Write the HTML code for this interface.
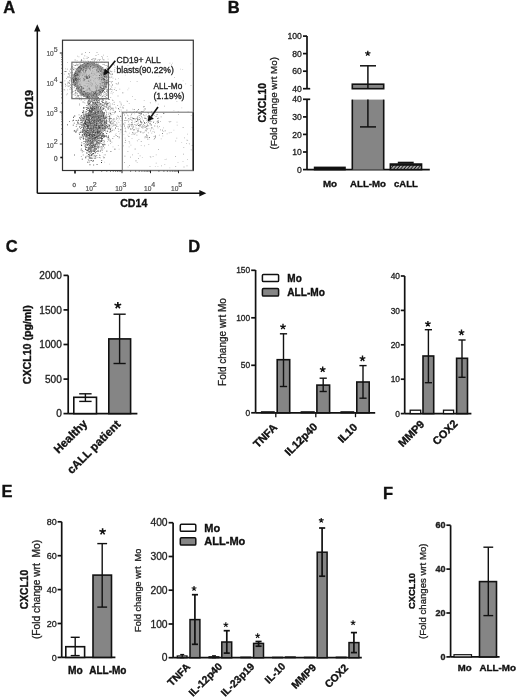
<!DOCTYPE html>
<html><head><meta charset="utf-8"><style>
html,body{margin:0;padding:0;background:#fff;width:520px;height:700px;overflow:hidden}
svg{display:block;will-change:transform}
text{font-family:"Liberation Sans",sans-serif}
</style></head><body>
<svg width="520" height="700" viewBox="0 0 520 700">
<rect width="520" height="700" fill="#fff"/>
<text x="3.2" y="13" font-size="16.5" font-weight="bold" text-anchor="start" fill="#111" stroke="#111" stroke-width="0.35" id="P_A">A</text>
<text x="227.7" y="13.1" font-size="16.5" font-weight="bold" text-anchor="start" fill="#111" stroke="#111" stroke-width="0.35" id="P_B">B</text>
<text x="5.8" y="251.8" font-size="16.5" font-weight="bold" text-anchor="start" fill="#111" stroke="#111" stroke-width="0.35" id="P_C">C</text>
<text x="188.2" y="252.1" font-size="16.5" font-weight="bold" text-anchor="start" fill="#111" stroke="#111" stroke-width="0.35" id="P_D">D</text>
<text x="1.5" y="496.9" font-size="16.5" font-weight="bold" text-anchor="start" fill="#111" stroke="#111" stroke-width="0.35" id="P_E">E</text>
<text x="383.1" y="499.2" font-size="16.5" font-weight="bold" text-anchor="start" fill="#111" stroke="#111" stroke-width="0.35" id="P_F">F</text>
<line x1="37.3" y1="30" x2="37.3" y2="193.3" stroke="#111" stroke-width="1.5"/>
<polygon points="37.3,24.3 34.1,31.5 40.5,31.5" fill="#111"/>
<line x1="37.3" y1="193.3" x2="200" y2="193.3" stroke="#111" stroke-width="1.5"/>
<polygon points="206.3,193.3 199.3,190.1 199.3,196.5" fill="#111"/>
<text x="32.6" y="103.5" font-size="10.5" font-weight="bold" text-anchor="middle" transform="rotate(-90 32.6 103.5)" fill="#111" stroke="#111" stroke-width="0.35">CD19</text>
<text x="120.2" y="207.3" font-size="10.5" font-weight="bold" text-anchor="start" textLength="27.1" lengthAdjust="spacingAndGlyphs" fill="#111" stroke="#111" stroke-width="0.35">CD14</text>
<path d="M75 74 C75 65 83 63 90 63 C98 63 105 67 105 75 C105 84 99.5 92 92 95.5 C87.5 97 82.5 95.5 79.5 90.5 C76.5 86 75 81 75 74 Z" fill="#c6c6c6"/>
<path d="M95.7 93.7h0.9v0.9h-0.9zM101.4 90.9h0.9v0.9h-0.9zM83.2 93.9h0.9v0.9h-0.9zM76.3 78.4h0.9v0.9h-0.9zM100.3 92.5h0.9v0.9h-0.9zM96.1 93.8h0.9v0.9h-0.9zM75.2 82.5h0.9v0.9h-0.9zM85.2 64.5h0.9v0.9h-0.9zM84.5 63.6h0.9v0.9h-0.9zM102.4 90.6h0.9v0.9h-0.9zM96.6 93.9h0.9v0.9h-0.9zM77.3 86.9h0.9v0.9h-0.9zM103.9 74.4h0.9v0.9h-0.9zM75.0 76.6h0.9v0.9h-0.9zM74.9 82.2h0.9v0.9h-0.9zM75.1 79.7h0.9v0.9h-0.9zM78.2 78.7h0.9v0.9h-0.9zM87.0 96.2h0.9v0.9h-0.9zM100.3 91.7h0.9v0.9h-0.9zM75.5 75.2h0.9v0.9h-0.9zM95.8 95.4h0.9v0.9h-0.9zM84.8 92.8h0.9v0.9h-0.9zM74.4 79.7h0.9v0.9h-0.9zM76.4 84.6h0.9v0.9h-0.9zM77.2 71.7h0.9v0.9h-0.9zM104.5 72.2h0.9v0.9h-0.9zM77.8 89.1h0.9v0.9h-0.9zM97.5 92.6h0.9v0.9h-0.9zM81.5 94.1h0.9v0.9h-0.9zM94.5 96.4h0.9v0.9h-0.9zM105.0 76.2h0.9v0.9h-0.9zM105.3 85.9h0.9v0.9h-0.9zM74.9 84.0h0.9v0.9h-0.9zM98.8 92.6h0.9v0.9h-0.9zM85.6 68.0h0.9v0.9h-0.9zM105.7 83.4h0.9v0.9h-0.9zM74.9 74.0h0.9v0.9h-0.9zM86.7 63.8h0.9v0.9h-0.9zM85.5 67.2h0.9v0.9h-0.9zM79.8 68.2h0.9v0.9h-0.9zM102.7 72.3h0.9v0.9h-0.9zM100.3 90.7h0.9v0.9h-0.9zM75.4 78.4h0.9v0.9h-0.9zM93.0 91.9h0.9v0.9h-0.9zM73.7 83.4h0.9v0.9h-0.9zM82.5 90.9h0.9v0.9h-0.9zM83.9 63.6h0.9v0.9h-0.9zM75.3 71.1h0.9v0.9h-0.9zM75.6 85.7h0.9v0.9h-0.9zM78.5 87.1h0.9v0.9h-0.9zM103.1 88.3h0.9v0.9h-0.9zM86.9 97.2h0.9v0.9h-0.9zM86.9 66.4h0.9v0.9h-0.9zM97.8 93.1h0.9v0.9h-0.9zM103.9 72.5h0.9v0.9h-0.9zM82.3 68.5h0.9v0.9h-0.9zM90.9 95.2h0.9v0.9h-0.9zM102.8 88.4h0.9v0.9h-0.9zM81.2 89.0h0.9v0.9h-0.9zM105.6 84.5h0.9v0.9h-0.9zM97.6 95.2h0.9v0.9h-0.9zM104.3 81.5h0.9v0.9h-0.9zM105.3 74.4h0.9v0.9h-0.9zM103.9 78.8h0.9v0.9h-0.9zM82.1 92.1h0.9v0.9h-0.9zM105.4 75.9h0.9v0.9h-0.9zM99.2 74.9h0.9v0.9h-0.9zM83.4 69.1h0.9v0.9h-0.9zM103.9 82.4h0.9v0.9h-0.9zM94.5 96.7h0.9v0.9h-0.9zM84.6 63.3h0.9v0.9h-0.9zM85.6 65.0h0.9v0.9h-0.9zM95.0 96.4h0.9v0.9h-0.9zM78.1 88.1h0.9v0.9h-0.9zM83.3 94.9h0.9v0.9h-0.9zM105.6 76.7h0.9v0.9h-0.9zM106.0 81.4h0.9v0.9h-0.9zM79.1 91.9h0.9v0.9h-0.9zM76.3 79.8h0.9v0.9h-0.9zM77.0 85.0h0.9v0.9h-0.9zM101.7 91.6h0.9v0.9h-0.9zM95.2 95.4h0.9v0.9h-0.9zM79.8 92.6h0.9v0.9h-0.9zM101.3 74.6h0.9v0.9h-0.9zM86.0 65.4h0.9v0.9h-0.9zM83.1 95.6h0.9v0.9h-0.9zM73.2 79.3h0.9v0.9h-0.9zM91.2 93.7h0.9v0.9h-0.9zM83.2 64.3h0.9v0.9h-0.9zM105.3 73.2h0.9v0.9h-0.9zM98.9 92.8h0.9v0.9h-0.9zM94.0 94.5h0.9v0.9h-0.9zM79.1 68.0h0.9v0.9h-0.9zM105.4 77.3h0.9v0.9h-0.9zM87.1 96.9h0.9v0.9h-0.9zM73.4 83.6h0.9v0.9h-0.9zM87.7 97.4h0.9v0.9h-0.9zM93.3 95.6h0.9v0.9h-0.9zM80.2 66.5h0.9v0.9h-0.9zM83.6 91.0h0.9v0.9h-0.9zM96.2 95.3h0.9v0.9h-0.9zM74.6 72.3h0.9v0.9h-0.9zM88.9 96.0h0.9v0.9h-0.9zM103.3 73.9h0.9v0.9h-0.9zM73.1 81.6h0.9v0.9h-0.9zM79.6 66.3h0.9v0.9h-0.9zM79.0 90.1h0.9v0.9h-0.9zM81.8 67.1h0.9v0.9h-0.9zM76.0 71.7h0.9v0.9h-0.9zM100.1 87.1h0.9v0.9h-0.9zM82.6 65.6h0.9v0.9h-0.9zM75.6 83.9h0.9v0.9h-0.9zM93.8 93.0h0.9v0.9h-0.9zM78.1 71.4h0.9v0.9h-0.9zM103.7 86.5h0.9v0.9h-0.9zM82.4 93.3h0.9v0.9h-0.9zM75.1 79.4h0.9v0.9h-0.9zM106.5 82.9h0.9v0.9h-0.9zM98.6 90.2h0.9v0.9h-0.9zM105.2 85.4h0.9v0.9h-0.9zM86.6 64.0h0.9v0.9h-0.9zM83.4 69.1h0.9v0.9h-0.9zM99.2 91.3h0.9v0.9h-0.9zM80.7 66.3h0.9v0.9h-0.9zM102.9 90.0h0.9v0.9h-0.9zM76.4 84.6h0.9v0.9h-0.9zM101.8 89.3h0.9v0.9h-0.9zM86.0 63.5h0.9v0.9h-0.9zM77.7 80.5h0.9v0.9h-0.9zM98.8 132.1h0.9v0.9h-0.9zM97.0 120.5h0.9v0.9h-0.9zM99.1 139.8h0.9v0.9h-0.9zM77.5 122.3h0.9v0.9h-0.9zM93.5 107.5h0.9v0.9h-0.9zM94.4 125.7h0.9v0.9h-0.9zM89.1 135.9h0.9v0.9h-0.9zM104.2 117.4h0.9v0.9h-0.9zM96.6 124.9h0.9v0.9h-0.9zM92.0 107.3h0.9v0.9h-0.9zM91.3 126.2h0.9v0.9h-0.9zM88.8 102.8h0.9v0.9h-0.9zM84.2 130.1h0.9v0.9h-0.9zM96.3 117.5h0.9v0.9h-0.9zM100.2 126.8h0.9v0.9h-0.9zM91.9 134.5h0.9v0.9h-0.9zM101.2 122.6h0.9v0.9h-0.9zM96.7 116.1h0.9v0.9h-0.9zM91.7 136.3h0.9v0.9h-0.9zM90.7 129.1h0.9v0.9h-0.9zM96.1 136.7h0.9v0.9h-0.9zM100.0 127.5h0.9v0.9h-0.9zM89.2 114.8h0.9v0.9h-0.9zM94.3 108.1h0.9v0.9h-0.9zM94.5 110.8h0.9v0.9h-0.9zM97.7 116.1h0.9v0.9h-0.9zM88.7 138.4h0.9v0.9h-0.9zM94.6 134.3h0.9v0.9h-0.9zM101.1 136.2h0.9v0.9h-0.9zM89.9 145.7h0.9v0.9h-0.9zM91.0 125.2h0.9v0.9h-0.9zM84.0 134.1h0.9v0.9h-0.9zM97.8 131.4h0.9v0.9h-0.9zM93.7 116.8h0.9v0.9h-0.9zM105.5 125.0h0.9v0.9h-0.9zM99.7 127.3h0.9v0.9h-0.9zM96.6 143.5h0.9v0.9h-0.9zM103.0 118.0h0.9v0.9h-0.9zM93.6 115.6h0.9v0.9h-0.9zM96.3 119.2h0.9v0.9h-0.9zM88.7 140.4h0.9v0.9h-0.9zM91.8 125.2h0.9v0.9h-0.9zM90.4 111.4h0.9v0.9h-0.9zM94.8 114.8h0.9v0.9h-0.9zM99.4 128.2h0.9v0.9h-0.9zM90.2 129.5h0.9v0.9h-0.9zM97.5 146.6h0.9v0.9h-0.9zM91.2 116.7h0.9v0.9h-0.9zM103.1 133.8h0.9v0.9h-0.9zM99.7 111.9h0.9v0.9h-0.9zM101.5 113.4h0.9v0.9h-0.9zM100.0 115.0h0.9v0.9h-0.9zM93.5 109.3h0.9v0.9h-0.9zM93.2 116.1h0.9v0.9h-0.9zM96.4 125.9h0.9v0.9h-0.9zM91.2 137.6h0.9v0.9h-0.9zM96.9 136.3h0.9v0.9h-0.9zM94.7 143.4h0.9v0.9h-0.9zM98.8 127.1h0.9v0.9h-0.9zM96.5 132.0h0.9v0.9h-0.9zM93.3 117.5h0.9v0.9h-0.9zM82.6 129.4h0.9v0.9h-0.9zM91.8 105.9h0.9v0.9h-0.9zM89.1 109.6h0.9v0.9h-0.9zM92.6 133.9h0.9v0.9h-0.9zM87.4 134.9h0.9v0.9h-0.9zM86.6 128.2h0.9v0.9h-0.9zM89.5 132.7h0.9v0.9h-0.9zM101.3 127.4h0.9v0.9h-0.9zM86.1 134.2h0.9v0.9h-0.9zM88.1 107.8h0.9v0.9h-0.9zM89.0 151.3h0.9v0.9h-0.9zM89.1 154.5h0.9v0.9h-0.9zM97.0 132.4h0.9v0.9h-0.9zM108.0 136.9h0.9v0.9h-0.9zM82.2 134.4h0.9v0.9h-0.9zM81.2 115.3h0.9v0.9h-0.9zM86.4 124.3h0.9v0.9h-0.9zM88.0 130.4h0.9v0.9h-0.9zM99.5 121.9h0.9v0.9h-0.9zM106.9 126.3h0.9v0.9h-0.9zM93.6 115.8h0.9v0.9h-0.9zM99.4 130.4h0.9v0.9h-0.9zM97.6 131.5h0.9v0.9h-0.9zM100.9 124.8h0.9v0.9h-0.9zM91.9 106.8h0.9v0.9h-0.9zM103.9 117.2h0.9v0.9h-0.9zM95.0 117.3h0.9v0.9h-0.9zM87.0 127.5h0.9v0.9h-0.9zM98.0 110.0h0.9v0.9h-0.9zM90.9 137.5h0.9v0.9h-0.9zM92.2 127.8h0.9v0.9h-0.9zM90.5 147.2h0.9v0.9h-0.9zM92.1 108.4h0.9v0.9h-0.9zM91.1 153.9h0.9v0.9h-0.9zM92.9 153.1h0.9v0.9h-0.9zM99.3 127.4h0.9v0.9h-0.9zM92.3 117.0h0.9v0.9h-0.9zM101.3 138.4h0.9v0.9h-0.9zM89.5 103.4h0.9v0.9h-0.9zM97.2 131.3h0.9v0.9h-0.9zM93.2 126.4h0.9v0.9h-0.9zM102.4 144.3h0.9v0.9h-0.9zM88.3 140.4h0.9v0.9h-0.9zM92.4 136.3h0.9v0.9h-0.9zM89.1 147.6h0.9v0.9h-0.9zM90.6 113.9h0.9v0.9h-0.9zM84.7 144.7h0.9v0.9h-0.9zM78.2 119.7h0.9v0.9h-0.9zM98.8 115.3h0.9v0.9h-0.9zM95.3 137.1h0.9v0.9h-0.9zM103.5 118.1h0.9v0.9h-0.9zM82.7 130.9h0.9v0.9h-0.9zM106.7 126.1h0.9v0.9h-0.9zM105.1 126.5h0.9v0.9h-0.9zM98.4 120.1h0.9v0.9h-0.9zM104.5 135.4h0.9v0.9h-0.9zM95.7 110.8h0.9v0.9h-0.9zM84.7 126.7h0.9v0.9h-0.9zM94.5 124.3h0.9v0.9h-0.9zM92.3 136.3h0.9v0.9h-0.9zM72.9 119.8h0.9v0.9h-0.9zM93.7 125.3h0.9v0.9h-0.9zM109.0 119.4h0.9v0.9h-0.9zM95.8 135.7h0.9v0.9h-0.9zM94.9 117.4h0.9v0.9h-0.9zM86.1 135.3h0.9v0.9h-0.9zM97.6 135.8h0.9v0.9h-0.9zM96.2 118.7h0.9v0.9h-0.9zM100.3 118.2h0.9v0.9h-0.9zM92.8 107.2h0.9v0.9h-0.9zM89.7 125.7h0.9v0.9h-0.9zM99.5 125.6h0.9v0.9h-0.9zM94.0 106.2h0.9v0.9h-0.9zM90.4 140.7h0.9v0.9h-0.9zM109.3 117.4h0.9v0.9h-0.9zM85.3 157.3h0.9v0.9h-0.9zM106.2 123.1h0.9v0.9h-0.9zM88.2 134.9h0.9v0.9h-0.9zM93.0 131.7h0.9v0.9h-0.9zM95.9 124.6h0.9v0.9h-0.9zM101.4 111.4h0.9v0.9h-0.9zM90.1 121.6h0.9v0.9h-0.9zM93.3 131.0h0.9v0.9h-0.9zM99.5 123.2h0.9v0.9h-0.9zM91.5 107.5h0.9v0.9h-0.9zM84.1 126.1h0.9v0.9h-0.9zM96.0 130.6h0.9v0.9h-0.9zM95.9 136.9h0.9v0.9h-0.9zM85.6 130.3h0.9v0.9h-0.9zM102.4 117.7h0.9v0.9h-0.9zM99.2 130.6h0.9v0.9h-0.9zM85.8 116.7h0.9v0.9h-0.9zM98.3 135.6h0.9v0.9h-0.9zM93.5 128.5h0.9v0.9h-0.9zM88.9 118.5h0.9v0.9h-0.9zM88.2 133.1h0.9v0.9h-0.9zM88.9 111.5h0.9v0.9h-0.9zM91.3 134.6h0.9v0.9h-0.9zM98.6 118.9h0.9v0.9h-0.9zM102.4 111.9h0.9v0.9h-0.9zM100.0 107.3h0.9v0.9h-0.9zM97.6 136.5h0.9v0.9h-0.9zM102.5 127.6h0.9v0.9h-0.9zM98.1 121.4h0.9v0.9h-0.9zM111.5 107.8h0.9v0.9h-0.9zM100.9 120.7h0.9v0.9h-0.9zM91.2 149.7h0.9v0.9h-0.9zM89.4 123.7h0.9v0.9h-0.9zM86.6 125.5h0.9v0.9h-0.9zM67.0 124.4h0.9v0.9h-0.9zM97.2 123.9h0.9v0.9h-0.9zM87.1 126.5h0.9v0.9h-0.9zM96.6 164.2h0.9v0.9h-0.9zM102.7 127.5h0.9v0.9h-0.9zM101.1 162.0h0.9v0.9h-0.9zM98.1 111.6h0.9v0.9h-0.9zM88.3 116.2h0.9v0.9h-0.9zM98.1 122.9h0.9v0.9h-0.9zM87.7 143.8h0.9v0.9h-0.9zM90.9 115.8h0.9v0.9h-0.9zM94.7 111.5h0.9v0.9h-0.9zM103.7 105.7h0.9v0.9h-0.9zM103.9 125.8h0.9v0.9h-0.9zM92.6 123.0h0.9v0.9h-0.9zM95.4 125.1h0.9v0.9h-0.9zM102.4 135.5h0.9v0.9h-0.9zM89.3 128.4h0.9v0.9h-0.9zM97.7 129.0h0.9v0.9h-0.9zM98.5 125.6h0.9v0.9h-0.9zM98.0 131.0h0.9v0.9h-0.9zM93.7 107.4h0.9v0.9h-0.9zM88.9 133.8h0.9v0.9h-0.9zM72.8 124.7h0.9v0.9h-0.9zM89.0 132.3h0.9v0.9h-0.9zM83.5 141.2h0.9v0.9h-0.9zM87.7 127.4h0.9v0.9h-0.9zM84.4 135.4h0.9v0.9h-0.9zM101.7 128.0h0.9v0.9h-0.9zM94.5 122.9h0.9v0.9h-0.9zM93.2 134.2h0.9v0.9h-0.9zM87.3 141.1h0.9v0.9h-0.9zM83.3 124.2h0.9v0.9h-0.9zM81.2 145.0h0.9v0.9h-0.9zM88.3 113.4h0.9v0.9h-0.9zM85.2 130.9h0.9v0.9h-0.9zM100.4 137.1h0.9v0.9h-0.9zM110.0 129.2h0.9v0.9h-0.9zM95.9 120.6h0.9v0.9h-0.9zM100.2 127.9h0.9v0.9h-0.9zM100.6 120.5h0.9v0.9h-0.9zM96.6 106.1h0.9v0.9h-0.9zM94.9 110.9h0.9v0.9h-0.9zM104.8 118.2h0.9v0.9h-0.9zM96.2 100.2h0.9v0.9h-0.9zM95.6 107.1h0.9v0.9h-0.9zM89.8 137.3h0.9v0.9h-0.9zM85.2 123.0h0.9v0.9h-0.9zM98.5 137.9h0.9v0.9h-0.9zM94.9 112.6h0.9v0.9h-0.9zM74.3 115.5h0.9v0.9h-0.9zM99.4 114.5h0.9v0.9h-0.9zM90.7 113.9h0.9v0.9h-0.9zM87.6 103.3h0.9v0.9h-0.9zM93.0 122.9h0.9v0.9h-0.9zM101.4 118.7h0.9v0.9h-0.9zM100.0 129.3h0.9v0.9h-0.9zM94.6 128.1h0.9v0.9h-0.9zM100.6 139.9h0.9v0.9h-0.9zM93.4 120.8h0.9v0.9h-0.9zM98.1 127.1h0.9v0.9h-0.9zM90.2 145.9h0.9v0.9h-0.9zM99.3 111.9h0.9v0.9h-0.9zM89.7 127.2h0.9v0.9h-0.9zM91.6 134.9h0.9v0.9h-0.9zM93.5 150.4h0.9v0.9h-0.9zM96.8 133.8h0.9v0.9h-0.9zM90.3 137.2h0.9v0.9h-0.9zM89.1 125.2h0.9v0.9h-0.9zM88.1 154.0h0.9v0.9h-0.9zM90.2 107.6h0.9v0.9h-0.9zM92.8 125.9h0.9v0.9h-0.9zM94.7 110.4h0.9v0.9h-0.9zM93.4 116.2h0.9v0.9h-0.9zM89.2 129.1h0.9v0.9h-0.9zM103.0 116.4h0.9v0.9h-0.9zM90.9 118.0h0.9v0.9h-0.9zM96.5 151.1h0.9v0.9h-0.9zM100.4 125.5h0.9v0.9h-0.9zM86.5 125.9h0.9v0.9h-0.9zM93.2 113.3h0.9v0.9h-0.9zM83.5 124.9h0.9v0.9h-0.9zM100.5 103.6h0.9v0.9h-0.9zM94.7 156.4h0.9v0.9h-0.9zM82.2 112.0h0.9v0.9h-0.9zM94.8 132.7h0.9v0.9h-0.9zM103.3 115.0h0.9v0.9h-0.9zM99.9 109.5h0.9v0.9h-0.9zM95.6 130.2h0.9v0.9h-0.9zM104.3 122.0h0.9v0.9h-0.9zM73.0 116.8h0.9v0.9h-0.9zM94.2 119.1h0.9v0.9h-0.9zM91.3 127.8h0.9v0.9h-0.9zM96.3 104.2h0.9v0.9h-0.9zM94.5 116.7h0.9v0.9h-0.9zM106.4 150.7h0.9v0.9h-0.9zM99.2 119.6h0.9v0.9h-0.9zM92.0 138.5h0.9v0.9h-0.9zM93.2 112.0h0.9v0.9h-0.9zM83.5 113.8h0.9v0.9h-0.9zM85.2 148.9h0.9v0.9h-0.9zM92.3 144.8h0.9v0.9h-0.9zM85.4 124.3h0.9v0.9h-0.9zM98.1 142.6h0.9v0.9h-0.9zM94.5 102.5h0.9v0.9h-0.9zM96.4 113.9h0.9v0.9h-0.9zM96.5 114.9h0.9v0.9h-0.9zM93.3 109.1h0.9v0.9h-0.9zM96.9 121.0h0.9v0.9h-0.9zM93.4 125.1h0.9v0.9h-0.9zM90.6 134.7h0.9v0.9h-0.9zM92.7 127.2h0.9v0.9h-0.9zM85.6 115.0h0.9v0.9h-0.9zM102.2 135.8h0.9v0.9h-0.9zM104.7 121.3h0.9v0.9h-0.9zM90.3 142.2h0.9v0.9h-0.9zM83.7 116.6h0.9v0.9h-0.9zM87.4 144.7h0.9v0.9h-0.9zM108.6 124.5h0.9v0.9h-0.9zM93.4 128.0h0.9v0.9h-0.9zM95.7 115.8h0.9v0.9h-0.9zM103.0 115.0h0.9v0.9h-0.9zM96.2 132.3h0.9v0.9h-0.9zM92.6 127.6h0.9v0.9h-0.9zM95.9 110.0h0.9v0.9h-0.9zM88.6 132.2h0.9v0.9h-0.9zM97.4 116.7h0.9v0.9h-0.9zM86.7 119.0h0.9v0.9h-0.9zM105.4 128.0h0.9v0.9h-0.9zM94.0 121.7h0.9v0.9h-0.9zM89.5 115.5h0.9v0.9h-0.9zM86.3 106.9h0.9v0.9h-0.9zM87.9 120.4h0.9v0.9h-0.9zM94.1 110.8h0.9v0.9h-0.9zM91.8 105.8h0.9v0.9h-0.9zM81.5 123.8h0.9v0.9h-0.9zM90.6 118.9h0.9v0.9h-0.9zM93.0 119.0h0.9v0.9h-0.9zM94.9 139.9h0.9v0.9h-0.9zM95.9 121.1h0.9v0.9h-0.9zM103.0 113.2h0.9v0.9h-0.9zM88.9 114.4h0.9v0.9h-0.9zM87.3 138.6h0.9v0.9h-0.9zM80.7 136.8h0.9v0.9h-0.9zM80.7 122.0h0.9v0.9h-0.9zM93.0 132.1h0.9v0.9h-0.9zM92.2 112.4h0.9v0.9h-0.9zM106.3 120.6h0.9v0.9h-0.9zM87.3 101.7h0.9v0.9h-0.9zM84.8 135.6h0.9v0.9h-0.9zM94.5 102.6h0.9v0.9h-0.9zM99.6 108.6h0.9v0.9h-0.9zM109.0 125.5h0.9v0.9h-0.9zM87.0 127.8h0.9v0.9h-0.9zM98.3 111.0h0.9v0.9h-0.9zM94.2 131.3h0.9v0.9h-0.9zM102.3 133.2h0.9v0.9h-0.9zM89.2 133.7h0.9v0.9h-0.9zM88.4 118.3h0.9v0.9h-0.9zM101.4 139.7h0.9v0.9h-0.9zM81.7 126.7h0.9v0.9h-0.9zM95.6 118.6h0.9v0.9h-0.9zM108.6 116.2h0.9v0.9h-0.9zM91.8 124.8h0.9v0.9h-0.9zM88.5 100.9h0.9v0.9h-0.9zM84.2 133.6h0.9v0.9h-0.9zM82.1 134.6h0.9v0.9h-0.9zM83.6 117.8h0.9v0.9h-0.9zM95.2 126.7h0.9v0.9h-0.9zM100.8 112.7h0.9v0.9h-0.9zM84.6 126.0h0.9v0.9h-0.9zM92.5 114.5h0.9v0.9h-0.9zM92.2 146.5h0.9v0.9h-0.9zM94.6 112.1h0.9v0.9h-0.9zM93.7 136.7h0.9v0.9h-0.9zM90.8 130.3h0.9v0.9h-0.9zM87.9 114.8h0.9v0.9h-0.9zM110.5 118.0h0.9v0.9h-0.9zM95.7 109.5h0.9v0.9h-0.9zM99.1 101.5h0.9v0.9h-0.9zM94.6 116.8h0.9v0.9h-0.9zM88.9 119.6h0.9v0.9h-0.9zM88.2 119.9h0.9v0.9h-0.9zM88.6 113.0h0.9v0.9h-0.9zM103.9 124.0h0.9v0.9h-0.9zM109.7 122.0h0.9v0.9h-0.9zM91.7 114.0h0.9v0.9h-0.9zM93.9 138.4h0.9v0.9h-0.9zM92.6 135.7h0.9v0.9h-0.9zM90.7 146.7h0.9v0.9h-0.9zM95.5 127.3h0.9v0.9h-0.9zM94.5 137.0h0.9v0.9h-0.9zM97.4 117.6h0.9v0.9h-0.9zM92.0 135.2h0.9v0.9h-0.9zM95.4 119.9h0.9v0.9h-0.9zM80.5 120.0h0.9v0.9h-0.9zM83.8 130.2h0.9v0.9h-0.9zM96.3 127.5h0.9v0.9h-0.9zM100.1 110.9h0.9v0.9h-0.9zM95.2 143.9h0.9v0.9h-0.9zM96.3 122.0h0.9v0.9h-0.9zM94.9 116.2h0.9v0.9h-0.9zM96.5 114.7h0.9v0.9h-0.9zM97.7 129.5h0.9v0.9h-0.9zM88.5 123.3h0.9v0.9h-0.9zM97.3 102.0h0.9v0.9h-0.9zM94.4 144.4h0.9v0.9h-0.9zM96.7 112.3h0.9v0.9h-0.9zM94.6 120.8h0.9v0.9h-0.9zM87.8 119.9h0.9v0.9h-0.9zM89.9 132.3h0.9v0.9h-0.9zM103.0 133.2h0.9v0.9h-0.9zM96.3 128.3h0.9v0.9h-0.9zM103.9 112.3h0.9v0.9h-0.9zM88.8 100.1h0.9v0.9h-0.9zM94.3 147.7h0.9v0.9h-0.9zM86.1 118.8h0.9v0.9h-0.9zM86.3 141.1h0.9v0.9h-0.9zM101.0 131.9h0.9v0.9h-0.9zM96.2 125.0h0.9v0.9h-0.9zM94.3 118.9h0.9v0.9h-0.9zM96.1 122.7h0.9v0.9h-0.9zM96.0 132.4h0.9v0.9h-0.9zM92.9 125.9h0.9v0.9h-0.9zM92.8 114.6h0.9v0.9h-0.9zM100.0 115.4h0.9v0.9h-0.9zM96.2 118.0h0.9v0.9h-0.9zM92.0 119.9h0.9v0.9h-0.9zM89.0 109.4h0.9v0.9h-0.9zM87.2 125.4h0.9v0.9h-0.9zM94.6 103.1h0.9v0.9h-0.9zM98.1 128.8h0.9v0.9h-0.9zM82.7 118.2h0.9v0.9h-0.9zM93.3 101.8h0.9v0.9h-0.9zM89.1 120.9h0.9v0.9h-0.9zM94.7 96.8h0.9v0.9h-0.9zM101.1 137.6h0.9v0.9h-0.9zM106.5 102.7h0.9v0.9h-0.9zM102.7 116.8h0.9v0.9h-0.9zM110.2 122.7h0.9v0.9h-0.9zM98.6 128.1h0.9v0.9h-0.9zM81.8 158.7h0.9v0.9h-0.9zM92.2 103.4h0.9v0.9h-0.9zM98.9 133.8h0.9v0.9h-0.9zM98.5 125.6h0.9v0.9h-0.9zM89.2 122.5h0.9v0.9h-0.9zM89.2 120.3h0.9v0.9h-0.9zM95.4 96.6h0.9v0.9h-0.9zM85.8 131.0h0.9v0.9h-0.9zM94.7 112.6h0.9v0.9h-0.9zM98.4 117.0h0.9v0.9h-0.9zM98.7 104.5h0.9v0.9h-0.9zM101.8 111.6h0.9v0.9h-0.9zM88.6 122.0h0.9v0.9h-0.9z" fill="#202020"/>
<path d="M103.8 81.9h0.9v0.9h-0.9zM80.9 69.0h0.9v0.9h-0.9zM105.6 85.9h0.9v0.9h-0.9zM86.9 92.0h0.9v0.9h-0.9zM75.1 72.4h0.9v0.9h-0.9zM103.6 85.9h0.9v0.9h-0.9zM105.2 74.5h0.9v0.9h-0.9zM76.2 82.4h0.9v0.9h-0.9zM76.8 79.6h0.9v0.9h-0.9zM105.6 73.2h0.9v0.9h-0.9zM99.7 86.9h0.9v0.9h-0.9zM104.4 76.0h0.9v0.9h-0.9zM73.4 77.5h0.9v0.9h-0.9zM100.5 92.2h0.9v0.9h-0.9zM93.2 94.3h0.9v0.9h-0.9zM78.8 70.3h0.9v0.9h-0.9zM83.2 67.0h0.9v0.9h-0.9zM82.4 88.1h0.9v0.9h-0.9zM80.0 70.5h0.9v0.9h-0.9zM106.6 80.0h0.9v0.9h-0.9zM92.8 96.1h0.9v0.9h-0.9zM86.6 63.2h0.9v0.9h-0.9zM98.9 92.8h0.9v0.9h-0.9zM80.7 90.3h0.9v0.9h-0.9zM75.2 73.2h0.9v0.9h-0.9zM101.4 78.9h0.9v0.9h-0.9zM93.8 92.7h0.9v0.9h-0.9zM93.3 92.3h0.9v0.9h-0.9zM86.7 94.5h0.9v0.9h-0.9zM106.9 81.8h0.9v0.9h-0.9zM73.4 77.1h0.9v0.9h-0.9zM101.9 90.6h0.9v0.9h-0.9zM85.8 96.7h0.9v0.9h-0.9zM81.0 93.1h0.9v0.9h-0.9zM77.6 87.8h0.9v0.9h-0.9zM76.5 87.9h0.9v0.9h-0.9zM76.2 71.7h0.9v0.9h-0.9zM78.8 71.9h0.9v0.9h-0.9zM77.9 77.6h0.9v0.9h-0.9zM84.3 64.7h0.9v0.9h-0.9zM79.2 78.6h0.9v0.9h-0.9zM94.4 91.1h0.9v0.9h-0.9zM77.7 70.4h0.9v0.9h-0.9zM104.5 82.3h0.9v0.9h-0.9zM88.1 93.8h0.9v0.9h-0.9zM82.9 93.5h0.9v0.9h-0.9zM100.3 91.3h0.9v0.9h-0.9zM81.6 92.5h0.9v0.9h-0.9zM104.6 77.1h0.9v0.9h-0.9zM88.6 88.0h0.9v0.9h-0.9zM83.6 92.5h0.9v0.9h-0.9zM95.5 96.1h0.9v0.9h-0.9zM76.3 69.2h0.9v0.9h-0.9zM105.6 77.0h0.9v0.9h-0.9zM91.8 94.4h0.9v0.9h-0.9zM98.6 90.7h0.9v0.9h-0.9zM78.0 67.3h0.9v0.9h-0.9zM76.9 74.0h0.9v0.9h-0.9zM73.1 80.8h0.9v0.9h-0.9zM84.6 65.1h0.9v0.9h-0.9zM80.1 89.5h0.9v0.9h-0.9zM74.9 72.5h0.9v0.9h-0.9zM105.4 76.6h0.9v0.9h-0.9zM95.8 92.9h0.9v0.9h-0.9zM97.7 93.1h0.9v0.9h-0.9zM75.8 83.4h0.9v0.9h-0.9zM85.7 69.4h0.9v0.9h-0.9zM101.9 88.8h0.9v0.9h-0.9zM105.7 84.7h0.9v0.9h-0.9zM85.1 71.4h0.9v0.9h-0.9zM82.1 91.3h0.9v0.9h-0.9zM77.0 83.7h0.9v0.9h-0.9zM87.7 96.7h0.9v0.9h-0.9zM95.8 93.3h0.9v0.9h-0.9zM102.3 89.7h0.9v0.9h-0.9zM94.9 93.3h0.9v0.9h-0.9zM95.8 94.3h0.9v0.9h-0.9zM79.1 91.1h0.9v0.9h-0.9zM96.5 86.6h0.9v0.9h-0.9zM106.0 81.4h0.9v0.9h-0.9zM80.5 92.8h0.9v0.9h-0.9zM88.2 96.6h0.9v0.9h-0.9zM76.0 87.4h0.9v0.9h-0.9zM80.8 86.4h0.9v0.9h-0.9zM81.1 87.7h0.9v0.9h-0.9zM76.4 73.6h0.9v0.9h-0.9zM105.9 85.9h0.9v0.9h-0.9zM94.6 95.5h0.9v0.9h-0.9zM88.5 97.5h0.9v0.9h-0.9zM82.9 70.4h0.9v0.9h-0.9zM82.9 65.3h0.9v0.9h-0.9zM78.7 85.9h0.9v0.9h-0.9zM106.3 74.7h0.9v0.9h-0.9zM104.4 71.6h0.9v0.9h-0.9zM75.2 73.0h0.9v0.9h-0.9zM76.5 80.8h0.9v0.9h-0.9zM78.6 66.8h0.9v0.9h-0.9zM103.8 83.4h0.9v0.9h-0.9zM79.8 65.8h0.9v0.9h-0.9zM75.3 79.3h0.9v0.9h-0.9zM103.1 78.1h0.9v0.9h-0.9zM104.3 72.9h0.9v0.9h-0.9zM82.0 67.5h0.9v0.9h-0.9zM84.3 63.7h0.9v0.9h-0.9zM74.1 75.9h0.9v0.9h-0.9zM85.5 66.6h0.9v0.9h-0.9zM78.7 91.0h0.9v0.9h-0.9zM102.1 88.5h0.9v0.9h-0.9zM76.6 85.2h0.9v0.9h-0.9zM93.2 95.6h0.9v0.9h-0.9zM78.6 71.4h0.9v0.9h-0.9zM83.9 67.1h0.9v0.9h-0.9zM80.0 88.4h0.9v0.9h-0.9zM100.8 90.2h0.9v0.9h-0.9zM78.2 91.2h0.9v0.9h-0.9zM73.3 76.4h0.9v0.9h-0.9zM105.3 86.4h0.9v0.9h-0.9zM76.4 85.6h0.9v0.9h-0.9zM103.7 82.4h0.9v0.9h-0.9zM80.7 92.4h0.9v0.9h-0.9zM92.1 96.9h0.9v0.9h-0.9zM74.9 75.3h0.9v0.9h-0.9zM95.9 90.0h0.9v0.9h-0.9zM105.4 81.3h0.9v0.9h-0.9zM77.8 86.8h0.9v0.9h-0.9zM91.5 95.1h0.9v0.9h-0.9zM82.1 129.6h0.9v0.9h-0.9zM99.4 134.8h0.9v0.9h-0.9zM105.4 116.7h0.9v0.9h-0.9zM97.8 113.7h0.9v0.9h-0.9zM100.1 119.2h0.9v0.9h-0.9zM84.6 134.8h0.9v0.9h-0.9zM91.9 101.4h0.9v0.9h-0.9zM88.4 141.4h0.9v0.9h-0.9zM87.9 127.6h0.9v0.9h-0.9zM94.0 120.0h0.9v0.9h-0.9zM91.0 136.9h0.9v0.9h-0.9zM99.0 99.6h0.9v0.9h-0.9zM87.7 124.9h0.9v0.9h-0.9zM91.3 146.1h0.9v0.9h-0.9zM92.6 130.8h0.9v0.9h-0.9zM103.2 116.3h0.9v0.9h-0.9zM83.5 130.1h0.9v0.9h-0.9zM101.2 141.0h0.9v0.9h-0.9zM89.2 135.1h0.9v0.9h-0.9zM96.9 116.5h0.9v0.9h-0.9zM89.1 110.2h0.9v0.9h-0.9zM89.2 116.9h0.9v0.9h-0.9zM94.0 127.5h0.9v0.9h-0.9zM104.1 129.8h0.9v0.9h-0.9zM103.0 145.7h0.9v0.9h-0.9zM104.2 118.8h0.9v0.9h-0.9zM102.1 120.7h0.9v0.9h-0.9zM101.8 111.8h0.9v0.9h-0.9zM92.1 110.6h0.9v0.9h-0.9zM96.0 113.8h0.9v0.9h-0.9zM97.1 114.1h0.9v0.9h-0.9zM93.8 125.2h0.9v0.9h-0.9zM89.7 131.8h0.9v0.9h-0.9zM89.6 119.1h0.9v0.9h-0.9zM92.7 139.7h0.9v0.9h-0.9zM96.5 127.7h0.9v0.9h-0.9zM92.5 116.6h0.9v0.9h-0.9zM88.3 123.8h0.9v0.9h-0.9zM90.1 114.8h0.9v0.9h-0.9zM93.6 135.3h0.9v0.9h-0.9zM93.7 128.5h0.9v0.9h-0.9zM97.3 121.1h0.9v0.9h-0.9zM91.3 107.7h0.9v0.9h-0.9zM93.6 129.9h0.9v0.9h-0.9zM109.0 118.0h0.9v0.9h-0.9zM97.4 130.6h0.9v0.9h-0.9zM81.5 120.4h0.9v0.9h-0.9zM101.8 104.8h0.9v0.9h-0.9zM89.9 112.9h0.9v0.9h-0.9zM87.9 128.1h0.9v0.9h-0.9zM85.5 142.4h0.9v0.9h-0.9zM97.9 124.4h0.9v0.9h-0.9zM93.9 109.4h0.9v0.9h-0.9zM90.3 120.8h0.9v0.9h-0.9zM94.8 137.5h0.9v0.9h-0.9zM89.7 109.9h0.9v0.9h-0.9zM85.6 119.7h0.9v0.9h-0.9zM87.1 126.5h0.9v0.9h-0.9zM85.5 111.6h0.9v0.9h-0.9zM82.6 135.9h0.9v0.9h-0.9zM105.0 117.5h0.9v0.9h-0.9zM96.1 123.0h0.9v0.9h-0.9zM89.8 110.4h0.9v0.9h-0.9zM102.1 101.8h0.9v0.9h-0.9zM94.0 137.4h0.9v0.9h-0.9zM96.4 116.1h0.9v0.9h-0.9zM84.7 121.8h0.9v0.9h-0.9zM100.3 125.8h0.9v0.9h-0.9zM95.4 122.2h0.9v0.9h-0.9zM90.3 100.8h0.9v0.9h-0.9zM99.4 125.2h0.9v0.9h-0.9zM96.7 130.7h0.9v0.9h-0.9zM92.4 129.0h0.9v0.9h-0.9zM91.9 142.5h0.9v0.9h-0.9zM92.2 121.7h0.9v0.9h-0.9zM96.4 119.7h0.9v0.9h-0.9zM90.0 126.6h0.9v0.9h-0.9zM94.2 146.2h0.9v0.9h-0.9zM91.2 117.7h0.9v0.9h-0.9zM100.1 125.0h0.9v0.9h-0.9zM94.8 119.9h0.9v0.9h-0.9zM95.6 138.5h0.9v0.9h-0.9zM97.1 129.0h0.9v0.9h-0.9zM105.2 109.7h0.9v0.9h-0.9zM94.6 117.8h0.9v0.9h-0.9zM96.1 107.3h0.9v0.9h-0.9zM94.6 134.9h0.9v0.9h-0.9zM89.7 122.2h0.9v0.9h-0.9zM94.5 140.0h0.9v0.9h-0.9zM89.7 111.4h0.9v0.9h-0.9zM96.0 116.8h0.9v0.9h-0.9zM93.2 102.5h0.9v0.9h-0.9zM96.0 98.5h0.9v0.9h-0.9zM102.6 120.1h0.9v0.9h-0.9zM97.9 127.4h0.9v0.9h-0.9zM96.6 123.5h0.9v0.9h-0.9zM103.8 136.2h0.9v0.9h-0.9zM88.6 138.2h0.9v0.9h-0.9zM99.3 126.2h0.9v0.9h-0.9zM101.6 120.8h0.9v0.9h-0.9zM94.7 137.7h0.9v0.9h-0.9zM99.5 121.9h0.9v0.9h-0.9zM85.3 133.0h0.9v0.9h-0.9zM90.9 112.2h0.9v0.9h-0.9zM86.9 150.0h0.9v0.9h-0.9zM82.8 110.5h0.9v0.9h-0.9zM95.8 120.8h0.9v0.9h-0.9zM98.5 135.1h0.9v0.9h-0.9zM100.8 122.7h0.9v0.9h-0.9zM93.9 111.3h0.9v0.9h-0.9zM88.8 131.4h0.9v0.9h-0.9zM98.2 150.5h0.9v0.9h-0.9zM84.9 141.3h0.9v0.9h-0.9zM94.2 135.1h0.9v0.9h-0.9zM86.6 125.6h0.9v0.9h-0.9zM95.5 105.3h0.9v0.9h-0.9zM92.3 107.6h0.9v0.9h-0.9zM99.8 131.4h0.9v0.9h-0.9zM80.5 130.7h0.9v0.9h-0.9zM103.5 125.7h0.9v0.9h-0.9zM104.4 103.6h0.9v0.9h-0.9zM85.4 118.4h0.9v0.9h-0.9zM106.1 124.9h0.9v0.9h-0.9zM95.0 138.3h0.9v0.9h-0.9zM87.1 121.8h0.9v0.9h-0.9zM86.8 112.9h0.9v0.9h-0.9zM92.5 99.8h0.9v0.9h-0.9zM97.1 130.4h0.9v0.9h-0.9zM98.0 107.6h0.9v0.9h-0.9zM90.5 129.4h0.9v0.9h-0.9zM90.5 111.7h0.9v0.9h-0.9zM81.3 124.7h0.9v0.9h-0.9zM102.2 129.6h0.9v0.9h-0.9zM101.5 101.2h0.9v0.9h-0.9zM83.5 128.8h0.9v0.9h-0.9zM92.3 131.6h0.9v0.9h-0.9zM85.0 123.0h0.9v0.9h-0.9zM91.1 127.6h0.9v0.9h-0.9zM102.3 134.6h0.9v0.9h-0.9zM93.8 130.2h0.9v0.9h-0.9zM93.1 137.4h0.9v0.9h-0.9zM94.8 127.7h0.9v0.9h-0.9zM86.5 152.7h0.9v0.9h-0.9zM94.2 138.7h0.9v0.9h-0.9zM102.8 123.5h0.9v0.9h-0.9zM87.2 123.6h0.9v0.9h-0.9zM89.1 133.9h0.9v0.9h-0.9zM87.5 106.7h0.9v0.9h-0.9zM97.6 127.7h0.9v0.9h-0.9zM95.3 116.3h0.9v0.9h-0.9zM100.1 103.4h0.9v0.9h-0.9zM85.8 128.6h0.9v0.9h-0.9zM102.6 127.3h0.9v0.9h-0.9zM95.0 122.7h0.9v0.9h-0.9zM90.9 109.3h0.9v0.9h-0.9zM96.0 136.8h0.9v0.9h-0.9zM87.8 119.0h0.9v0.9h-0.9zM90.0 123.3h0.9v0.9h-0.9zM93.4 103.2h0.9v0.9h-0.9zM84.6 131.6h0.9v0.9h-0.9zM105.7 120.6h0.9v0.9h-0.9zM95.5 117.3h0.9v0.9h-0.9zM91.0 145.3h0.9v0.9h-0.9zM86.3 134.3h0.9v0.9h-0.9zM96.2 103.8h0.9v0.9h-0.9zM92.2 137.9h0.9v0.9h-0.9zM92.1 153.6h0.9v0.9h-0.9zM88.7 123.4h0.9v0.9h-0.9zM88.1 125.4h0.9v0.9h-0.9zM86.9 132.1h0.9v0.9h-0.9zM87.1 127.0h0.9v0.9h-0.9zM91.3 115.5h0.9v0.9h-0.9zM90.9 112.2h0.9v0.9h-0.9zM98.7 131.5h0.9v0.9h-0.9zM89.4 131.5h0.9v0.9h-0.9zM89.9 140.2h0.9v0.9h-0.9zM86.0 114.6h0.9v0.9h-0.9zM97.1 122.6h0.9v0.9h-0.9zM101.8 115.7h0.9v0.9h-0.9zM104.0 121.8h0.9v0.9h-0.9zM90.4 104.4h0.9v0.9h-0.9zM83.4 120.3h0.9v0.9h-0.9zM93.9 121.9h0.9v0.9h-0.9zM94.8 102.5h0.9v0.9h-0.9zM88.1 132.6h0.9v0.9h-0.9zM94.0 109.6h0.9v0.9h-0.9zM76.1 131.4h0.9v0.9h-0.9zM97.0 135.9h0.9v0.9h-0.9zM92.0 104.4h0.9v0.9h-0.9zM94.1 124.7h0.9v0.9h-0.9zM87.3 130.1h0.9v0.9h-0.9zM103.7 128.3h0.9v0.9h-0.9zM95.2 152.3h0.9v0.9h-0.9zM92.9 142.5h0.9v0.9h-0.9zM95.5 102.1h0.9v0.9h-0.9zM100.1 120.6h0.9v0.9h-0.9zM93.9 117.4h0.9v0.9h-0.9zM94.5 125.8h0.9v0.9h-0.9zM94.8 119.2h0.9v0.9h-0.9zM84.6 126.6h0.9v0.9h-0.9zM96.6 121.3h0.9v0.9h-0.9zM83.1 107.5h0.9v0.9h-0.9zM100.6 142.9h0.9v0.9h-0.9zM99.1 125.1h0.9v0.9h-0.9zM83.1 126.5h0.9v0.9h-0.9zM94.1 99.8h0.9v0.9h-0.9zM93.8 133.8h0.9v0.9h-0.9zM94.8 107.7h0.9v0.9h-0.9zM92.0 119.5h0.9v0.9h-0.9zM87.4 161.8h0.9v0.9h-0.9zM87.7 139.3h0.9v0.9h-0.9zM90.6 124.9h0.9v0.9h-0.9zM86.7 132.5h0.9v0.9h-0.9zM86.9 125.0h0.9v0.9h-0.9z" fill="#303030"/>
<path d="M129.1 125.7h0.8v0.8h-0.8zM149.8 120.4h0.8v0.8h-0.8zM142.6 111.1h0.8v0.8h-0.8zM163.4 113.1h0.8v0.8h-0.8zM140.6 114.0h0.8v0.8h-0.8zM148.9 137.1h0.8v0.8h-0.8zM141.3 111.3h0.8v0.8h-0.8zM156.8 121.4h0.8v0.8h-0.8zM162.2 133.0h0.8v0.8h-0.8zM147.6 112.0h0.8v0.8h-0.8zM150.9 115.2h0.8v0.8h-0.8zM144.0 117.7h0.8v0.8h-0.8zM143.7 126.7h0.8v0.8h-0.8zM151.5 126.9h0.8v0.8h-0.8zM139.5 125.7h0.8v0.8h-0.8zM111.7 123.3h0.8v0.8h-0.8zM138.1 125.1h0.8v0.8h-0.8zM132.4 132.0h0.8v0.8h-0.8zM140.6 122.3h0.8v0.8h-0.8zM145.8 130.4h0.8v0.8h-0.8zM152.4 118.6h0.8v0.8h-0.8zM155.0 136.8h0.8v0.8h-0.8zM144.8 136.4h0.8v0.8h-0.8zM158.1 122.0h0.8v0.8h-0.8zM148.0 121.8h0.8v0.8h-0.8zM133.8 109.2h0.8v0.8h-0.8zM140.4 120.9h0.8v0.8h-0.8zM136.3 111.6h0.8v0.8h-0.8zM132.7 126.4h0.8v0.8h-0.8zM157.8 120.6h0.8v0.8h-0.8zM136.1 121.3h0.8v0.8h-0.8zM137.2 119.6h0.8v0.8h-0.8zM133.4 117.9h0.8v0.8h-0.8zM128.4 118.2h0.8v0.8h-0.8zM137.6 130.9h0.8v0.8h-0.8zM144.1 122.0h0.8v0.8h-0.8zM136.8 123.8h0.8v0.8h-0.8zM146.1 134.6h0.8v0.8h-0.8zM146.5 136.8h0.8v0.8h-0.8zM125.3 117.6h0.8v0.8h-0.8zM132.9 118.0h0.8v0.8h-0.8zM151.0 115.2h0.8v0.8h-0.8zM115.3 124.6h0.8v0.8h-0.8zM138.0 109.3h0.8v0.8h-0.8zM133.6 129.1h0.8v0.8h-0.8zM147.4 124.9h0.8v0.8h-0.8z" fill="#404040"/>
<path d="M73.3 79.0h0.9v0.9h-0.9zM84.2 94.5h0.9v0.9h-0.9zM88.3 63.5h0.9v0.9h-0.9zM75.6 71.1h0.9v0.9h-0.9zM93.8 94.8h0.9v0.9h-0.9zM85.7 63.8h0.9v0.9h-0.9zM78.6 71.0h0.9v0.9h-0.9zM103.8 69.9h0.9v0.9h-0.9zM104.2 85.7h0.9v0.9h-0.9zM101.4 80.4h0.9v0.9h-0.9zM100.8 69.4h0.9v0.9h-0.9zM75.8 73.3h0.9v0.9h-0.9zM99.0 92.8h0.9v0.9h-0.9zM81.4 94.3h0.9v0.9h-0.9zM97.1 65.5h0.9v0.9h-0.9zM79.6 91.9h0.9v0.9h-0.9zM73.3 78.7h0.9v0.9h-0.9zM89.6 89.3h0.9v0.9h-0.9zM86.4 64.3h0.9v0.9h-0.9zM74.3 77.7h0.9v0.9h-0.9zM104.1 70.3h0.9v0.9h-0.9zM103.8 78.7h0.9v0.9h-0.9zM104.4 79.0h0.9v0.9h-0.9zM80.5 65.3h0.9v0.9h-0.9zM74.0 73.7h0.9v0.9h-0.9zM95.9 64.1h0.9v0.9h-0.9zM93.2 95.7h0.9v0.9h-0.9zM101.2 88.8h0.9v0.9h-0.9zM101.0 67.7h0.9v0.9h-0.9zM79.6 92.4h0.9v0.9h-0.9zM85.5 70.0h0.9v0.9h-0.9zM76.0 75.1h0.9v0.9h-0.9zM74.1 84.9h0.9v0.9h-0.9zM102.7 72.8h0.9v0.9h-0.9zM88.2 65.6h0.9v0.9h-0.9zM103.8 71.2h0.9v0.9h-0.9zM80.9 91.0h0.9v0.9h-0.9zM88.3 97.4h0.9v0.9h-0.9zM87.4 92.2h0.9v0.9h-0.9zM97.7 71.3h0.9v0.9h-0.9zM91.0 95.8h0.9v0.9h-0.9zM98.6 66.4h0.9v0.9h-0.9zM74.6 74.1h0.9v0.9h-0.9zM87.8 95.1h0.9v0.9h-0.9zM99.1 91.9h0.9v0.9h-0.9zM95.9 93.2h0.9v0.9h-0.9zM92.7 64.8h0.9v0.9h-0.9zM103.5 75.5h0.9v0.9h-0.9zM81.7 65.9h0.9v0.9h-0.9zM103.6 88.3h0.9v0.9h-0.9zM103.2 72.7h0.9v0.9h-0.9zM76.8 77.7h0.9v0.9h-0.9zM88.7 92.8h0.9v0.9h-0.9zM74.4 79.7h0.9v0.9h-0.9zM79.1 87.2h0.9v0.9h-0.9zM93.7 64.2h0.9v0.9h-0.9zM95.7 64.1h0.9v0.9h-0.9zM80.7 66.7h0.9v0.9h-0.9zM97.7 93.6h0.9v0.9h-0.9zM81.9 94.1h0.9v0.9h-0.9zM90.7 96.4h0.9v0.9h-0.9zM104.2 82.2h0.9v0.9h-0.9zM84.6 95.5h0.9v0.9h-0.9zM87.8 92.6h0.9v0.9h-0.9zM102.9 74.1h0.9v0.9h-0.9zM101.0 71.2h0.9v0.9h-0.9zM102.0 70.9h0.9v0.9h-0.9zM90.0 66.3h0.9v0.9h-0.9zM73.6 78.6h0.9v0.9h-0.9zM95.2 91.5h0.9v0.9h-0.9zM104.4 76.2h0.9v0.9h-0.9zM73.7 74.4h0.9v0.9h-0.9zM86.0 95.5h0.9v0.9h-0.9zM103.0 68.9h0.9v0.9h-0.9zM76.5 85.4h0.9v0.9h-0.9zM75.8 78.0h0.9v0.9h-0.9zM83.9 63.8h0.9v0.9h-0.9zM75.2 73.1h0.9v0.9h-0.9zM100.9 91.3h0.9v0.9h-0.9zM96.8 66.3h0.9v0.9h-0.9zM87.0 62.9h0.9v0.9h-0.9zM95.0 65.1h0.9v0.9h-0.9zM101.9 67.3h0.9v0.9h-0.9zM73.1 79.5h0.9v0.9h-0.9zM103.6 69.5h0.9v0.9h-0.9zM100.6 67.3h0.9v0.9h-0.9zM87.6 67.4h0.9v0.9h-0.9zM101.9 67.4h0.9v0.9h-0.9zM78.1 86.3h0.9v0.9h-0.9zM81.3 86.5h0.9v0.9h-0.9zM99.3 78.4h0.9v0.9h-0.9zM76.9 81.5h0.9v0.9h-0.9zM83.2 63.8h0.9v0.9h-0.9zM97.9 66.9h0.9v0.9h-0.9zM77.7 89.6h0.9v0.9h-0.9zM101.3 69.1h0.9v0.9h-0.9zM98.8 66.2h0.9v0.9h-0.9zM74.8 77.4h0.9v0.9h-0.9zM82.5 65.0h0.9v0.9h-0.9zM96.0 67.2h0.9v0.9h-0.9zM88.1 63.9h0.9v0.9h-0.9zM85.9 93.2h0.9v0.9h-0.9zM80.8 65.7h0.9v0.9h-0.9zM88.0 64.1h0.9v0.9h-0.9zM96.2 95.2h0.9v0.9h-0.9zM104.4 72.0h0.9v0.9h-0.9zM94.5 95.3h0.9v0.9h-0.9zM88.1 65.9h0.9v0.9h-0.9zM99.6 68.5h0.9v0.9h-0.9zM94.0 92.7h0.9v0.9h-0.9zM73.6 84.6h0.9v0.9h-0.9zM80.1 66.5h0.9v0.9h-0.9zM76.2 88.4h0.9v0.9h-0.9zM105.6 74.4h0.9v0.9h-0.9zM83.8 64.1h0.9v0.9h-0.9zM97.0 68.6h0.9v0.9h-0.9zM96.4 66.3h0.9v0.9h-0.9zM76.7 69.9h0.9v0.9h-0.9zM104.1 88.5h0.9v0.9h-0.9zM99.1 69.4h0.9v0.9h-0.9zM89.8 65.4h0.9v0.9h-0.9zM98.6 71.2h0.9v0.9h-0.9zM93.5 66.8h0.9v0.9h-0.9zM102.3 71.4h0.9v0.9h-0.9zM77.7 74.9h0.9v0.9h-0.9zM86.8 91.9h0.9v0.9h-0.9zM98.7 67.7h0.9v0.9h-0.9zM93.3 96.6h0.9v0.9h-0.9zM80.6 65.2h0.9v0.9h-0.9zM95.2 95.5h0.9v0.9h-0.9zM89.8 66.4h0.9v0.9h-0.9zM76.8 74.5h0.9v0.9h-0.9zM104.4 83.9h0.9v0.9h-0.9zM97.2 93.0h0.9v0.9h-0.9zM87.7 63.1h0.9v0.9h-0.9zM80.0 89.8h0.9v0.9h-0.9zM87.5 67.7h0.9v0.9h-0.9zM91.0 63.0h0.9v0.9h-0.9zM99.5 66.3h0.9v0.9h-0.9zM91.9 63.5h0.9v0.9h-0.9zM104.2 71.3h0.9v0.9h-0.9zM102.9 71.7h0.9v0.9h-0.9zM83.4 67.5h0.9v0.9h-0.9zM98.7 66.9h0.9v0.9h-0.9zM100.3 71.0h0.9v0.9h-0.9zM83.3 88.0h0.9v0.9h-0.9zM77.2 68.3h0.9v0.9h-0.9zM101.8 88.0h0.9v0.9h-0.9zM95.3 64.2h0.9v0.9h-0.9zM98.7 66.8h0.9v0.9h-0.9zM88.4 96.6h0.9v0.9h-0.9zM104.0 73.6h0.9v0.9h-0.9zM78.9 81.2h0.9v0.9h-0.9zM73.6 75.6h0.9v0.9h-0.9zM81.7 68.0h0.9v0.9h-0.9zM74.9 84.8h0.9v0.9h-0.9zM104.0 81.8h0.9v0.9h-0.9zM104.9 82.7h0.9v0.9h-0.9zM105.8 75.5h0.9v0.9h-0.9zM102.6 70.8h0.9v0.9h-0.9zM76.1 84.8h0.9v0.9h-0.9zM101.5 68.6h0.9v0.9h-0.9zM84.5 94.8h0.9v0.9h-0.9zM80.6 91.1h0.9v0.9h-0.9zM103.6 69.7h0.9v0.9h-0.9zM89.8 64.0h0.9v0.9h-0.9zM94.9 65.0h0.9v0.9h-0.9zM79.7 70.5h0.9v0.9h-0.9zM99.5 91.6h0.9v0.9h-0.9zM95.8 90.8h0.9v0.9h-0.9zM91.4 64.5h0.9v0.9h-0.9zM74.4 82.4h0.9v0.9h-0.9zM102.3 81.8h0.9v0.9h-0.9zM96.5 66.0h0.9v0.9h-0.9zM90.6 62.6h0.9v0.9h-0.9zM101.5 78.8h0.9v0.9h-0.9zM81.5 94.0h0.9v0.9h-0.9zM105.8 82.0h0.9v0.9h-0.9zM75.0 78.0h0.9v0.9h-0.9zM72.9 80.5h0.9v0.9h-0.9zM103.0 79.5h0.9v0.9h-0.9zM75.8 78.5h0.9v0.9h-0.9zM89.6 93.6h0.9v0.9h-0.9zM94.2 116.4h0.9v0.9h-0.9zM94.5 117.2h0.9v0.9h-0.9zM97.4 107.1h0.9v0.9h-0.9zM84.8 121.1h0.9v0.9h-0.9zM106.0 118.7h0.9v0.9h-0.9zM98.4 113.7h0.9v0.9h-0.9zM90.3 107.8h0.9v0.9h-0.9zM98.0 130.2h0.9v0.9h-0.9zM94.2 137.8h0.9v0.9h-0.9zM92.4 105.7h0.9v0.9h-0.9zM97.4 108.8h0.9v0.9h-0.9zM90.0 106.3h0.9v0.9h-0.9zM93.9 108.6h0.9v0.9h-0.9zM113.4 118.5h0.9v0.9h-0.9zM91.2 155.1h0.9v0.9h-0.9zM89.0 148.2h0.9v0.9h-0.9zM104.1 123.0h0.9v0.9h-0.9zM86.7 115.6h0.9v0.9h-0.9zM96.7 99.7h0.9v0.9h-0.9zM88.7 146.8h0.9v0.9h-0.9zM90.1 125.3h0.9v0.9h-0.9zM96.8 136.0h0.9v0.9h-0.9zM88.2 100.2h0.9v0.9h-0.9zM106.2 123.4h0.9v0.9h-0.9zM83.2 127.2h0.9v0.9h-0.9zM81.7 150.3h0.9v0.9h-0.9zM95.1 149.6h0.9v0.9h-0.9zM101.5 131.5h0.9v0.9h-0.9zM92.8 126.3h0.9v0.9h-0.9zM110.6 130.4h0.9v0.9h-0.9zM93.8 124.1h0.9v0.9h-0.9zM85.6 133.8h0.9v0.9h-0.9zM96.8 122.0h0.9v0.9h-0.9zM96.3 117.3h0.9v0.9h-0.9zM95.7 136.4h0.9v0.9h-0.9zM88.8 130.5h0.9v0.9h-0.9zM88.7 140.9h0.9v0.9h-0.9zM83.1 127.9h0.9v0.9h-0.9zM106.3 104.1h0.9v0.9h-0.9zM86.9 142.2h0.9v0.9h-0.9zM97.7 127.8h0.9v0.9h-0.9zM98.1 106.7h0.9v0.9h-0.9zM94.2 113.3h0.9v0.9h-0.9zM96.0 125.1h0.9v0.9h-0.9zM87.9 103.7h0.9v0.9h-0.9zM93.6 123.6h0.9v0.9h-0.9zM88.7 114.8h0.9v0.9h-0.9zM88.5 122.9h0.9v0.9h-0.9zM94.6 121.8h0.9v0.9h-0.9zM108.9 120.6h0.9v0.9h-0.9zM99.0 125.6h0.9v0.9h-0.9zM93.7 148.4h0.9v0.9h-0.9zM102.4 120.9h0.9v0.9h-0.9zM97.9 108.0h0.9v0.9h-0.9zM90.2 132.3h0.9v0.9h-0.9zM91.7 119.4h0.9v0.9h-0.9zM91.4 123.1h0.9v0.9h-0.9zM90.2 139.5h0.9v0.9h-0.9zM96.5 120.1h0.9v0.9h-0.9zM84.1 122.6h0.9v0.9h-0.9zM92.9 130.6h0.9v0.9h-0.9zM106.0 122.2h0.9v0.9h-0.9zM93.6 123.3h0.9v0.9h-0.9zM100.7 130.3h0.9v0.9h-0.9zM94.5 110.1h0.9v0.9h-0.9zM97.3 121.0h0.9v0.9h-0.9zM94.5 131.1h0.9v0.9h-0.9zM97.6 109.8h0.9v0.9h-0.9zM86.4 132.3h0.9v0.9h-0.9zM88.6 114.9h0.9v0.9h-0.9zM99.9 133.8h0.9v0.9h-0.9zM94.7 113.7h0.9v0.9h-0.9zM87.9 115.4h0.9v0.9h-0.9zM93.2 116.6h0.9v0.9h-0.9zM79.1 134.2h0.9v0.9h-0.9zM90.2 149.9h0.9v0.9h-0.9zM94.4 106.4h0.9v0.9h-0.9zM92.9 121.5h0.9v0.9h-0.9zM96.9 122.3h0.9v0.9h-0.9zM88.7 117.3h0.9v0.9h-0.9zM87.6 114.3h0.9v0.9h-0.9zM95.3 116.3h0.9v0.9h-0.9zM82.0 117.6h0.9v0.9h-0.9zM97.5 121.0h0.9v0.9h-0.9zM83.5 116.3h0.9v0.9h-0.9zM73.8 122.7h0.9v0.9h-0.9zM96.5 141.8h0.9v0.9h-0.9zM89.5 121.6h0.9v0.9h-0.9zM100.7 135.1h0.9v0.9h-0.9zM86.2 117.7h0.9v0.9h-0.9zM102.7 114.0h0.9v0.9h-0.9zM75.1 131.6h0.9v0.9h-0.9zM93.0 117.0h0.9v0.9h-0.9zM101.9 127.0h0.9v0.9h-0.9zM89.8 102.1h0.9v0.9h-0.9zM96.7 100.8h0.9v0.9h-0.9zM95.1 133.4h0.9v0.9h-0.9zM95.0 104.8h0.9v0.9h-0.9zM97.3 98.5h0.9v0.9h-0.9zM84.6 123.7h0.9v0.9h-0.9zM90.4 141.0h0.9v0.9h-0.9zM98.2 117.1h0.9v0.9h-0.9zM96.6 136.8h0.9v0.9h-0.9zM104.6 122.2h0.9v0.9h-0.9zM95.9 112.3h0.9v0.9h-0.9zM96.6 118.1h0.9v0.9h-0.9zM92.5 120.1h0.9v0.9h-0.9zM97.2 124.4h0.9v0.9h-0.9zM98.6 130.3h0.9v0.9h-0.9zM89.0 135.2h0.9v0.9h-0.9zM85.9 110.9h0.9v0.9h-0.9zM101.4 120.4h0.9v0.9h-0.9zM83.4 132.5h0.9v0.9h-0.9zM80.2 118.4h0.9v0.9h-0.9zM75.7 120.1h0.9v0.9h-0.9zM91.5 127.9h0.9v0.9h-0.9zM103.2 108.0h0.9v0.9h-0.9zM97.5 120.0h0.9v0.9h-0.9zM85.2 130.2h0.9v0.9h-0.9zM103.4 136.7h0.9v0.9h-0.9zM90.8 142.1h0.9v0.9h-0.9zM97.8 116.9h0.9v0.9h-0.9zM83.9 123.3h0.9v0.9h-0.9zM94.2 104.1h0.9v0.9h-0.9zM100.3 141.2h0.9v0.9h-0.9zM96.7 131.9h0.9v0.9h-0.9zM104.5 124.0h0.9v0.9h-0.9zM94.2 125.2h0.9v0.9h-0.9zM84.6 120.8h0.9v0.9h-0.9zM99.3 133.9h0.9v0.9h-0.9zM88.5 125.9h0.9v0.9h-0.9zM96.5 133.8h0.9v0.9h-0.9zM95.0 129.4h0.9v0.9h-0.9zM104.6 103.2h0.9v0.9h-0.9zM97.2 120.6h0.9v0.9h-0.9zM85.4 149.0h0.9v0.9h-0.9zM93.8 150.6h0.9v0.9h-0.9zM100.1 116.7h0.9v0.9h-0.9zM95.5 108.6h0.9v0.9h-0.9zM97.5 115.0h0.9v0.9h-0.9zM101.7 134.6h0.9v0.9h-0.9zM89.3 116.8h0.9v0.9h-0.9zM91.9 128.2h0.9v0.9h-0.9zM90.7 134.5h0.9v0.9h-0.9zM85.7 147.0h0.9v0.9h-0.9zM91.2 110.9h0.9v0.9h-0.9zM82.7 137.4h0.9v0.9h-0.9zM84.5 129.2h0.9v0.9h-0.9zM74.3 130.3h0.9v0.9h-0.9zM91.3 131.9h0.9v0.9h-0.9zM106.1 106.7h0.9v0.9h-0.9zM81.8 134.6h0.9v0.9h-0.9zM91.9 120.2h0.9v0.9h-0.9zM86.3 109.0h0.9v0.9h-0.9zM103.7 113.1h0.9v0.9h-0.9zM76.3 129.7h0.9v0.9h-0.9zM89.4 116.3h0.9v0.9h-0.9zM86.3 140.4h0.9v0.9h-0.9zM90.2 132.0h0.9v0.9h-0.9zM86.0 131.3h0.9v0.9h-0.9zM89.1 98.3h0.9v0.9h-0.9zM96.2 121.5h0.9v0.9h-0.9zM88.5 137.1h0.9v0.9h-0.9zM100.4 124.4h0.9v0.9h-0.9zM103.2 120.1h0.9v0.9h-0.9zM88.0 149.2h0.9v0.9h-0.9zM95.2 132.6h0.9v0.9h-0.9zM105.7 136.0h0.9v0.9h-0.9zM97.7 97.1h0.9v0.9h-0.9zM88.9 133.5h0.9v0.9h-0.9zM87.4 114.9h0.9v0.9h-0.9zM97.9 146.9h0.9v0.9h-0.9zM99.4 114.5h0.9v0.9h-0.9zM103.4 128.8h0.9v0.9h-0.9zM98.1 113.4h0.9v0.9h-0.9zM96.2 125.3h0.9v0.9h-0.9zM93.5 120.2h0.9v0.9h-0.9zM90.0 134.0h0.9v0.9h-0.9zM95.5 136.5h0.9v0.9h-0.9zM88.2 96.9h0.9v0.9h-0.9zM102.0 138.1h0.9v0.9h-0.9zM93.0 131.6h0.9v0.9h-0.9zM90.4 142.9h0.9v0.9h-0.9zM92.4 117.5h0.9v0.9h-0.9zM89.8 114.5h0.9v0.9h-0.9zM89.9 148.8h0.9v0.9h-0.9zM89.5 164.3h0.9v0.9h-0.9zM94.8 98.9h0.9v0.9h-0.9zM93.6 121.7h0.9v0.9h-0.9zM90.2 111.6h0.9v0.9h-0.9zM102.2 125.7h0.9v0.9h-0.9zM92.7 113.4h0.9v0.9h-0.9zM89.0 118.1h0.9v0.9h-0.9zM86.9 129.7h0.9v0.9h-0.9zM97.2 111.5h0.9v0.9h-0.9zM92.2 135.2h0.9v0.9h-0.9zM93.8 126.5h0.9v0.9h-0.9zM90.6 151.0h0.9v0.9h-0.9zM88.2 110.2h0.9v0.9h-0.9zM99.8 132.7h0.9v0.9h-0.9zM90.8 157.7h0.9v0.9h-0.9zM80.2 127.9h0.9v0.9h-0.9zM96.0 134.7h0.9v0.9h-0.9zM89.6 138.1h0.9v0.9h-0.9zM100.5 135.2h0.9v0.9h-0.9zM97.9 114.2h0.9v0.9h-0.9zM94.9 117.3h0.9v0.9h-0.9zM120.4 129.3h0.9v0.9h-0.9zM102.8 124.9h0.9v0.9h-0.9zM84.3 119.3h0.9v0.9h-0.9zM98.2 111.6h0.9v0.9h-0.9zM95.7 143.7h0.9v0.9h-0.9zM92.7 122.3h0.9v0.9h-0.9zM93.6 122.7h0.9v0.9h-0.9zM93.2 107.5h0.9v0.9h-0.9zM95.6 140.5h0.9v0.9h-0.9zM89.2 121.1h0.9v0.9h-0.9zM93.1 131.1h0.9v0.9h-0.9zM93.6 133.5h0.9v0.9h-0.9zM88.0 119.0h0.9v0.9h-0.9zM83.3 111.5h0.9v0.9h-0.9zM99.1 126.7h0.9v0.9h-0.9zM84.3 134.2h0.9v0.9h-0.9zM83.4 107.3h0.9v0.9h-0.9zM83.1 123.5h0.9v0.9h-0.9zM100.4 133.7h0.9v0.9h-0.9zM89.0 132.2h0.9v0.9h-0.9zM98.0 126.4h0.9v0.9h-0.9zM94.1 117.1h0.9v0.9h-0.9zM102.5 143.8h0.9v0.9h-0.9zM92.0 109.1h0.9v0.9h-0.9zM96.5 127.7h0.9v0.9h-0.9zM100.5 107.6h0.9v0.9h-0.9zM91.7 130.9h0.9v0.9h-0.9zM86.0 118.0h0.9v0.9h-0.9zM102.8 108.9h0.9v0.9h-0.9zM94.9 133.7h0.9v0.9h-0.9zM90.6 124.4h0.9v0.9h-0.9zM102.4 120.7h0.9v0.9h-0.9zM94.8 105.1h0.9v0.9h-0.9zM88.1 132.9h0.9v0.9h-0.9zM91.2 117.1h0.9v0.9h-0.9zM109.1 116.2h0.9v0.9h-0.9zM89.1 103.6h0.9v0.9h-0.9zM87.7 113.4h0.9v0.9h-0.9zM88.9 111.0h0.9v0.9h-0.9zM107.9 125.7h0.9v0.9h-0.9zM87.9 117.2h0.9v0.9h-0.9zM98.8 106.0h0.9v0.9h-0.9zM92.3 145.5h0.9v0.9h-0.9zM91.8 113.9h0.9v0.9h-0.9zM100.0 119.6h0.9v0.9h-0.9zM92.4 140.7h0.9v0.9h-0.9zM95.6 148.1h0.9v0.9h-0.9zM90.3 130.6h0.9v0.9h-0.9zM107.3 103.0h0.9v0.9h-0.9zM88.2 147.8h0.9v0.9h-0.9zM77.7 119.9h0.9v0.9h-0.9zM92.7 111.9h0.9v0.9h-0.9zM98.7 115.1h0.9v0.9h-0.9zM82.8 137.9h0.9v0.9h-0.9zM85.5 144.3h0.9v0.9h-0.9zM88.2 110.1h0.9v0.9h-0.9zM94.0 107.4h0.9v0.9h-0.9zM89.2 123.2h0.9v0.9h-0.9zM100.4 123.3h0.9v0.9h-0.9zM84.8 140.9h0.9v0.9h-0.9zM101.5 113.5h0.9v0.9h-0.9zM99.5 131.2h0.9v0.9h-0.9zM100.7 146.4h0.9v0.9h-0.9zM98.7 131.6h0.9v0.9h-0.9zM100.5 137.8h0.9v0.9h-0.9zM90.3 135.9h0.9v0.9h-0.9zM98.8 135.3h0.9v0.9h-0.9zM97.6 115.2h0.9v0.9h-0.9zM98.1 99.9h0.9v0.9h-0.9zM93.8 137.1h0.9v0.9h-0.9zM94.1 107.3h0.9v0.9h-0.9zM93.4 137.6h0.9v0.9h-0.9zM90.9 107.8h0.9v0.9h-0.9zM98.8 123.1h0.9v0.9h-0.9zM97.2 113.5h0.9v0.9h-0.9zM100.8 115.1h0.9v0.9h-0.9zM100.4 120.2h0.9v0.9h-0.9zM104.4 127.2h0.9v0.9h-0.9zM92.9 129.7h0.9v0.9h-0.9zM85.3 123.4h0.9v0.9h-0.9zM95.3 124.7h0.9v0.9h-0.9zM86.4 122.6h0.9v0.9h-0.9zM101.8 124.8h0.9v0.9h-0.9zM94.9 145.9h0.9v0.9h-0.9zM92.1 132.8h0.9v0.9h-0.9zM97.9 108.0h0.9v0.9h-0.9zM79.4 137.7h0.9v0.9h-0.9zM97.0 119.4h0.9v0.9h-0.9zM87.3 130.6h0.9v0.9h-0.9zM87.6 122.8h0.9v0.9h-0.9zM83.0 138.6h0.9v0.9h-0.9zM94.1 121.0h0.9v0.9h-0.9zM97.1 139.7h0.9v0.9h-0.9zM86.5 116.3h0.9v0.9h-0.9zM91.1 121.1h0.9v0.9h-0.9zM90.5 136.0h0.9v0.9h-0.9zM96.5 131.0h0.9v0.9h-0.9zM92.8 127.8h0.9v0.9h-0.9zM103.7 135.8h0.9v0.9h-0.9zM99.4 134.1h0.9v0.9h-0.9zM98.4 130.6h0.9v0.9h-0.9zM94.2 151.3h0.9v0.9h-0.9zM85.3 139.2h0.9v0.9h-0.9zM82.2 120.6h0.9v0.9h-0.9zM90.0 144.2h0.9v0.9h-0.9zM98.8 132.8h0.9v0.9h-0.9zM79.2 126.6h0.9v0.9h-0.9zM90.0 143.5h0.9v0.9h-0.9zM97.1 138.0h0.9v0.9h-0.9zM95.2 131.7h0.9v0.9h-0.9zM106.2 120.6h0.9v0.9h-0.9zM100.9 122.4h0.9v0.9h-0.9zM88.7 156.2h0.9v0.9h-0.9zM102.7 104.8h0.9v0.9h-0.9zM90.2 124.2h0.9v0.9h-0.9zM106.2 111.7h0.9v0.9h-0.9zM88.1 125.3h0.9v0.9h-0.9zM94.4 135.3h0.9v0.9h-0.9zM91.7 119.4h0.9v0.9h-0.9zM102.6 124.8h0.9v0.9h-0.9zM89.3 114.2h0.9v0.9h-0.9zM87.6 116.7h0.9v0.9h-0.9zM99.7 120.2h0.9v0.9h-0.9zM96.8 125.1h0.9v0.9h-0.9zM85.1 120.9h0.9v0.9h-0.9zM85.1 123.9h0.9v0.9h-0.9zM90.2 128.1h0.9v0.9h-0.9zM90.9 141.9h0.9v0.9h-0.9zM89.9 137.5h0.9v0.9h-0.9zM92.5 125.3h0.9v0.9h-0.9zM89.8 128.6h0.9v0.9h-0.9zM100.4 115.7h0.9v0.9h-0.9zM97.9 125.3h0.9v0.9h-0.9zM100.0 150.4h0.9v0.9h-0.9zM92.1 101.9h0.9v0.9h-0.9zM92.4 106.1h0.9v0.9h-0.9zM94.0 111.0h0.9v0.9h-0.9zM90.9 111.4h0.9v0.9h-0.9zM89.2 108.5h0.9v0.9h-0.9zM95.6 111.3h0.9v0.9h-0.9zM87.1 117.3h0.9v0.9h-0.9zM98.1 134.9h0.9v0.9h-0.9zM73.8 130.6h0.9v0.9h-0.9zM93.7 118.1h0.9v0.9h-0.9zM93.6 109.8h0.9v0.9h-0.9zM95.2 113.0h0.9v0.9h-0.9zM98.4 115.8h0.9v0.9h-0.9zM83.7 133.6h0.9v0.9h-0.9zM98.0 135.5h0.9v0.9h-0.9zM92.3 127.0h0.9v0.9h-0.9zM98.4 131.7h0.9v0.9h-0.9zM110.5 121.2h0.9v0.9h-0.9zM89.0 123.3h0.9v0.9h-0.9zM92.1 139.7h0.9v0.9h-0.9zM95.6 128.9h0.9v0.9h-0.9zM84.4 131.7h0.9v0.9h-0.9zM80.2 132.1h0.9v0.9h-0.9zM88.6 119.8h0.9v0.9h-0.9zM87.7 121.8h0.9v0.9h-0.9zM89.9 139.9h0.9v0.9h-0.9zM93.0 143.8h0.9v0.9h-0.9zM92.5 131.3h0.9v0.9h-0.9zM94.7 132.0h0.9v0.9h-0.9zM89.2 137.8h0.9v0.9h-0.9zM96.9 136.4h0.9v0.9h-0.9zM85.7 124.2h0.9v0.9h-0.9zM97.6 128.0h0.9v0.9h-0.9zM97.8 130.4h0.9v0.9h-0.9zM95.9 106.5h0.9v0.9h-0.9zM100.4 123.8h0.9v0.9h-0.9zM97.9 121.0h0.9v0.9h-0.9zM93.7 121.8h0.9v0.9h-0.9zM98.8 121.8h0.9v0.9h-0.9zM79.5 126.2h0.9v0.9h-0.9zM87.1 144.6h0.9v0.9h-0.9zM93.9 125.7h0.9v0.9h-0.9zM94.7 112.3h0.9v0.9h-0.9zM83.5 115.0h0.9v0.9h-0.9zM86.5 117.2h0.9v0.9h-0.9zM91.1 122.5h0.9v0.9h-0.9zM90.5 111.4h0.9v0.9h-0.9zM98.2 127.0h0.9v0.9h-0.9zM87.8 124.9h0.9v0.9h-0.9zM91.7 139.2h0.9v0.9h-0.9zM85.3 113.6h0.9v0.9h-0.9zM85.0 119.8h0.9v0.9h-0.9zM101.2 118.1h0.9v0.9h-0.9zM91.6 123.2h0.9v0.9h-0.9zM94.5 151.4h0.9v0.9h-0.9zM88.1 140.2h0.9v0.9h-0.9zM95.8 104.6h0.9v0.9h-0.9zM88.4 125.4h0.9v0.9h-0.9zM85.2 121.8h0.9v0.9h-0.9zM92.8 160.3h0.9v0.9h-0.9zM86.1 116.2h0.9v0.9h-0.9z" fill="#404040"/>
<path d="M89.1 77.1h0.8v0.8h-0.8zM87.1 76.4h0.8v0.8h-0.8zM85.9 77.7h0.8v0.8h-0.8zM86.6 76.8h0.8v0.8h-0.8zM86.7 78.1h0.8v0.8h-0.8zM86.8 77.4h0.8v0.8h-0.8zM85.8 76.9h0.8v0.8h-0.8zM87.0 77.5h0.8v0.8h-0.8zM85.9 75.6h0.8v0.8h-0.8zM86.9 77.8h0.8v0.8h-0.8zM87.7 78.0h0.8v0.8h-0.8zM84.4 79.1h0.8v0.8h-0.8zM88.8 77.1h0.8v0.8h-0.8zM85.7 76.4h0.8v0.8h-0.8zM89.3 76.5h0.8v0.8h-0.8zM99.7 95.1h0.8v0.8h-0.8zM102.8 95.5h0.8v0.8h-0.8zM101.1 93.8h0.8v0.8h-0.8zM78.5 95.0h0.8v0.8h-0.8zM70.3 72.5h0.8v0.8h-0.8zM75.1 89.9h0.8v0.8h-0.8zM104.6 96.3h0.8v0.8h-0.8zM70.8 80.0h0.8v0.8h-0.8zM108.1 82.0h0.8v0.8h-0.8zM106.3 95.2h0.8v0.8h-0.8zM109.1 72.9h0.8v0.8h-0.8zM71.5 66.6h0.8v0.8h-0.8zM105.6 88.6h0.8v0.8h-0.8zM69.4 75.5h0.8v0.8h-0.8zM109.5 81.2h0.8v0.8h-0.8zM72.1 78.2h0.8v0.8h-0.8zM81.4 60.3h0.8v0.8h-0.8zM72.5 81.9h0.8v0.8h-0.8zM94.4 99.5h0.8v0.8h-0.8zM97.1 96.0h0.8v0.8h-0.8zM107.1 68.1h0.8v0.8h-0.8zM108.1 88.1h0.8v0.8h-0.8zM90.4 61.0h0.8v0.8h-0.8zM80.8 60.5h0.8v0.8h-0.8zM87.7 102.0h0.8v0.8h-0.8zM72.6 91.3h0.8v0.8h-0.8zM70.5 77.7h0.8v0.8h-0.8zM102.1 96.0h0.8v0.8h-0.8zM73.4 74.8h0.8v0.8h-0.8zM91.6 97.4h0.8v0.8h-0.8zM75.5 91.9h0.8v0.8h-0.8zM93.6 100.1h0.8v0.8h-0.8zM70.9 85.4h0.8v0.8h-0.8zM75.6 68.5h0.8v0.8h-0.8zM88.7 100.9h0.8v0.8h-0.8zM69.6 88.8h0.8v0.8h-0.8zM71.0 78.7h0.8v0.8h-0.8zM71.0 88.0h0.8v0.8h-0.8zM106.0 86.9h0.8v0.8h-0.8zM68.1 73.4h0.8v0.8h-0.8zM71.8 72.0h0.8v0.8h-0.8zM70.1 68.8h0.8v0.8h-0.8zM95.3 58.6h0.8v0.8h-0.8zM104.4 91.8h0.8v0.8h-0.8zM109.4 76.8h0.8v0.8h-0.8zM79.9 63.8h0.8v0.8h-0.8zM79.3 98.6h0.8v0.8h-0.8zM75.1 91.8h0.8v0.8h-0.8zM73.6 69.5h0.8v0.8h-0.8zM107.4 74.6h0.8v0.8h-0.8zM72.2 83.9h0.8v0.8h-0.8zM106.3 91.3h0.8v0.8h-0.8zM96.8 141.1h0.8v0.8h-0.8zM87.5 148.9h0.8v0.8h-0.8zM99.6 141.6h0.8v0.8h-0.8zM93.1 160.5h0.8v0.8h-0.8zM93.9 140.9h0.8v0.8h-0.8zM96.4 155.0h0.8v0.8h-0.8zM90.4 158.3h0.8v0.8h-0.8zM99.3 154.7h0.8v0.8h-0.8zM90.5 160.3h0.8v0.8h-0.8zM94.7 147.7h0.8v0.8h-0.8zM91.3 159.9h0.8v0.8h-0.8zM90.1 144.2h0.8v0.8h-0.8zM101.0 160.0h0.8v0.8h-0.8zM100.8 148.6h0.8v0.8h-0.8zM87.8 141.0h0.8v0.8h-0.8zM88.7 149.2h0.8v0.8h-0.8zM87.8 147.5h0.8v0.8h-0.8zM85.0 147.6h0.8v0.8h-0.8zM87.6 156.3h0.8v0.8h-0.8zM88.0 150.2h0.8v0.8h-0.8zM86.2 149.9h0.8v0.8h-0.8zM85.6 156.2h0.8v0.8h-0.8zM89.6 152.6h0.8v0.8h-0.8zM88.4 151.8h0.8v0.8h-0.8zM80.9 148.6h0.8v0.8h-0.8zM88.8 157.0h0.8v0.8h-0.8zM89.4 143.1h0.8v0.8h-0.8zM74.2 154.6h0.8v0.8h-0.8zM91.8 143.0h0.8v0.8h-0.8zM96.1 148.6h0.8v0.8h-0.8zM90.5 143.8h0.8v0.8h-0.8zM98.5 140.2h0.8v0.8h-0.8zM91.2 145.4h0.8v0.8h-0.8zM93.8 145.7h0.8v0.8h-0.8zM96.5 145.9h0.8v0.8h-0.8zM91.1 148.7h0.8v0.8h-0.8zM95.0 145.0h0.8v0.8h-0.8zM87.9 142.8h0.8v0.8h-0.8zM92.6 144.0h0.8v0.8h-0.8zM93.8 155.0h0.8v0.8h-0.8zM93.2 151.0h0.8v0.8h-0.8z" fill="#505050"/>
<path d="M85.7 92.9h0.9v0.9h-0.9zM86.8 95.4h0.9v0.9h-0.9zM96.5 89.0h0.9v0.9h-0.9zM75.7 70.2h0.9v0.9h-0.9zM105.1 80.9h0.9v0.9h-0.9zM95.7 91.7h0.9v0.9h-0.9zM77.4 85.1h0.9v0.9h-0.9zM99.7 91.7h0.9v0.9h-0.9zM77.1 72.6h0.9v0.9h-0.9zM80.1 90.2h0.9v0.9h-0.9zM75.1 83.3h0.9v0.9h-0.9zM83.4 94.2h0.9v0.9h-0.9zM104.5 80.0h0.9v0.9h-0.9zM105.2 83.4h0.9v0.9h-0.9zM78.2 77.9h0.9v0.9h-0.9zM104.7 73.7h0.9v0.9h-0.9zM82.4 90.9h0.9v0.9h-0.9zM106.8 79.8h0.9v0.9h-0.9zM76.2 80.9h0.9v0.9h-0.9zM83.7 91.0h0.9v0.9h-0.9zM98.4 89.6h0.9v0.9h-0.9zM83.3 64.0h0.9v0.9h-0.9zM94.2 95.1h0.9v0.9h-0.9zM85.2 94.1h0.9v0.9h-0.9zM73.3 82.1h0.9v0.9h-0.9zM103.6 84.8h0.9v0.9h-0.9zM75.7 85.7h0.9v0.9h-0.9zM78.5 67.1h0.9v0.9h-0.9zM74.7 73.4h0.9v0.9h-0.9zM94.2 91.2h0.9v0.9h-0.9zM104.7 76.6h0.9v0.9h-0.9zM78.2 88.3h0.9v0.9h-0.9zM78.1 69.6h0.9v0.9h-0.9zM78.6 69.7h0.9v0.9h-0.9zM82.5 94.8h0.9v0.9h-0.9zM88.5 94.1h0.9v0.9h-0.9zM100.6 76.8h0.9v0.9h-0.9zM82.5 64.3h0.9v0.9h-0.9zM101.9 76.6h0.9v0.9h-0.9zM73.3 79.0h0.9v0.9h-0.9zM76.5 71.2h0.9v0.9h-0.9zM94.8 92.0h0.9v0.9h-0.9zM77.7 75.3h0.9v0.9h-0.9zM75.9 88.3h0.9v0.9h-0.9zM74.4 80.6h0.9v0.9h-0.9zM104.8 76.6h0.9v0.9h-0.9zM85.4 65.8h0.9v0.9h-0.9zM93.6 95.0h0.9v0.9h-0.9zM76.1 85.1h0.9v0.9h-0.9zM81.4 91.5h0.9v0.9h-0.9zM106.1 76.3h0.9v0.9h-0.9zM81.8 68.3h0.9v0.9h-0.9zM74.6 83.7h0.9v0.9h-0.9zM100.2 93.1h0.9v0.9h-0.9zM77.4 86.4h0.9v0.9h-0.9zM80.3 93.0h0.9v0.9h-0.9zM85.1 94.0h0.9v0.9h-0.9zM79.5 67.7h0.9v0.9h-0.9zM76.9 78.8h0.9v0.9h-0.9zM103.5 86.8h0.9v0.9h-0.9zM104.1 72.1h0.9v0.9h-0.9zM99.0 94.1h0.9v0.9h-0.9zM100.9 91.5h0.9v0.9h-0.9zM103.5 82.1h0.9v0.9h-0.9zM80.4 86.2h0.9v0.9h-0.9zM89.0 95.8h0.9v0.9h-0.9zM80.8 68.0h0.9v0.9h-0.9zM99.8 86.2h0.9v0.9h-0.9zM106.7 76.4h0.9v0.9h-0.9zM81.7 93.0h0.9v0.9h-0.9zM84.4 64.3h0.9v0.9h-0.9zM104.5 87.2h0.9v0.9h-0.9zM77.6 77.6h0.9v0.9h-0.9zM101.1 87.5h0.9v0.9h-0.9zM80.6 90.6h0.9v0.9h-0.9zM81.9 64.6h0.9v0.9h-0.9zM105.0 83.1h0.9v0.9h-0.9zM105.5 83.9h0.9v0.9h-0.9zM84.0 93.7h0.9v0.9h-0.9zM88.5 93.5h0.9v0.9h-0.9zM73.2 80.8h0.9v0.9h-0.9zM103.5 88.2h0.9v0.9h-0.9zM98.6 93.6h0.9v0.9h-0.9zM74.9 83.8h0.9v0.9h-0.9zM77.8 88.4h0.9v0.9h-0.9zM99.2 76.9h0.9v0.9h-0.9zM80.1 69.3h0.9v0.9h-0.9zM102.4 85.5h0.9v0.9h-0.9zM96.7 90.5h0.9v0.9h-0.9zM106.1 83.8h0.9v0.9h-0.9zM105.0 76.1h0.9v0.9h-0.9zM87.1 96.4h0.9v0.9h-0.9zM104.4 87.7h0.9v0.9h-0.9zM80.5 65.3h0.9v0.9h-0.9zM105.4 80.8h0.9v0.9h-0.9zM74.0 81.1h0.9v0.9h-0.9zM80.6 66.3h0.9v0.9h-0.9zM77.5 70.5h0.9v0.9h-0.9zM106.4 80.0h0.9v0.9h-0.9zM105.8 73.4h0.9v0.9h-0.9zM75.0 83.9h0.9v0.9h-0.9zM74.2 74.8h0.9v0.9h-0.9zM83.0 63.9h0.9v0.9h-0.9zM75.5 77.7h0.9v0.9h-0.9zM103.3 72.3h0.9v0.9h-0.9zM83.8 63.6h0.9v0.9h-0.9zM81.7 94.4h0.9v0.9h-0.9zM102.3 90.4h0.9v0.9h-0.9zM80.3 91.3h0.9v0.9h-0.9zM87.3 94.0h0.9v0.9h-0.9zM81.5 68.1h0.9v0.9h-0.9zM103.9 84.4h0.9v0.9h-0.9zM95.4 96.1h0.9v0.9h-0.9zM82.6 65.5h0.9v0.9h-0.9zM74.4 73.1h0.9v0.9h-0.9zM85.9 66.6h0.9v0.9h-0.9zM106.2 75.6h0.9v0.9h-0.9zM81.8 70.2h0.9v0.9h-0.9zM98.7 91.3h0.9v0.9h-0.9zM83.3 95.0h0.9v0.9h-0.9zM73.0 81.4h0.9v0.9h-0.9zM76.9 69.5h0.9v0.9h-0.9zM82.5 93.6h0.9v0.9h-0.9zM84.3 95.6h0.9v0.9h-0.9zM77.2 79.1h0.9v0.9h-0.9zM77.7 70.0h0.9v0.9h-0.9zM92.8 135.0h0.9v0.9h-0.9zM99.1 110.3h0.9v0.9h-0.9zM96.9 107.9h0.9v0.9h-0.9zM93.7 138.2h0.9v0.9h-0.9zM99.4 117.3h0.9v0.9h-0.9zM105.5 123.1h0.9v0.9h-0.9zM98.1 113.4h0.9v0.9h-0.9zM88.2 135.2h0.9v0.9h-0.9zM108.1 128.2h0.9v0.9h-0.9zM88.4 135.5h0.9v0.9h-0.9zM96.5 117.2h0.9v0.9h-0.9zM96.2 119.8h0.9v0.9h-0.9zM96.3 110.4h0.9v0.9h-0.9zM98.6 126.2h0.9v0.9h-0.9zM86.8 107.6h0.9v0.9h-0.9zM96.4 127.3h0.9v0.9h-0.9zM88.2 123.4h0.9v0.9h-0.9zM94.8 111.3h0.9v0.9h-0.9zM95.8 118.2h0.9v0.9h-0.9zM91.2 143.1h0.9v0.9h-0.9zM90.6 137.0h0.9v0.9h-0.9zM90.5 147.6h0.9v0.9h-0.9zM89.8 124.1h0.9v0.9h-0.9zM86.8 143.9h0.9v0.9h-0.9zM90.0 107.1h0.9v0.9h-0.9zM96.8 97.3h0.9v0.9h-0.9zM87.5 127.0h0.9v0.9h-0.9zM98.4 132.1h0.9v0.9h-0.9zM81.0 127.2h0.9v0.9h-0.9zM91.8 110.3h0.9v0.9h-0.9zM96.9 130.4h0.9v0.9h-0.9zM89.2 129.6h0.9v0.9h-0.9zM104.0 120.5h0.9v0.9h-0.9zM98.3 138.3h0.9v0.9h-0.9zM93.3 139.4h0.9v0.9h-0.9zM89.6 116.2h0.9v0.9h-0.9zM90.0 123.1h0.9v0.9h-0.9zM98.0 126.2h0.9v0.9h-0.9zM99.2 137.2h0.9v0.9h-0.9zM95.5 112.4h0.9v0.9h-0.9zM89.4 148.3h0.9v0.9h-0.9zM93.0 120.9h0.9v0.9h-0.9zM87.2 119.6h0.9v0.9h-0.9zM96.9 101.0h0.9v0.9h-0.9zM77.6 123.3h0.9v0.9h-0.9zM85.0 120.1h0.9v0.9h-0.9zM83.6 125.0h0.9v0.9h-0.9zM90.2 146.0h0.9v0.9h-0.9zM90.5 126.6h0.9v0.9h-0.9zM97.0 105.0h0.9v0.9h-0.9zM101.5 115.8h0.9v0.9h-0.9zM100.1 107.5h0.9v0.9h-0.9zM92.7 122.9h0.9v0.9h-0.9zM97.8 120.1h0.9v0.9h-0.9zM97.9 132.5h0.9v0.9h-0.9zM95.9 102.7h0.9v0.9h-0.9zM97.3 122.9h0.9v0.9h-0.9zM77.3 121.5h0.9v0.9h-0.9zM99.7 129.1h0.9v0.9h-0.9zM87.3 133.5h0.9v0.9h-0.9zM91.0 110.2h0.9v0.9h-0.9zM93.0 140.6h0.9v0.9h-0.9zM90.7 100.5h0.9v0.9h-0.9zM82.0 131.3h0.9v0.9h-0.9zM88.0 134.3h0.9v0.9h-0.9zM94.7 113.6h0.9v0.9h-0.9zM91.5 120.1h0.9v0.9h-0.9zM100.5 121.6h0.9v0.9h-0.9zM103.8 144.0h0.9v0.9h-0.9zM97.3 147.4h0.9v0.9h-0.9zM90.4 127.0h0.9v0.9h-0.9zM89.3 157.6h0.9v0.9h-0.9zM84.3 125.4h0.9v0.9h-0.9zM90.4 156.8h0.9v0.9h-0.9zM96.2 105.5h0.9v0.9h-0.9zM92.2 146.8h0.9v0.9h-0.9zM88.0 104.3h0.9v0.9h-0.9zM87.7 137.4h0.9v0.9h-0.9zM90.7 108.8h0.9v0.9h-0.9zM98.5 138.2h0.9v0.9h-0.9zM97.1 142.3h0.9v0.9h-0.9zM96.4 108.0h0.9v0.9h-0.9zM91.4 123.3h0.9v0.9h-0.9zM94.9 118.7h0.9v0.9h-0.9zM95.7 127.4h0.9v0.9h-0.9zM89.8 127.4h0.9v0.9h-0.9zM108.6 128.6h0.9v0.9h-0.9zM94.1 120.2h0.9v0.9h-0.9zM89.6 155.2h0.9v0.9h-0.9zM91.7 124.7h0.9v0.9h-0.9zM88.1 125.2h0.9v0.9h-0.9zM93.1 145.0h0.9v0.9h-0.9zM88.8 121.1h0.9v0.9h-0.9zM96.6 136.7h0.9v0.9h-0.9zM103.5 114.0h0.9v0.9h-0.9zM102.0 99.3h0.9v0.9h-0.9zM83.4 128.0h0.9v0.9h-0.9zM106.1 121.8h0.9v0.9h-0.9zM79.7 123.9h0.9v0.9h-0.9zM89.2 105.4h0.9v0.9h-0.9zM91.3 129.9h0.9v0.9h-0.9zM94.5 127.5h0.9v0.9h-0.9zM104.6 135.7h0.9v0.9h-0.9zM95.0 103.4h0.9v0.9h-0.9zM93.0 127.6h0.9v0.9h-0.9zM94.1 102.0h0.9v0.9h-0.9zM92.3 141.0h0.9v0.9h-0.9zM97.0 136.4h0.9v0.9h-0.9zM94.4 146.1h0.9v0.9h-0.9zM89.3 120.9h0.9v0.9h-0.9zM92.0 133.7h0.9v0.9h-0.9zM89.7 145.6h0.9v0.9h-0.9zM75.8 126.2h0.9v0.9h-0.9zM80.3 118.4h0.9v0.9h-0.9zM91.3 116.0h0.9v0.9h-0.9zM108.3 102.7h0.9v0.9h-0.9zM92.8 119.3h0.9v0.9h-0.9zM96.0 114.4h0.9v0.9h-0.9zM86.7 126.2h0.9v0.9h-0.9zM90.8 108.6h0.9v0.9h-0.9zM98.4 118.1h0.9v0.9h-0.9zM97.8 134.8h0.9v0.9h-0.9zM98.4 110.6h0.9v0.9h-0.9zM86.9 121.6h0.9v0.9h-0.9zM96.2 122.0h0.9v0.9h-0.9zM94.5 113.7h0.9v0.9h-0.9zM105.2 126.5h0.9v0.9h-0.9zM98.7 133.2h0.9v0.9h-0.9zM93.7 145.0h0.9v0.9h-0.9zM92.5 142.1h0.9v0.9h-0.9zM97.8 113.0h0.9v0.9h-0.9zM91.9 131.9h0.9v0.9h-0.9zM92.8 126.1h0.9v0.9h-0.9zM92.5 124.4h0.9v0.9h-0.9zM93.8 121.8h0.9v0.9h-0.9zM89.7 127.8h0.9v0.9h-0.9zM91.3 125.0h0.9v0.9h-0.9zM96.1 99.7h0.9v0.9h-0.9zM97.0 103.7h0.9v0.9h-0.9zM91.2 138.9h0.9v0.9h-0.9zM87.4 108.4h0.9v0.9h-0.9zM106.5 127.1h0.9v0.9h-0.9zM84.7 137.9h0.9v0.9h-0.9zM103.8 127.8h0.9v0.9h-0.9zM101.7 122.4h0.9v0.9h-0.9zM92.2 128.1h0.9v0.9h-0.9zM85.1 136.4h0.9v0.9h-0.9zM93.7 125.7h0.9v0.9h-0.9zM97.1 115.4h0.9v0.9h-0.9zM97.8 133.2h0.9v0.9h-0.9zM87.3 132.0h0.9v0.9h-0.9zM90.4 150.6h0.9v0.9h-0.9zM92.7 147.0h0.9v0.9h-0.9zM98.4 108.6h0.9v0.9h-0.9zM86.8 136.7h0.9v0.9h-0.9zM90.9 130.6h0.9v0.9h-0.9zM93.9 109.7h0.9v0.9h-0.9zM100.4 116.6h0.9v0.9h-0.9zM96.8 111.3h0.9v0.9h-0.9zM96.8 116.0h0.9v0.9h-0.9zM104.9 102.2h0.9v0.9h-0.9zM82.8 123.3h0.9v0.9h-0.9zM98.3 119.4h0.9v0.9h-0.9zM99.6 115.9h0.9v0.9h-0.9zM85.2 146.2h0.9v0.9h-0.9zM92.0 115.6h0.9v0.9h-0.9zM94.5 138.8h0.9v0.9h-0.9zM87.8 132.7h0.9v0.9h-0.9zM101.3 110.1h0.9v0.9h-0.9zM106.3 133.2h0.9v0.9h-0.9zM98.4 135.7h0.9v0.9h-0.9zM93.4 106.4h0.9v0.9h-0.9zM89.2 112.3h0.9v0.9h-0.9zM92.3 110.3h0.9v0.9h-0.9zM89.8 124.6h0.9v0.9h-0.9zM90.5 123.2h0.9v0.9h-0.9zM92.4 138.4h0.9v0.9h-0.9zM98.4 120.4h0.9v0.9h-0.9zM91.4 140.5h0.9v0.9h-0.9zM86.9 127.7h0.9v0.9h-0.9zM95.8 136.3h0.9v0.9h-0.9zM95.2 123.4h0.9v0.9h-0.9zM83.5 131.5h0.9v0.9h-0.9zM102.6 124.7h0.9v0.9h-0.9zM99.8 118.7h0.9v0.9h-0.9zM87.5 110.1h0.9v0.9h-0.9zM93.8 124.5h0.9v0.9h-0.9zM99.4 146.7h0.9v0.9h-0.9zM92.4 134.7h0.9v0.9h-0.9zM86.5 105.1h0.9v0.9h-0.9zM96.9 118.5h0.9v0.9h-0.9zM98.9 143.5h0.9v0.9h-0.9zM87.8 116.5h0.9v0.9h-0.9zM98.3 114.3h0.9v0.9h-0.9zM96.3 124.1h0.9v0.9h-0.9zM97.0 115.3h0.9v0.9h-0.9zM88.8 99.3h0.9v0.9h-0.9zM93.7 137.7h0.9v0.9h-0.9zM102.8 114.5h0.9v0.9h-0.9zM87.6 143.5h0.9v0.9h-0.9zM98.8 142.4h0.9v0.9h-0.9zM98.4 113.5h0.9v0.9h-0.9zM98.0 134.9h0.9v0.9h-0.9zM96.5 110.6h0.9v0.9h-0.9zM85.5 127.4h0.9v0.9h-0.9zM90.7 137.7h0.9v0.9h-0.9zM93.1 118.3h0.9v0.9h-0.9zM92.4 113.4h0.9v0.9h-0.9zM97.8 110.1h0.9v0.9h-0.9zM88.1 126.1h0.9v0.9h-0.9zM79.4 117.4h0.9v0.9h-0.9zM84.1 123.8h0.9v0.9h-0.9z" fill="#505050"/>
<path d="M86.7 76.9h0.8v0.8h-0.8zM87.6 77.3h0.8v0.8h-0.8zM88.0 76.8h0.8v0.8h-0.8zM87.3 77.2h0.8v0.8h-0.8zM83.4 78.7h0.8v0.8h-0.8zM88.2 76.4h0.8v0.8h-0.8zM88.5 77.5h0.8v0.8h-0.8zM87.3 77.5h0.8v0.8h-0.8zM83.5 79.6h0.8v0.8h-0.8zM88.4 75.2h0.8v0.8h-0.8zM83.2 78.3h0.8v0.8h-0.8zM86.4 76.5h0.8v0.8h-0.8zM83.5 78.2h0.8v0.8h-0.8zM85.9 77.3h0.8v0.8h-0.8zM83.4 78.4h0.8v0.8h-0.8zM86.7 77.9h0.8v0.8h-0.8zM87.8 77.1h0.8v0.8h-0.8zM97.5 117.6h0.8v0.8h-0.8zM124.4 120.3h0.8v0.8h-0.8zM109.5 106.3h0.8v0.8h-0.8zM107.1 104.5h0.8v0.8h-0.8zM99.8 138.2h0.8v0.8h-0.8zM115.8 90.2h0.8v0.8h-0.8zM97.8 139.9h0.8v0.8h-0.8zM101.2 110.2h0.8v0.8h-0.8zM134.3 118.4h0.8v0.8h-0.8zM107.8 107.9h0.8v0.8h-0.8zM131.8 128.0h0.8v0.8h-0.8zM97.0 133.0h0.8v0.8h-0.8zM104.1 124.8h0.8v0.8h-0.8zM114.3 69.5h0.8v0.8h-0.8zM106.2 117.1h0.8v0.8h-0.8zM107.2 81.7h0.8v0.8h-0.8zM110.1 139.7h0.8v0.8h-0.8zM110.4 109.2h0.8v0.8h-0.8zM96.1 117.5h0.8v0.8h-0.8zM118.1 108.1h0.8v0.8h-0.8zM97.5 120.1h0.8v0.8h-0.8zM119.9 115.7h0.8v0.8h-0.8zM100.0 115.8h0.8v0.8h-0.8zM105.6 103.3h0.8v0.8h-0.8zM96.6 142.6h0.8v0.8h-0.8zM98.3 114.1h0.8v0.8h-0.8zM97.1 116.8h0.8v0.8h-0.8zM103.9 140.9h0.8v0.8h-0.8zM114.6 112.1h0.8v0.8h-0.8zM95.8 141.2h0.8v0.8h-0.8zM132.7 118.4h0.8v0.8h-0.8zM101.8 146.8h0.8v0.8h-0.8zM112.3 129.9h0.8v0.8h-0.8zM110.0 113.1h0.8v0.8h-0.8zM118.7 137.4h0.8v0.8h-0.8zM107.0 126.5h0.8v0.8h-0.8zM117.8 115.9h0.8v0.8h-0.8zM114.5 149.3h0.8v0.8h-0.8zM128.5 136.0h0.8v0.8h-0.8zM105.3 100.8h0.8v0.8h-0.8zM106.2 135.2h0.8v0.8h-0.8zM108.4 83.9h0.8v0.8h-0.8zM96.1 67.1h0.8v0.8h-0.8zM98.9 124.4h0.8v0.8h-0.8zM106.7 116.5h0.8v0.8h-0.8zM98.3 105.8h0.8v0.8h-0.8zM97.6 106.1h0.8v0.8h-0.8zM124.8 131.3h0.8v0.8h-0.8zM97.8 126.9h0.8v0.8h-0.8zM119.0 111.3h0.8v0.8h-0.8zM109.1 99.3h0.8v0.8h-0.8zM97.1 124.1h0.8v0.8h-0.8zM106.1 113.8h0.8v0.8h-0.8zM123.1 112.8h0.8v0.8h-0.8zM108.2 99.2h0.8v0.8h-0.8zM113.6 123.8h0.8v0.8h-0.8zM99.2 131.0h0.8v0.8h-0.8zM101.7 150.2h0.8v0.8h-0.8zM101.0 120.9h0.8v0.8h-0.8zM103.7 98.1h0.8v0.8h-0.8zM98.2 102.2h0.8v0.8h-0.8zM110.5 151.1h0.8v0.8h-0.8zM104.6 116.4h0.8v0.8h-0.8zM130.1 128.6h0.8v0.8h-0.8zM124.2 125.8h0.8v0.8h-0.8zM112.1 84.7h0.8v0.8h-0.8zM101.5 92.2h0.8v0.8h-0.8zM110.2 130.8h0.8v0.8h-0.8zM108.4 107.3h0.8v0.8h-0.8zM97.0 105.3h0.8v0.8h-0.8zM98.1 146.1h0.8v0.8h-0.8zM97.1 97.9h0.8v0.8h-0.8zM101.4 126.0h0.8v0.8h-0.8zM117.4 136.1h0.8v0.8h-0.8zM113.8 121.2h0.8v0.8h-0.8zM115.2 128.2h0.8v0.8h-0.8zM101.3 136.5h0.8v0.8h-0.8zM101.4 116.9h0.8v0.8h-0.8zM110.4 113.8h0.8v0.8h-0.8zM120.3 116.2h0.8v0.8h-0.8zM112.4 138.2h0.8v0.8h-0.8zM120.8 104.4h0.8v0.8h-0.8zM97.5 111.5h0.8v0.8h-0.8zM112.9 122.5h0.8v0.8h-0.8zM100.8 108.9h0.8v0.8h-0.8zM99.7 103.7h0.8v0.8h-0.8zM122.6 123.9h0.8v0.8h-0.8zM146.6 125.8h0.8v0.8h-0.8zM145.3 117.8h0.8v0.8h-0.8zM131.3 122.2h0.8v0.8h-0.8zM134.7 132.7h0.8v0.8h-0.8zM144.3 123.3h0.8v0.8h-0.8zM136.0 120.9h0.8v0.8h-0.8zM140.4 123.9h0.8v0.8h-0.8zM146.9 123.7h0.8v0.8h-0.8zM138.4 119.4h0.8v0.8h-0.8zM128.8 126.5h0.8v0.8h-0.8zM149.6 123.1h0.8v0.8h-0.8zM140.1 131.6h0.8v0.8h-0.8zM134.5 124.3h0.8v0.8h-0.8zM156.7 113.9h0.8v0.8h-0.8zM131.4 123.9h0.8v0.8h-0.8zM151.2 111.5h0.8v0.8h-0.8zM140.2 120.6h0.8v0.8h-0.8zM149.3 119.7h0.8v0.8h-0.8zM156.9 125.8h0.8v0.8h-0.8zM146.4 126.1h0.8v0.8h-0.8zM139.6 125.1h0.8v0.8h-0.8zM154.9 135.4h0.8v0.8h-0.8zM141.1 113.1h0.8v0.8h-0.8zM147.9 112.7h0.8v0.8h-0.8zM145.3 118.0h0.8v0.8h-0.8zM124.8 127.8h0.8v0.8h-0.8zM137.2 119.1h0.8v0.8h-0.8zM146.3 122.3h0.8v0.8h-0.8zM140.6 121.6h0.8v0.8h-0.8zM139.2 113.0h0.8v0.8h-0.8zM124.6 122.5h0.8v0.8h-0.8zM136.5 117.9h0.8v0.8h-0.8zM151.2 124.6h0.8v0.8h-0.8zM126.5 109.7h0.8v0.8h-0.8zM109.6 128.0h0.8v0.8h-0.8zM139.5 114.9h0.8v0.8h-0.8zM145.4 126.6h0.8v0.8h-0.8zM149.8 124.5h0.8v0.8h-0.8zM127.8 126.8h0.8v0.8h-0.8zM143.6 105.9h0.8v0.8h-0.8zM144.2 122.0h0.8v0.8h-0.8zM137.6 130.2h0.8v0.8h-0.8zM141.5 122.0h0.8v0.8h-0.8zM162.0 129.8h0.8v0.8h-0.8zM146.6 128.2h0.8v0.8h-0.8zM145.3 118.3h0.8v0.8h-0.8zM139.2 118.9h0.8v0.8h-0.8z" fill="#606060"/>
<path d="M103.5 69.0h0.9v0.9h-0.9zM76.9 68.6h0.9v0.9h-0.9zM79.0 66.8h0.9v0.9h-0.9zM83.2 65.1h0.9v0.9h-0.9zM85.9 96.0h0.9v0.9h-0.9zM101.3 92.2h0.9v0.9h-0.9zM84.5 66.7h0.9v0.9h-0.9zM89.4 95.9h0.9v0.9h-0.9zM75.6 72.2h0.9v0.9h-0.9zM79.4 72.5h0.9v0.9h-0.9zM87.8 66.7h0.9v0.9h-0.9zM87.4 64.4h0.9v0.9h-0.9zM94.9 95.8h0.9v0.9h-0.9zM88.3 93.0h0.9v0.9h-0.9zM84.2 63.8h0.9v0.9h-0.9zM77.6 85.5h0.9v0.9h-0.9zM79.7 67.4h0.9v0.9h-0.9zM87.3 64.7h0.9v0.9h-0.9zM76.7 82.4h0.9v0.9h-0.9zM98.1 93.0h0.9v0.9h-0.9zM93.3 64.4h0.9v0.9h-0.9zM99.7 66.8h0.9v0.9h-0.9zM94.1 64.1h0.9v0.9h-0.9zM84.7 70.2h0.9v0.9h-0.9zM81.7 91.9h0.9v0.9h-0.9zM94.2 92.8h0.9v0.9h-0.9zM86.6 94.2h0.9v0.9h-0.9zM77.7 91.1h0.9v0.9h-0.9zM105.5 73.9h0.9v0.9h-0.9zM101.6 67.0h0.9v0.9h-0.9zM76.6 69.6h0.9v0.9h-0.9zM92.3 62.8h0.9v0.9h-0.9zM95.5 95.8h0.9v0.9h-0.9zM76.5 71.3h0.9v0.9h-0.9zM83.9 67.1h0.9v0.9h-0.9zM83.7 94.5h0.9v0.9h-0.9zM102.8 71.8h0.9v0.9h-0.9zM94.6 64.9h0.9v0.9h-0.9zM98.7 72.2h0.9v0.9h-0.9zM97.6 92.7h0.9v0.9h-0.9zM75.7 72.7h0.9v0.9h-0.9zM107.0 79.7h0.9v0.9h-0.9zM77.9 69.2h0.9v0.9h-0.9zM92.4 96.9h0.9v0.9h-0.9zM103.3 81.2h0.9v0.9h-0.9zM88.2 94.0h0.9v0.9h-0.9zM102.0 82.3h0.9v0.9h-0.9zM79.4 69.4h0.9v0.9h-0.9zM86.5 97.0h0.9v0.9h-0.9zM81.3 94.0h0.9v0.9h-0.9zM75.2 71.7h0.9v0.9h-0.9zM99.4 92.7h0.9v0.9h-0.9zM78.4 91.7h0.9v0.9h-0.9zM104.5 82.0h0.9v0.9h-0.9zM79.5 74.9h0.9v0.9h-0.9zM96.1 92.8h0.9v0.9h-0.9zM79.9 68.6h0.9v0.9h-0.9zM97.6 67.8h0.9v0.9h-0.9zM96.2 93.9h0.9v0.9h-0.9zM100.2 68.8h0.9v0.9h-0.9zM85.3 92.5h0.9v0.9h-0.9zM77.9 87.0h0.9v0.9h-0.9zM93.9 65.3h0.9v0.9h-0.9zM104.7 76.8h0.9v0.9h-0.9zM92.7 63.3h0.9v0.9h-0.9zM95.3 96.3h0.9v0.9h-0.9zM78.1 88.5h0.9v0.9h-0.9zM78.4 74.0h0.9v0.9h-0.9zM100.2 89.3h0.9v0.9h-0.9zM105.2 84.0h0.9v0.9h-0.9zM81.0 92.5h0.9v0.9h-0.9zM101.8 90.6h0.9v0.9h-0.9zM75.8 72.9h0.9v0.9h-0.9zM79.5 66.1h0.9v0.9h-0.9zM92.3 64.5h0.9v0.9h-0.9zM100.5 88.3h0.9v0.9h-0.9zM97.8 89.9h0.9v0.9h-0.9zM99.7 72.9h0.9v0.9h-0.9zM74.3 80.1h0.9v0.9h-0.9zM102.9 75.5h0.9v0.9h-0.9zM77.3 75.5h0.9v0.9h-0.9zM105.6 81.1h0.9v0.9h-0.9zM98.1 67.3h0.9v0.9h-0.9zM104.2 83.9h0.9v0.9h-0.9zM104.0 71.3h0.9v0.9h-0.9zM100.9 68.3h0.9v0.9h-0.9zM102.3 68.5h0.9v0.9h-0.9zM98.9 92.6h0.9v0.9h-0.9zM94.6 96.7h0.9v0.9h-0.9zM82.2 68.6h0.9v0.9h-0.9zM80.6 92.4h0.9v0.9h-0.9zM89.1 67.8h0.9v0.9h-0.9zM94.3 90.9h0.9v0.9h-0.9zM98.4 93.3h0.9v0.9h-0.9zM102.2 68.4h0.9v0.9h-0.9zM106.2 77.7h0.9v0.9h-0.9zM90.7 92.2h0.9v0.9h-0.9zM98.2 65.1h0.9v0.9h-0.9zM100.8 88.6h0.9v0.9h-0.9zM78.2 71.9h0.9v0.9h-0.9zM86.7 63.0h0.9v0.9h-0.9zM98.6 89.7h0.9v0.9h-0.9zM86.2 63.5h0.9v0.9h-0.9zM99.6 66.0h0.9v0.9h-0.9zM84.4 95.5h0.9v0.9h-0.9zM83.8 66.1h0.9v0.9h-0.9zM85.8 93.6h0.9v0.9h-0.9zM74.6 79.7h0.9v0.9h-0.9zM97.2 67.9h0.9v0.9h-0.9zM91.6 91.1h0.9v0.9h-0.9zM85.5 63.4h0.9v0.9h-0.9zM93.2 91.6h0.9v0.9h-0.9zM77.6 72.8h0.9v0.9h-0.9zM86.3 92.4h0.9v0.9h-0.9zM92.9 67.1h0.9v0.9h-0.9zM88.3 63.3h0.9v0.9h-0.9zM104.3 70.2h0.9v0.9h-0.9zM82.0 64.4h0.9v0.9h-0.9zM80.2 89.2h0.9v0.9h-0.9zM103.5 86.1h0.9v0.9h-0.9zM78.7 86.4h0.9v0.9h-0.9zM77.7 68.0h0.9v0.9h-0.9zM100.5 66.3h0.9v0.9h-0.9zM106.1 83.3h0.9v0.9h-0.9zM105.6 79.3h0.9v0.9h-0.9zM75.2 80.2h0.9v0.9h-0.9zM97.6 64.8h0.9v0.9h-0.9zM98.0 94.9h0.9v0.9h-0.9zM80.9 87.5h0.9v0.9h-0.9zM105.7 84.2h0.9v0.9h-0.9zM77.8 90.6h0.9v0.9h-0.9zM89.1 97.5h0.9v0.9h-0.9zM98.0 65.9h0.9v0.9h-0.9zM95.6 64.3h0.9v0.9h-0.9zM100.1 69.9h0.9v0.9h-0.9zM80.8 67.2h0.9v0.9h-0.9zM86.4 64.5h0.9v0.9h-0.9zM92.2 95.2h0.9v0.9h-0.9zM94.2 63.2h0.9v0.9h-0.9zM104.4 80.8h0.9v0.9h-0.9zM103.9 70.9h0.9v0.9h-0.9zM75.8 73.5h0.9v0.9h-0.9zM103.8 70.5h0.9v0.9h-0.9zM95.3 64.0h0.9v0.9h-0.9zM104.2 71.6h0.9v0.9h-0.9zM85.9 65.2h0.9v0.9h-0.9zM103.6 89.0h0.9v0.9h-0.9zM97.3 69.4h0.9v0.9h-0.9zM79.0 69.3h0.9v0.9h-0.9zM74.6 85.8h0.9v0.9h-0.9zM80.4 66.5h0.9v0.9h-0.9zM100.5 73.8h0.9v0.9h-0.9zM85.3 93.3h0.9v0.9h-0.9zM98.7 91.4h0.9v0.9h-0.9zM101.7 72.0h0.9v0.9h-0.9zM95.9 69.3h0.9v0.9h-0.9zM92.1 63.0h0.9v0.9h-0.9zM75.4 73.5h0.9v0.9h-0.9zM95.5 93.6h0.9v0.9h-0.9zM82.7 70.3h0.9v0.9h-0.9zM93.7 63.1h0.9v0.9h-0.9zM91.7 63.7h0.9v0.9h-0.9zM98.1 66.3h0.9v0.9h-0.9zM91.8 96.5h0.9v0.9h-0.9zM88.8 95.9h0.9v0.9h-0.9zM101.5 87.8h0.9v0.9h-0.9zM94.5 66.8h0.9v0.9h-0.9zM90.6 92.6h0.9v0.9h-0.9zM93.9 95.5h0.9v0.9h-0.9zM92.1 96.8h0.9v0.9h-0.9zM80.6 87.5h0.9v0.9h-0.9zM79.0 69.4h0.9v0.9h-0.9zM88.6 65.2h0.9v0.9h-0.9zM79.5 90.6h0.9v0.9h-0.9zM79.1 66.3h0.9v0.9h-0.9zM99.1 69.6h0.9v0.9h-0.9zM86.0 109.1h0.9v0.9h-0.9zM100.1 133.0h0.9v0.9h-0.9zM98.5 142.7h0.9v0.9h-0.9zM101.1 139.7h0.9v0.9h-0.9zM88.4 119.3h0.9v0.9h-0.9zM95.6 105.4h0.9v0.9h-0.9zM94.4 132.2h0.9v0.9h-0.9zM93.0 149.8h0.9v0.9h-0.9zM101.5 114.2h0.9v0.9h-0.9zM93.4 127.6h0.9v0.9h-0.9zM93.9 148.6h0.9v0.9h-0.9zM90.3 148.2h0.9v0.9h-0.9zM93.0 122.2h0.9v0.9h-0.9zM101.1 116.0h0.9v0.9h-0.9zM87.9 127.0h0.9v0.9h-0.9zM102.8 124.3h0.9v0.9h-0.9zM103.4 136.9h0.9v0.9h-0.9zM96.2 121.7h0.9v0.9h-0.9zM104.9 124.4h0.9v0.9h-0.9zM91.2 119.4h0.9v0.9h-0.9zM98.2 118.8h0.9v0.9h-0.9zM102.2 107.6h0.9v0.9h-0.9zM91.6 141.4h0.9v0.9h-0.9zM86.6 135.0h0.9v0.9h-0.9zM87.7 133.8h0.9v0.9h-0.9zM99.1 116.4h0.9v0.9h-0.9zM86.3 114.7h0.9v0.9h-0.9zM101.0 132.1h0.9v0.9h-0.9zM102.0 118.5h0.9v0.9h-0.9zM104.6 116.8h0.9v0.9h-0.9zM100.4 115.5h0.9v0.9h-0.9zM103.0 130.5h0.9v0.9h-0.9zM93.5 116.7h0.9v0.9h-0.9zM93.3 128.0h0.9v0.9h-0.9zM105.6 116.7h0.9v0.9h-0.9zM99.4 127.9h0.9v0.9h-0.9zM93.4 144.1h0.9v0.9h-0.9zM98.8 117.6h0.9v0.9h-0.9zM88.3 127.9h0.9v0.9h-0.9zM108.1 135.5h0.9v0.9h-0.9zM100.4 111.3h0.9v0.9h-0.9zM87.7 116.1h0.9v0.9h-0.9zM104.9 122.1h0.9v0.9h-0.9zM91.0 127.5h0.9v0.9h-0.9zM93.7 116.4h0.9v0.9h-0.9zM88.6 132.1h0.9v0.9h-0.9zM84.4 117.4h0.9v0.9h-0.9zM100.4 132.8h0.9v0.9h-0.9zM92.4 127.1h0.9v0.9h-0.9zM102.3 113.2h0.9v0.9h-0.9zM90.5 120.8h0.9v0.9h-0.9zM105.0 129.5h0.9v0.9h-0.9zM98.6 132.4h0.9v0.9h-0.9zM99.3 140.6h0.9v0.9h-0.9zM87.1 119.3h0.9v0.9h-0.9zM90.0 129.8h0.9v0.9h-0.9zM95.2 128.3h0.9v0.9h-0.9zM93.1 134.6h0.9v0.9h-0.9zM103.9 134.7h0.9v0.9h-0.9zM93.2 164.5h0.9v0.9h-0.9zM93.6 134.5h0.9v0.9h-0.9zM88.4 137.7h0.9v0.9h-0.9zM87.7 147.5h0.9v0.9h-0.9zM94.8 125.5h0.9v0.9h-0.9zM99.2 117.6h0.9v0.9h-0.9zM87.1 140.4h0.9v0.9h-0.9zM89.8 134.2h0.9v0.9h-0.9zM92.5 126.2h0.9v0.9h-0.9zM93.8 115.3h0.9v0.9h-0.9zM99.4 125.0h0.9v0.9h-0.9zM86.5 131.7h0.9v0.9h-0.9zM89.7 124.9h0.9v0.9h-0.9zM89.5 133.0h0.9v0.9h-0.9zM96.7 98.4h0.9v0.9h-0.9zM99.6 119.5h0.9v0.9h-0.9zM97.9 141.9h0.9v0.9h-0.9zM98.0 127.6h0.9v0.9h-0.9zM86.2 122.6h0.9v0.9h-0.9zM99.0 114.6h0.9v0.9h-0.9zM94.0 149.7h0.9v0.9h-0.9zM89.2 138.7h0.9v0.9h-0.9zM90.8 147.3h0.9v0.9h-0.9zM95.9 111.5h0.9v0.9h-0.9zM88.2 141.0h0.9v0.9h-0.9zM96.5 139.2h0.9v0.9h-0.9zM107.4 107.5h0.9v0.9h-0.9zM87.0 124.6h0.9v0.9h-0.9zM89.1 128.7h0.9v0.9h-0.9zM99.7 133.4h0.9v0.9h-0.9zM97.8 130.1h0.9v0.9h-0.9zM97.7 135.3h0.9v0.9h-0.9zM106.7 136.8h0.9v0.9h-0.9zM104.4 120.3h0.9v0.9h-0.9zM96.1 108.0h0.9v0.9h-0.9zM95.5 128.6h0.9v0.9h-0.9zM86.0 135.8h0.9v0.9h-0.9zM110.0 131.2h0.9v0.9h-0.9zM102.6 122.3h0.9v0.9h-0.9zM90.6 133.8h0.9v0.9h-0.9zM96.6 134.5h0.9v0.9h-0.9zM103.8 120.9h0.9v0.9h-0.9zM106.1 101.4h0.9v0.9h-0.9zM90.7 105.0h0.9v0.9h-0.9zM93.1 138.1h0.9v0.9h-0.9zM94.2 146.8h0.9v0.9h-0.9zM88.9 130.8h0.9v0.9h-0.9zM115.1 110.9h0.9v0.9h-0.9zM87.1 136.4h0.9v0.9h-0.9zM89.1 117.6h0.9v0.9h-0.9zM96.5 121.8h0.9v0.9h-0.9zM88.2 126.9h0.9v0.9h-0.9zM88.7 127.9h0.9v0.9h-0.9zM97.8 97.3h0.9v0.9h-0.9zM96.5 122.3h0.9v0.9h-0.9zM90.3 128.2h0.9v0.9h-0.9zM82.1 132.1h0.9v0.9h-0.9zM107.2 131.1h0.9v0.9h-0.9zM89.3 116.3h0.9v0.9h-0.9zM108.0 139.4h0.9v0.9h-0.9zM90.6 151.3h0.9v0.9h-0.9zM98.8 137.8h0.9v0.9h-0.9zM96.6 110.9h0.9v0.9h-0.9zM88.0 144.2h0.9v0.9h-0.9zM92.8 113.1h0.9v0.9h-0.9zM103.2 102.0h0.9v0.9h-0.9zM91.4 116.1h0.9v0.9h-0.9zM97.5 117.9h0.9v0.9h-0.9zM88.9 124.2h0.9v0.9h-0.9zM103.0 112.6h0.9v0.9h-0.9zM98.0 115.1h0.9v0.9h-0.9zM96.2 132.3h0.9v0.9h-0.9zM82.3 125.2h0.9v0.9h-0.9zM97.6 106.7h0.9v0.9h-0.9zM102.1 111.8h0.9v0.9h-0.9zM90.4 120.5h0.9v0.9h-0.9zM99.5 113.5h0.9v0.9h-0.9zM104.7 105.9h0.9v0.9h-0.9zM86.3 147.1h0.9v0.9h-0.9zM90.2 134.4h0.9v0.9h-0.9zM109.0 131.7h0.9v0.9h-0.9zM92.7 121.8h0.9v0.9h-0.9zM103.7 135.7h0.9v0.9h-0.9zM95.5 107.7h0.9v0.9h-0.9zM93.4 136.5h0.9v0.9h-0.9zM81.5 116.8h0.9v0.9h-0.9zM88.0 112.0h0.9v0.9h-0.9zM96.4 111.2h0.9v0.9h-0.9zM99.0 119.5h0.9v0.9h-0.9zM94.3 114.2h0.9v0.9h-0.9zM87.7 140.0h0.9v0.9h-0.9zM98.4 120.4h0.9v0.9h-0.9zM99.0 128.0h0.9v0.9h-0.9zM79.2 117.3h0.9v0.9h-0.9zM91.5 115.0h0.9v0.9h-0.9zM93.0 119.3h0.9v0.9h-0.9zM85.8 129.6h0.9v0.9h-0.9zM90.3 121.5h0.9v0.9h-0.9zM93.7 116.2h0.9v0.9h-0.9zM102.8 99.7h0.9v0.9h-0.9zM103.9 118.4h0.9v0.9h-0.9zM83.6 117.8h0.9v0.9h-0.9zM97.7 130.5h0.9v0.9h-0.9zM97.2 133.2h0.9v0.9h-0.9zM90.2 119.2h0.9v0.9h-0.9zM90.9 134.0h0.9v0.9h-0.9zM87.6 122.4h0.9v0.9h-0.9zM92.5 109.2h0.9v0.9h-0.9zM95.0 114.8h0.9v0.9h-0.9zM97.5 133.1h0.9v0.9h-0.9zM87.4 128.9h0.9v0.9h-0.9zM91.3 136.6h0.9v0.9h-0.9zM89.1 145.0h0.9v0.9h-0.9zM89.0 128.7h0.9v0.9h-0.9zM96.0 97.7h0.9v0.9h-0.9zM104.2 125.4h0.9v0.9h-0.9zM87.5 118.9h0.9v0.9h-0.9zM89.2 140.7h0.9v0.9h-0.9zM91.7 124.8h0.9v0.9h-0.9zM103.2 135.1h0.9v0.9h-0.9zM96.0 141.5h0.9v0.9h-0.9zM84.0 122.0h0.9v0.9h-0.9zM69.1 121.2h0.9v0.9h-0.9zM97.3 113.2h0.9v0.9h-0.9zM98.1 140.3h0.9v0.9h-0.9zM90.1 130.3h0.9v0.9h-0.9zM99.7 113.0h0.9v0.9h-0.9zM85.0 115.7h0.9v0.9h-0.9zM100.5 120.3h0.9v0.9h-0.9zM89.2 125.1h0.9v0.9h-0.9zM88.0 117.5h0.9v0.9h-0.9zM96.4 132.3h0.9v0.9h-0.9zM82.2 122.2h0.9v0.9h-0.9zM83.1 119.6h0.9v0.9h-0.9zM90.5 110.4h0.9v0.9h-0.9zM89.8 134.1h0.9v0.9h-0.9zM96.0 110.3h0.9v0.9h-0.9zM96.0 119.9h0.9v0.9h-0.9zM84.2 116.1h0.9v0.9h-0.9zM93.1 119.0h0.9v0.9h-0.9zM89.4 144.2h0.9v0.9h-0.9zM85.5 139.5h0.9v0.9h-0.9zM90.5 113.3h0.9v0.9h-0.9zM92.4 136.8h0.9v0.9h-0.9zM101.5 113.2h0.9v0.9h-0.9zM93.2 108.9h0.9v0.9h-0.9zM88.6 130.9h0.9v0.9h-0.9zM100.1 121.7h0.9v0.9h-0.9zM101.8 124.0h0.9v0.9h-0.9zM86.1 136.7h0.9v0.9h-0.9zM92.0 115.1h0.9v0.9h-0.9zM97.3 135.5h0.9v0.9h-0.9zM77.3 128.5h0.9v0.9h-0.9zM96.1 121.9h0.9v0.9h-0.9zM96.0 142.9h0.9v0.9h-0.9zM86.2 122.1h0.9v0.9h-0.9zM95.6 109.5h0.9v0.9h-0.9zM90.9 142.0h0.9v0.9h-0.9zM92.5 146.6h0.9v0.9h-0.9zM93.2 109.9h0.9v0.9h-0.9zM103.2 124.8h0.9v0.9h-0.9zM106.1 133.2h0.9v0.9h-0.9zM93.2 131.6h0.9v0.9h-0.9zM94.0 113.0h0.9v0.9h-0.9zM88.1 151.2h0.9v0.9h-0.9zM91.5 129.0h0.9v0.9h-0.9zM94.1 103.6h0.9v0.9h-0.9zM95.9 139.6h0.9v0.9h-0.9z" fill="#606060"/>
<path d="M86.6 77.6h0.8v0.8h-0.8zM85.4 76.3h0.8v0.8h-0.8zM87.6 77.1h0.8v0.8h-0.8zM87.2 77.3h0.8v0.8h-0.8zM86.7 76.8h0.8v0.8h-0.8zM87.3 77.6h0.8v0.8h-0.8zM83.8 80.3h0.8v0.8h-0.8zM84.3 76.3h0.8v0.8h-0.8zM86.0 75.8h0.8v0.8h-0.8zM87.2 77.8h0.8v0.8h-0.8zM87.7 76.7h0.8v0.8h-0.8zM89.1 76.1h0.8v0.8h-0.8zM87.6 76.9h0.8v0.8h-0.8zM79.0 97.9h0.8v0.8h-0.8zM109.7 73.4h0.8v0.8h-0.8zM92.6 61.7h0.8v0.8h-0.8zM71.7 89.2h0.8v0.8h-0.8zM110.9 82.4h0.8v0.8h-0.8zM103.7 91.2h0.8v0.8h-0.8zM96.2 97.6h0.8v0.8h-0.8zM92.5 102.0h0.8v0.8h-0.8zM107.5 69.2h0.8v0.8h-0.8zM69.0 79.9h0.8v0.8h-0.8zM101.7 98.3h0.8v0.8h-0.8zM109.4 70.4h0.8v0.8h-0.8zM77.4 64.9h0.8v0.8h-0.8zM80.7 95.0h0.8v0.8h-0.8zM88.9 97.0h0.8v0.8h-0.8zM111.7 74.2h0.8v0.8h-0.8zM75.0 89.7h0.8v0.8h-0.8zM91.5 59.1h0.8v0.8h-0.8zM111.9 73.8h0.8v0.8h-0.8zM67.8 82.2h0.8v0.8h-0.8zM68.8 73.6h0.8v0.8h-0.8zM81.0 59.0h0.8v0.8h-0.8zM106.7 67.7h0.8v0.8h-0.8zM108.2 81.0h0.8v0.8h-0.8zM105.3 69.3h0.8v0.8h-0.8zM75.1 64.9h0.8v0.8h-0.8zM76.7 93.3h0.8v0.8h-0.8zM72.6 74.6h0.8v0.8h-0.8zM91.1 101.2h0.8v0.8h-0.8zM84.7 60.7h0.8v0.8h-0.8zM73.0 69.1h0.8v0.8h-0.8zM68.8 76.7h0.8v0.8h-0.8zM71.9 78.3h0.8v0.8h-0.8zM91.2 99.2h0.8v0.8h-0.8zM104.6 94.5h0.8v0.8h-0.8zM71.9 91.6h0.8v0.8h-0.8zM103.7 63.9h0.8v0.8h-0.8zM104.4 92.3h0.8v0.8h-0.8zM71.5 75.6h0.8v0.8h-0.8zM77.6 95.5h0.8v0.8h-0.8zM74.8 65.3h0.8v0.8h-0.8zM93.9 59.8h0.8v0.8h-0.8zM68.9 81.8h0.8v0.8h-0.8zM88.1 61.3h0.8v0.8h-0.8zM69.1 83.2h0.8v0.8h-0.8zM103.8 69.0h0.8v0.8h-0.8zM85.7 97.0h0.8v0.8h-0.8zM107.9 76.6h0.8v0.8h-0.8zM79.5 93.5h0.8v0.8h-0.8zM107.2 91.7h0.8v0.8h-0.8zM106.7 90.1h0.8v0.8h-0.8zM104.8 70.7h0.8v0.8h-0.8zM106.9 94.6h0.8v0.8h-0.8zM70.1 84.4h0.8v0.8h-0.8zM110.3 88.6h0.8v0.8h-0.8zM67.5 77.2h0.8v0.8h-0.8zM74.8 95.3h0.8v0.8h-0.8z" fill="#707070"/>
<path d="M117.8 83.5h0.8v0.8h-0.8zM67.3 83.5h0.8v0.8h-0.8zM110.8 88.9h0.8v0.8h-0.8zM88.6 105.7h0.8v0.8h-0.8zM96.6 51.9h0.8v0.8h-0.8zM64.5 80.5h0.8v0.8h-0.8zM101.5 55.9h0.8v0.8h-0.8zM106.4 101.4h0.8v0.8h-0.8zM115.8 83.3h0.8v0.8h-0.8zM67.7 86.2h0.8v0.8h-0.8zM65.4 71.1h0.8v0.8h-0.8zM95.6 55.3h0.8v0.8h-0.8zM89.1 51.9h0.8v0.8h-0.8zM105.9 97.2h0.8v0.8h-0.8zM114.1 64.7h0.8v0.8h-0.8zM67.6 76.0h0.8v0.8h-0.8zM65.1 83.9h0.8v0.8h-0.8zM71.6 97.5h0.8v0.8h-0.8zM65.7 71.2h0.8v0.8h-0.8zM84.4 55.4h0.8v0.8h-0.8zM102.7 98.5h0.8v0.8h-0.8zM72.7 94.2h0.8v0.8h-0.8zM85.1 52.3h0.8v0.8h-0.8zM74.7 59.6h0.8v0.8h-0.8zM118.1 82.5h0.8v0.8h-0.8zM66.9 68.7h0.8v0.8h-0.8zM101.3 100.8h0.8v0.8h-0.8zM64.5 71.1h0.8v0.8h-0.8zM113.9 89.0h0.8v0.8h-0.8zM66.9 93.5h0.8v0.8h-0.8zM81.1 53.8h0.8v0.8h-0.8zM102.2 57.6h0.8v0.8h-0.8zM95.3 100.8h0.8v0.8h-0.8zM65.0 85.7h0.8v0.8h-0.8zM115.3 78.7h0.8v0.8h-0.8zM92.0 158.3h0.8v0.8h-0.8zM89.4 160.5h0.8v0.8h-0.8zM83.4 151.3h0.8v0.8h-0.8zM90.5 148.1h0.8v0.8h-0.8zM89.6 149.6h0.8v0.8h-0.8zM81.9 151.8h0.8v0.8h-0.8zM89.4 149.5h0.8v0.8h-0.8zM97.4 153.0h0.8v0.8h-0.8zM91.0 157.9h0.8v0.8h-0.8zM97.3 140.5h0.8v0.8h-0.8zM89.4 142.4h0.8v0.8h-0.8zM99.6 155.2h0.8v0.8h-0.8zM95.6 149.2h0.8v0.8h-0.8zM101.5 160.0h0.8v0.8h-0.8zM80.9 144.3h0.8v0.8h-0.8zM92.3 148.5h0.8v0.8h-0.8zM95.5 155.8h0.8v0.8h-0.8zM90.1 149.4h0.8v0.8h-0.8zM95.1 158.0h0.8v0.8h-0.8zM91.0 141.4h0.8v0.8h-0.8zM94.8 148.0h0.8v0.8h-0.8zM99.8 157.5h0.8v0.8h-0.8zM88.7 148.6h0.8v0.8h-0.8zM89.0 161.8h0.8v0.8h-0.8zM86.7 144.8h0.8v0.8h-0.8zM80.5 149.7h0.8v0.8h-0.8zM93.8 158.3h0.8v0.8h-0.8zM92.4 139.2h0.8v0.8h-0.8zM98.4 151.0h0.8v0.8h-0.8zM92.9 141.5h0.8v0.8h-0.8zM83.9 142.9h0.8v0.8h-0.8zM96.2 146.4h0.8v0.8h-0.8zM87.8 159.3h0.8v0.8h-0.8zM92.0 150.5h0.8v0.8h-0.8zM95.2 140.2h0.8v0.8h-0.8zM82.8 154.6h0.8v0.8h-0.8zM88.8 158.3h0.8v0.8h-0.8zM101.3 138.8h0.8v0.8h-0.8zM92.1 161.0h0.8v0.8h-0.8zM102.8 144.5h0.8v0.8h-0.8zM90.7 157.9h0.8v0.8h-0.8zM94.6 157.8h0.8v0.8h-0.8zM91.8 143.2h0.8v0.8h-0.8zM95.6 157.4h0.8v0.8h-0.8zM119.5 101.4h0.8v0.8h-0.8zM140.8 141.3h0.8v0.8h-0.8zM122.1 118.6h0.8v0.8h-0.8zM126.9 101.2h0.8v0.8h-0.8zM115.7 135.1h0.8v0.8h-0.8zM98.0 114.2h0.8v0.8h-0.8zM98.0 131.3h0.8v0.8h-0.8zM99.1 123.1h0.8v0.8h-0.8zM95.4 120.8h0.8v0.8h-0.8zM100.9 119.5h0.8v0.8h-0.8zM106.1 103.6h0.8v0.8h-0.8zM103.9 123.7h0.8v0.8h-0.8zM125.5 120.0h0.8v0.8h-0.8zM120.6 102.7h0.8v0.8h-0.8zM114.7 111.0h0.8v0.8h-0.8zM100.4 113.8h0.8v0.8h-0.8zM95.3 97.1h0.8v0.8h-0.8zM98.8 145.6h0.8v0.8h-0.8zM119.8 106.8h0.8v0.8h-0.8zM102.4 148.6h0.8v0.8h-0.8zM105.2 96.5h0.8v0.8h-0.8zM106.4 125.3h0.8v0.8h-0.8zM127.4 119.7h0.8v0.8h-0.8zM102.6 100.2h0.8v0.8h-0.8zM97.8 116.5h0.8v0.8h-0.8zM144.4 125.3h0.8v0.8h-0.8zM117.3 105.0h0.8v0.8h-0.8zM105.0 118.0h0.8v0.8h-0.8zM101.5 129.3h0.8v0.8h-0.8zM110.8 121.5h0.8v0.8h-0.8zM97.0 150.5h0.8v0.8h-0.8zM128.1 121.5h0.8v0.8h-0.8zM95.5 106.8h0.8v0.8h-0.8zM103.2 117.9h0.8v0.8h-0.8zM98.0 108.3h0.8v0.8h-0.8zM108.0 135.9h0.8v0.8h-0.8zM100.7 128.8h0.8v0.8h-0.8zM116.4 126.1h0.8v0.8h-0.8zM97.4 126.6h0.8v0.8h-0.8zM106.6 90.9h0.8v0.8h-0.8zM101.3 87.3h0.8v0.8h-0.8zM131.3 125.8h0.8v0.8h-0.8zM122.2 120.0h0.8v0.8h-0.8zM116.0 117.6h0.8v0.8h-0.8zM104.7 115.3h0.8v0.8h-0.8zM103.5 140.1h0.8v0.8h-0.8zM104.2 113.7h0.8v0.8h-0.8zM104.2 147.4h0.8v0.8h-0.8zM99.9 137.0h0.8v0.8h-0.8zM124.5 155.8h0.8v0.8h-0.8zM95.2 107.5h0.8v0.8h-0.8zM105.7 116.5h0.8v0.8h-0.8zM115.2 127.2h0.8v0.8h-0.8zM97.3 127.5h0.8v0.8h-0.8zM106.3 114.7h0.8v0.8h-0.8zM97.2 116.3h0.8v0.8h-0.8zM122.2 92.4h0.8v0.8h-0.8zM100.1 128.8h0.8v0.8h-0.8zM113.8 104.2h0.8v0.8h-0.8zM110.0 107.4h0.8v0.8h-0.8zM97.0 118.0h0.8v0.8h-0.8zM121.9 106.7h0.8v0.8h-0.8zM104.5 144.2h0.8v0.8h-0.8zM100.6 126.6h0.8v0.8h-0.8zM95.0 155.6h0.8v0.8h-0.8zM101.9 132.5h0.8v0.8h-0.8zM124.7 142.2h0.8v0.8h-0.8zM98.9 109.6h0.8v0.8h-0.8zM116.3 122.5h0.8v0.8h-0.8zM114.5 148.5h0.8v0.8h-0.8zM104.9 154.5h0.8v0.8h-0.8zM99.9 123.9h0.8v0.8h-0.8zM108.7 118.7h0.8v0.8h-0.8zM108.6 105.9h0.8v0.8h-0.8zM98.6 124.8h0.8v0.8h-0.8zM143.7 109.6h0.8v0.8h-0.8zM137.4 118.7h0.8v0.8h-0.8zM132.1 123.9h0.8v0.8h-0.8zM149.9 102.4h0.8v0.8h-0.8zM144.6 122.9h0.8v0.8h-0.8zM150.2 130.5h0.8v0.8h-0.8zM138.5 112.7h0.8v0.8h-0.8zM140.1 112.9h0.8v0.8h-0.8zM138.9 117.0h0.8v0.8h-0.8zM131.1 124.5h0.8v0.8h-0.8zM147.1 138.7h0.8v0.8h-0.8zM136.3 125.3h0.8v0.8h-0.8zM124.1 114.6h0.8v0.8h-0.8zM132.9 112.0h0.8v0.8h-0.8zM149.4 121.1h0.8v0.8h-0.8zM146.7 136.6h0.8v0.8h-0.8zM141.4 123.4h0.8v0.8h-0.8zM141.0 116.5h0.8v0.8h-0.8zM151.9 113.0h0.8v0.8h-0.8zM157.2 118.1h0.8v0.8h-0.8zM132.1 124.1h0.8v0.8h-0.8zM138.1 122.8h0.8v0.8h-0.8zM118.8 118.5h0.8v0.8h-0.8zM149.7 121.5h0.8v0.8h-0.8zM136.8 117.7h0.8v0.8h-0.8zM137.5 120.8h0.8v0.8h-0.8zM143.2 120.5h0.8v0.8h-0.8zM155.6 116.2h0.8v0.8h-0.8zM131.1 114.2h0.8v0.8h-0.8zM154.8 136.2h0.8v0.8h-0.8zM132.1 117.8h0.8v0.8h-0.8zM160.7 116.4h0.8v0.8h-0.8zM134.8 120.8h0.8v0.8h-0.8zM144.9 129.8h0.8v0.8h-0.8zM153.1 122.1h0.8v0.8h-0.8zM137.1 116.6h0.8v0.8h-0.8zM140.1 118.4h0.8v0.8h-0.8zM154.2 131.7h0.8v0.8h-0.8zM120.8 111.4h0.8v0.8h-0.8zM126.1 112.4h0.8v0.8h-0.8zM139.3 124.5h0.8v0.8h-0.8zM142.3 125.6h0.8v0.8h-0.8zM147.9 132.5h0.8v0.8h-0.8zM160.2 129.4h0.8v0.8h-0.8zM144.6 108.0h0.8v0.8h-0.8zM147.4 116.0h0.8v0.8h-0.8zM131.9 120.5h0.8v0.8h-0.8z" fill="#808080"/>
<path d="M78.5 88.8h0.9v0.9h-0.9zM103.9 88.2h0.9v0.9h-0.9zM101.7 85.0h0.9v0.9h-0.9zM88.8 64.1h0.9v0.9h-0.9zM76.4 72.3h0.9v0.9h-0.9zM86.0 91.5h0.9v0.9h-0.9zM102.6 84.3h0.9v0.9h-0.9zM101.6 67.3h0.9v0.9h-0.9zM76.7 90.0h0.9v0.9h-0.9zM96.3 64.6h0.9v0.9h-0.9zM103.5 74.6h0.9v0.9h-0.9zM86.1 95.9h0.9v0.9h-0.9zM92.4 63.2h0.9v0.9h-0.9zM80.1 69.3h0.9v0.9h-0.9zM82.2 92.2h0.9v0.9h-0.9zM74.9 77.4h0.9v0.9h-0.9zM83.6 63.7h0.9v0.9h-0.9zM73.4 78.2h0.9v0.9h-0.9zM77.5 90.8h0.9v0.9h-0.9zM104.6 70.9h0.9v0.9h-0.9zM81.5 67.0h0.9v0.9h-0.9zM76.2 81.4h0.9v0.9h-0.9zM97.8 69.4h0.9v0.9h-0.9zM95.3 92.9h0.9v0.9h-0.9zM81.0 69.1h0.9v0.9h-0.9zM79.8 69.2h0.9v0.9h-0.9zM97.2 65.7h0.9v0.9h-0.9zM101.9 67.3h0.9v0.9h-0.9zM104.4 77.2h0.9v0.9h-0.9zM93.5 64.6h0.9v0.9h-0.9zM80.1 71.4h0.9v0.9h-0.9zM87.7 94.0h0.9v0.9h-0.9zM96.0 63.5h0.9v0.9h-0.9zM95.6 65.7h0.9v0.9h-0.9zM94.2 64.0h0.9v0.9h-0.9zM78.5 89.1h0.9v0.9h-0.9zM80.6 92.1h0.9v0.9h-0.9zM91.6 65.2h0.9v0.9h-0.9zM96.2 70.1h0.9v0.9h-0.9zM105.8 83.2h0.9v0.9h-0.9zM104.9 71.6h0.9v0.9h-0.9zM98.8 67.4h0.9v0.9h-0.9zM105.9 73.4h0.9v0.9h-0.9zM104.4 72.5h0.9v0.9h-0.9zM99.2 88.8h0.9v0.9h-0.9zM77.2 80.3h0.9v0.9h-0.9zM100.6 71.4h0.9v0.9h-0.9zM96.7 67.2h0.9v0.9h-0.9zM73.6 77.6h0.9v0.9h-0.9zM100.2 73.0h0.9v0.9h-0.9zM90.1 96.9h0.9v0.9h-0.9zM96.5 64.8h0.9v0.9h-0.9zM80.2 87.9h0.9v0.9h-0.9zM78.0 89.1h0.9v0.9h-0.9zM86.7 64.5h0.9v0.9h-0.9zM100.2 83.3h0.9v0.9h-0.9zM100.4 71.1h0.9v0.9h-0.9zM77.7 69.8h0.9v0.9h-0.9zM75.9 88.4h0.9v0.9h-0.9zM84.2 64.0h0.9v0.9h-0.9zM96.0 69.9h0.9v0.9h-0.9zM76.2 80.7h0.9v0.9h-0.9zM87.0 65.7h0.9v0.9h-0.9zM98.6 65.3h0.9v0.9h-0.9zM99.1 68.3h0.9v0.9h-0.9zM83.6 95.3h0.9v0.9h-0.9zM95.5 64.4h0.9v0.9h-0.9zM105.3 82.5h0.9v0.9h-0.9zM104.9 83.3h0.9v0.9h-0.9zM82.3 92.0h0.9v0.9h-0.9zM99.4 91.5h0.9v0.9h-0.9zM98.4 66.2h0.9v0.9h-0.9zM104.1 88.6h0.9v0.9h-0.9zM89.2 63.1h0.9v0.9h-0.9zM84.0 94.6h0.9v0.9h-0.9zM99.1 67.1h0.9v0.9h-0.9zM74.1 82.8h0.9v0.9h-0.9zM76.3 73.8h0.9v0.9h-0.9zM90.8 94.4h0.9v0.9h-0.9zM96.4 65.1h0.9v0.9h-0.9zM105.2 83.0h0.9v0.9h-0.9zM95.0 64.4h0.9v0.9h-0.9zM98.0 66.2h0.9v0.9h-0.9zM96.3 93.0h0.9v0.9h-0.9zM87.8 63.9h0.9v0.9h-0.9zM84.9 93.8h0.9v0.9h-0.9zM83.4 65.2h0.9v0.9h-0.9zM85.4 63.8h0.9v0.9h-0.9zM95.2 66.3h0.9v0.9h-0.9zM89.8 94.1h0.9v0.9h-0.9zM76.4 71.6h0.9v0.9h-0.9zM106.3 78.2h0.9v0.9h-0.9zM97.1 68.1h0.9v0.9h-0.9zM90.8 64.3h0.9v0.9h-0.9zM103.0 87.2h0.9v0.9h-0.9zM94.1 91.4h0.9v0.9h-0.9zM76.8 89.4h0.9v0.9h-0.9zM80.4 69.7h0.9v0.9h-0.9zM78.2 87.2h0.9v0.9h-0.9zM80.3 93.5h0.9v0.9h-0.9zM81.0 65.9h0.9v0.9h-0.9zM91.2 65.5h0.9v0.9h-0.9zM98.9 90.6h0.9v0.9h-0.9zM76.2 74.5h0.9v0.9h-0.9zM75.2 85.6h0.9v0.9h-0.9zM104.0 86.1h0.9v0.9h-0.9zM96.8 65.7h0.9v0.9h-0.9zM92.7 92.9h0.9v0.9h-0.9zM98.7 93.6h0.9v0.9h-0.9zM83.7 72.5h0.9v0.9h-0.9zM88.8 68.9h0.9v0.9h-0.9zM80.7 86.4h0.9v0.9h-0.9zM74.8 82.2h0.9v0.9h-0.9zM79.9 88.5h0.9v0.9h-0.9zM99.5 67.7h0.9v0.9h-0.9zM105.2 86.7h0.9v0.9h-0.9zM83.7 95.0h0.9v0.9h-0.9zM83.9 66.4h0.9v0.9h-0.9zM74.8 80.6h0.9v0.9h-0.9zM94.5 66.1h0.9v0.9h-0.9zM79.6 87.8h0.9v0.9h-0.9zM96.6 64.7h0.9v0.9h-0.9zM75.9 76.5h0.9v0.9h-0.9zM100.8 68.6h0.9v0.9h-0.9zM100.3 77.8h0.9v0.9h-0.9zM105.1 83.5h0.9v0.9h-0.9zM87.0 93.1h0.9v0.9h-0.9zM101.5 82.0h0.9v0.9h-0.9zM73.7 81.6h0.9v0.9h-0.9zM89.3 64.3h0.9v0.9h-0.9zM76.1 78.9h0.9v0.9h-0.9zM96.7 63.8h0.9v0.9h-0.9zM104.2 72.2h0.9v0.9h-0.9zM106.6 83.7h0.9v0.9h-0.9zM99.6 65.6h0.9v0.9h-0.9zM74.3 84.0h0.9v0.9h-0.9zM80.0 90.8h0.9v0.9h-0.9zM105.1 75.4h0.9v0.9h-0.9zM85.7 92.8h0.9v0.9h-0.9zM103.1 86.9h0.9v0.9h-0.9zM83.9 66.1h0.9v0.9h-0.9zM74.1 79.4h0.9v0.9h-0.9zM90.3 63.0h0.9v0.9h-0.9zM80.9 93.3h0.9v0.9h-0.9zM91.9 67.2h0.9v0.9h-0.9zM82.2 65.5h0.9v0.9h-0.9zM78.0 69.9h0.9v0.9h-0.9zM80.2 93.3h0.9v0.9h-0.9zM86.1 95.9h0.9v0.9h-0.9zM91.5 91.6h0.9v0.9h-0.9zM100.7 76.9h0.9v0.9h-0.9zM92.3 63.8h0.9v0.9h-0.9zM92.4 62.8h0.9v0.9h-0.9zM93.1 91.8h0.9v0.9h-0.9zM93.9 95.6h0.9v0.9h-0.9zM95.7 95.7h0.9v0.9h-0.9zM98.2 92.2h0.9v0.9h-0.9zM91.2 63.9h0.9v0.9h-0.9zM82.9 92.5h0.9v0.9h-0.9zM76.9 76.8h0.9v0.9h-0.9zM77.6 86.4h0.9v0.9h-0.9zM73.2 76.9h0.9v0.9h-0.9zM79.5 68.2h0.9v0.9h-0.9zM99.8 67.2h0.9v0.9h-0.9zM98.2 66.4h0.9v0.9h-0.9zM84.6 96.0h0.9v0.9h-0.9zM81.6 94.4h0.9v0.9h-0.9zM96.4 67.4h0.9v0.9h-0.9zM94.1 63.4h0.9v0.9h-0.9zM101.1 70.1h0.9v0.9h-0.9zM90.5 95.7h0.9v0.9h-0.9zM76.8 82.6h0.9v0.9h-0.9zM105.2 75.8h0.9v0.9h-0.9zM77.8 72.6h0.9v0.9h-0.9zM105.5 76.5h0.9v0.9h-0.9zM99.0 90.7h0.9v0.9h-0.9zM104.7 82.5h0.9v0.9h-0.9zM99.6 89.7h0.9v0.9h-0.9zM92.8 64.6h0.9v0.9h-0.9zM99.9 66.3h0.9v0.9h-0.9zM85.3 65.1h0.9v0.9h-0.9zM106.6 77.0h0.9v0.9h-0.9zM93.4 65.3h0.9v0.9h-0.9zM80.5 72.0h0.9v0.9h-0.9zM91.6 93.6h0.9v0.9h-0.9zM97.1 64.2h0.9v0.9h-0.9zM90.5 63.1h0.9v0.9h-0.9zM93.6 66.7h0.9v0.9h-0.9zM93.2 63.9h0.9v0.9h-0.9zM73.8 82.7h0.9v0.9h-0.9zM101.9 68.4h0.9v0.9h-0.9zM77.1 86.1h0.9v0.9h-0.9zM104.9 72.5h0.9v0.9h-0.9zM94.6 66.2h0.9v0.9h-0.9zM92.5 62.8h0.9v0.9h-0.9zM92.2 122.5h0.9v0.9h-0.9zM93.3 113.1h0.9v0.9h-0.9zM97.0 117.7h0.9v0.9h-0.9zM89.6 130.2h0.9v0.9h-0.9zM86.5 128.6h0.9v0.9h-0.9zM97.4 144.1h0.9v0.9h-0.9zM91.5 132.7h0.9v0.9h-0.9zM88.4 112.1h0.9v0.9h-0.9zM99.7 128.4h0.9v0.9h-0.9zM90.9 125.7h0.9v0.9h-0.9zM86.7 133.5h0.9v0.9h-0.9zM91.7 118.7h0.9v0.9h-0.9zM93.0 123.5h0.9v0.9h-0.9zM89.7 131.8h0.9v0.9h-0.9zM91.9 131.2h0.9v0.9h-0.9zM92.1 118.2h0.9v0.9h-0.9zM98.1 142.1h0.9v0.9h-0.9zM95.4 116.1h0.9v0.9h-0.9zM90.2 137.2h0.9v0.9h-0.9zM96.3 110.2h0.9v0.9h-0.9zM102.6 144.6h0.9v0.9h-0.9zM79.5 132.1h0.9v0.9h-0.9zM72.2 120.4h0.9v0.9h-0.9zM88.9 129.5h0.9v0.9h-0.9zM99.1 116.5h0.9v0.9h-0.9zM99.4 123.0h0.9v0.9h-0.9zM103.7 124.0h0.9v0.9h-0.9zM103.1 125.2h0.9v0.9h-0.9zM100.7 135.1h0.9v0.9h-0.9zM92.5 122.6h0.9v0.9h-0.9zM87.3 127.1h0.9v0.9h-0.9zM90.0 123.9h0.9v0.9h-0.9zM110.3 128.0h0.9v0.9h-0.9zM99.8 113.0h0.9v0.9h-0.9zM88.2 120.5h0.9v0.9h-0.9zM81.2 118.8h0.9v0.9h-0.9zM99.7 99.2h0.9v0.9h-0.9zM94.1 106.6h0.9v0.9h-0.9zM88.5 116.7h0.9v0.9h-0.9zM102.2 114.9h0.9v0.9h-0.9zM90.8 136.9h0.9v0.9h-0.9zM93.1 106.6h0.9v0.9h-0.9zM84.6 106.9h0.9v0.9h-0.9zM104.2 117.0h0.9v0.9h-0.9zM86.4 138.5h0.9v0.9h-0.9zM102.0 114.8h0.9v0.9h-0.9zM90.8 125.1h0.9v0.9h-0.9zM98.1 112.7h0.9v0.9h-0.9zM98.0 147.7h0.9v0.9h-0.9zM93.7 136.4h0.9v0.9h-0.9zM95.5 122.0h0.9v0.9h-0.9zM99.5 116.8h0.9v0.9h-0.9zM97.5 129.0h0.9v0.9h-0.9zM96.2 148.4h0.9v0.9h-0.9zM96.9 128.4h0.9v0.9h-0.9zM106.0 105.5h0.9v0.9h-0.9zM94.9 122.3h0.9v0.9h-0.9zM83.2 110.3h0.9v0.9h-0.9zM88.9 123.7h0.9v0.9h-0.9zM82.6 101.7h0.9v0.9h-0.9zM92.9 108.9h0.9v0.9h-0.9zM89.0 119.7h0.9v0.9h-0.9zM87.6 127.1h0.9v0.9h-0.9zM91.4 122.7h0.9v0.9h-0.9zM94.9 122.1h0.9v0.9h-0.9zM99.5 125.8h0.9v0.9h-0.9zM102.1 109.1h0.9v0.9h-0.9zM97.9 123.6h0.9v0.9h-0.9zM87.5 112.9h0.9v0.9h-0.9zM91.0 136.7h0.9v0.9h-0.9zM97.5 138.0h0.9v0.9h-0.9zM100.0 140.4h0.9v0.9h-0.9zM91.6 133.3h0.9v0.9h-0.9zM95.5 147.6h0.9v0.9h-0.9zM103.0 122.9h0.9v0.9h-0.9zM103.3 117.9h0.9v0.9h-0.9zM93.8 128.2h0.9v0.9h-0.9zM101.1 124.2h0.9v0.9h-0.9zM90.8 126.1h0.9v0.9h-0.9zM85.2 132.1h0.9v0.9h-0.9zM85.5 116.5h0.9v0.9h-0.9zM87.6 127.7h0.9v0.9h-0.9zM96.5 114.4h0.9v0.9h-0.9zM94.8 128.4h0.9v0.9h-0.9zM89.6 125.1h0.9v0.9h-0.9zM97.1 122.9h0.9v0.9h-0.9zM101.5 111.3h0.9v0.9h-0.9zM93.4 121.7h0.9v0.9h-0.9zM83.0 136.5h0.9v0.9h-0.9zM93.6 126.1h0.9v0.9h-0.9zM90.2 121.7h0.9v0.9h-0.9zM95.7 113.5h0.9v0.9h-0.9zM87.8 133.9h0.9v0.9h-0.9zM100.7 111.6h0.9v0.9h-0.9zM87.1 121.4h0.9v0.9h-0.9zM94.2 116.3h0.9v0.9h-0.9zM78.6 114.4h0.9v0.9h-0.9zM91.7 120.4h0.9v0.9h-0.9zM82.3 130.3h0.9v0.9h-0.9zM108.7 127.6h0.9v0.9h-0.9zM91.2 121.8h0.9v0.9h-0.9zM97.2 120.8h0.9v0.9h-0.9zM87.0 124.0h0.9v0.9h-0.9zM85.7 139.0h0.9v0.9h-0.9zM85.9 113.2h0.9v0.9h-0.9zM102.0 111.4h0.9v0.9h-0.9zM90.6 142.8h0.9v0.9h-0.9zM86.9 135.9h0.9v0.9h-0.9zM86.7 119.8h0.9v0.9h-0.9zM84.6 128.2h0.9v0.9h-0.9zM94.7 124.3h0.9v0.9h-0.9zM91.1 125.4h0.9v0.9h-0.9zM95.9 116.8h0.9v0.9h-0.9zM95.5 129.8h0.9v0.9h-0.9zM93.8 131.4h0.9v0.9h-0.9zM91.4 138.5h0.9v0.9h-0.9zM99.5 113.2h0.9v0.9h-0.9zM99.0 109.8h0.9v0.9h-0.9zM98.6 121.8h0.9v0.9h-0.9zM91.6 120.1h0.9v0.9h-0.9zM94.8 106.1h0.9v0.9h-0.9zM85.9 130.4h0.9v0.9h-0.9zM93.6 137.8h0.9v0.9h-0.9zM95.2 126.0h0.9v0.9h-0.9zM94.0 118.3h0.9v0.9h-0.9zM94.5 109.2h0.9v0.9h-0.9zM82.7 112.2h0.9v0.9h-0.9zM88.3 122.4h0.9v0.9h-0.9zM86.3 121.1h0.9v0.9h-0.9zM98.8 123.1h0.9v0.9h-0.9zM98.8 102.5h0.9v0.9h-0.9zM95.1 114.6h0.9v0.9h-0.9zM101.6 104.6h0.9v0.9h-0.9zM87.9 112.3h0.9v0.9h-0.9zM91.7 132.9h0.9v0.9h-0.9zM76.3 124.3h0.9v0.9h-0.9zM96.1 115.5h0.9v0.9h-0.9zM81.3 142.3h0.9v0.9h-0.9zM86.3 111.2h0.9v0.9h-0.9zM91.1 113.6h0.9v0.9h-0.9zM86.6 152.7h0.9v0.9h-0.9zM98.6 133.6h0.9v0.9h-0.9zM100.4 125.8h0.9v0.9h-0.9zM92.7 115.3h0.9v0.9h-0.9zM85.2 141.3h0.9v0.9h-0.9zM108.9 115.5h0.9v0.9h-0.9zM91.8 121.9h0.9v0.9h-0.9zM84.0 134.8h0.9v0.9h-0.9zM91.6 129.8h0.9v0.9h-0.9zM94.9 140.1h0.9v0.9h-0.9zM82.7 113.5h0.9v0.9h-0.9zM90.6 113.6h0.9v0.9h-0.9zM81.1 116.7h0.9v0.9h-0.9zM85.1 114.1h0.9v0.9h-0.9zM94.2 119.1h0.9v0.9h-0.9zM105.8 123.2h0.9v0.9h-0.9zM78.6 123.4h0.9v0.9h-0.9zM93.5 125.1h0.9v0.9h-0.9zM86.2 141.1h0.9v0.9h-0.9zM88.7 141.8h0.9v0.9h-0.9zM84.6 132.5h0.9v0.9h-0.9zM95.5 117.8h0.9v0.9h-0.9zM96.4 110.1h0.9v0.9h-0.9zM95.7 102.3h0.9v0.9h-0.9zM95.8 134.3h0.9v0.9h-0.9zM100.2 130.0h0.9v0.9h-0.9zM96.4 128.1h0.9v0.9h-0.9zM103.5 124.7h0.9v0.9h-0.9zM94.9 125.6h0.9v0.9h-0.9zM96.5 117.7h0.9v0.9h-0.9zM94.3 111.5h0.9v0.9h-0.9zM95.9 109.5h0.9v0.9h-0.9zM92.4 134.6h0.9v0.9h-0.9zM94.3 118.0h0.9v0.9h-0.9zM90.9 152.0h0.9v0.9h-0.9zM92.4 154.3h0.9v0.9h-0.9zM89.4 136.0h0.9v0.9h-0.9zM92.6 106.9h0.9v0.9h-0.9zM92.8 115.2h0.9v0.9h-0.9zM90.7 147.5h0.9v0.9h-0.9zM93.1 122.2h0.9v0.9h-0.9zM100.1 125.7h0.9v0.9h-0.9zM91.2 100.4h0.9v0.9h-0.9zM95.5 141.7h0.9v0.9h-0.9zM93.5 149.1h0.9v0.9h-0.9zM92.1 101.7h0.9v0.9h-0.9zM95.0 108.6h0.9v0.9h-0.9zM101.8 139.8h0.9v0.9h-0.9zM79.9 138.8h0.9v0.9h-0.9zM91.0 120.1h0.9v0.9h-0.9zM101.8 115.5h0.9v0.9h-0.9zM90.7 112.9h0.9v0.9h-0.9zM99.7 118.1h0.9v0.9h-0.9zM94.8 110.1h0.9v0.9h-0.9zM90.8 139.2h0.9v0.9h-0.9zM91.0 120.4h0.9v0.9h-0.9zM91.8 99.3h0.9v0.9h-0.9zM94.2 121.3h0.9v0.9h-0.9zM96.5 123.8h0.9v0.9h-0.9zM87.4 121.3h0.9v0.9h-0.9zM100.9 106.0h0.9v0.9h-0.9zM89.3 117.1h0.9v0.9h-0.9zM90.0 144.6h0.9v0.9h-0.9zM92.8 122.3h0.9v0.9h-0.9zM97.7 115.3h0.9v0.9h-0.9zM95.7 149.0h0.9v0.9h-0.9zM92.1 107.4h0.9v0.9h-0.9zM99.9 126.9h0.9v0.9h-0.9z" fill="#808080"/>
<path d="M101.4 83.2h0.8v0.8h-0.8zM83.1 71.9h0.8v0.8h-0.8zM83.2 86.8h0.8v0.8h-0.8zM80.2 82.9h0.8v0.8h-0.8zM95.3 87.3h0.8v0.8h-0.8zM82.2 75.1h0.8v0.8h-0.8zM92.2 83.6h0.8v0.8h-0.8zM96.2 88.5h0.8v0.8h-0.8zM82.7 73.9h0.8v0.8h-0.8zM82.9 88.2h0.8v0.8h-0.8zM88.6 81.3h0.8v0.8h-0.8zM80.4 83.9h0.8v0.8h-0.8zM78.9 82.2h0.8v0.8h-0.8zM95.4 87.9h0.8v0.8h-0.8zM78.4 76.1h0.8v0.8h-0.8zM80.2 78.3h0.8v0.8h-0.8zM87.9 80.2h0.8v0.8h-0.8zM92.6 75.2h0.8v0.8h-0.8zM82.9 78.7h0.8v0.8h-0.8zM80.0 74.6h0.8v0.8h-0.8zM86.8 81.2h0.8v0.8h-0.8zM82.2 70.4h0.8v0.8h-0.8zM102.0 78.1h0.8v0.8h-0.8zM86.3 73.9h0.8v0.8h-0.8zM87.8 81.1h0.8v0.8h-0.8zM86.8 89.8h0.8v0.8h-0.8zM90.2 69.2h0.8v0.8h-0.8zM101.4 74.2h0.8v0.8h-0.8zM86.7 89.2h0.8v0.8h-0.8zM90.1 67.0h0.8v0.8h-0.8zM95.4 77.3h0.8v0.8h-0.8zM94.3 73.8h0.8v0.8h-0.8zM79.3 76.0h0.8v0.8h-0.8zM84.5 85.0h0.8v0.8h-0.8zM93.0 67.3h0.8v0.8h-0.8zM97.2 69.1h0.8v0.8h-0.8zM99.1 77.6h0.8v0.8h-0.8zM100.0 85.6h0.8v0.8h-0.8zM91.3 73.1h0.8v0.8h-0.8zM88.6 75.2h0.8v0.8h-0.8zM98.0 72.2h0.8v0.8h-0.8zM85.9 81.1h0.8v0.8h-0.8zM88.5 87.4h0.8v0.8h-0.8zM90.3 76.8h0.8v0.8h-0.8zM78.5 82.2h0.8v0.8h-0.8zM87.2 86.0h0.8v0.8h-0.8zM90.1 83.0h0.8v0.8h-0.8zM102.3 77.9h0.8v0.8h-0.8zM89.6 83.4h0.8v0.8h-0.8zM78.7 76.6h0.8v0.8h-0.8zM77.8 94.9h0.8v0.8h-0.8zM107.1 73.9h0.8v0.8h-0.8zM81.5 62.1h0.8v0.8h-0.8zM72.3 68.3h0.8v0.8h-0.8zM78.2 95.8h0.8v0.8h-0.8zM77.3 64.3h0.8v0.8h-0.8zM94.2 61.4h0.8v0.8h-0.8zM112.1 81.2h0.8v0.8h-0.8zM88.5 61.6h0.8v0.8h-0.8zM92.4 96.8h0.8v0.8h-0.8zM101.2 98.6h0.8v0.8h-0.8zM110.3 71.3h0.8v0.8h-0.8zM74.7 93.7h0.8v0.8h-0.8zM99.8 59.0h0.8v0.8h-0.8zM81.1 99.0h0.8v0.8h-0.8zM102.5 64.0h0.8v0.8h-0.8zM93.0 62.0h0.8v0.8h-0.8zM70.2 87.1h0.8v0.8h-0.8zM107.2 89.1h0.8v0.8h-0.8zM106.3 91.0h0.8v0.8h-0.8zM94.6 99.8h0.8v0.8h-0.8zM92.5 58.6h0.8v0.8h-0.8zM110.9 85.8h0.8v0.8h-0.8zM88.2 57.2h0.8v0.8h-0.8zM76.6 62.2h0.8v0.8h-0.8zM68.7 83.0h0.8v0.8h-0.8zM72.3 77.2h0.8v0.8h-0.8zM105.9 67.8h0.8v0.8h-0.8zM71.3 79.7h0.8v0.8h-0.8zM74.8 92.9h0.8v0.8h-0.8zM103.3 92.7h0.8v0.8h-0.8zM69.3 70.8h0.8v0.8h-0.8zM76.9 95.3h0.8v0.8h-0.8zM83.0 60.7h0.8v0.8h-0.8zM106.4 93.1h0.8v0.8h-0.8zM76.0 96.7h0.8v0.8h-0.8zM80.7 94.4h0.8v0.8h-0.8zM90.6 97.5h0.8v0.8h-0.8zM99.0 59.9h0.8v0.8h-0.8zM107.9 90.5h0.8v0.8h-0.8zM80.5 95.5h0.8v0.8h-0.8zM74.5 93.6h0.8v0.8h-0.8zM94.1 101.6h0.8v0.8h-0.8zM77.8 96.7h0.8v0.8h-0.8zM107.4 79.9h0.8v0.8h-0.8zM71.1 81.5h0.8v0.8h-0.8zM97.9 98.0h0.8v0.8h-0.8zM98.3 64.3h0.8v0.8h-0.8zM87.1 57.7h0.8v0.8h-0.8zM73.1 84.4h0.8v0.8h-0.8zM109.5 77.5h0.8v0.8h-0.8zM76.1 63.7h0.8v0.8h-0.8zM107.0 65.5h0.8v0.8h-0.8zM96.2 62.1h0.8v0.8h-0.8zM70.8 81.0h0.8v0.8h-0.8zM73.6 87.5h0.8v0.8h-0.8zM72.3 78.5h0.8v0.8h-0.8zM88.4 61.8h0.8v0.8h-0.8zM80.6 61.2h0.8v0.8h-0.8zM78.9 63.4h0.8v0.8h-0.8zM69.9 77.0h0.8v0.8h-0.8zM110.5 71.2h0.8v0.8h-0.8zM68.6 85.6h0.8v0.8h-0.8zM93.6 98.5h0.8v0.8h-0.8zM73.7 67.4h0.8v0.8h-0.8zM86.3 96.7h0.8v0.8h-0.8zM143.2 123.9h0.8v0.8h-0.8zM133.5 130.3h0.8v0.8h-0.8zM183.0 153.8h0.8v0.8h-0.8zM191.8 145.1h0.8v0.8h-0.8zM188.9 143.5h0.8v0.8h-0.8zM154.3 138.1h0.8v0.8h-0.8zM130.0 156.8h0.8v0.8h-0.8zM134.7 148.7h0.8v0.8h-0.8zM124.2 161.9h0.8v0.8h-0.8zM138.0 158.3h0.8v0.8h-0.8zM125.2 139.9h0.8v0.8h-0.8zM186.6 165.4h0.8v0.8h-0.8zM142.9 132.4h0.8v0.8h-0.8zM175.0 156.0h0.8v0.8h-0.8zM136.5 134.8h0.8v0.8h-0.8zM136.9 140.4h0.8v0.8h-0.8zM134.3 134.3h0.8v0.8h-0.8zM158.2 149.2h0.8v0.8h-0.8zM186.6 139.7h0.8v0.8h-0.8zM128.7 141.0h0.8v0.8h-0.8zM143.2 114.0h0.8v0.8h-0.8zM150.4 156.8h0.8v0.8h-0.8zM147.5 116.7h0.8v0.8h-0.8zM170.4 121.3h0.8v0.8h-0.8zM135.5 160.5h0.8v0.8h-0.8z" fill="#909090"/>
<path d="M76.0 83.7h0.9v0.9h-0.9zM98.8 64.9h0.9v0.9h-0.9zM102.3 71.1h0.9v0.9h-0.9zM89.9 93.5h0.9v0.9h-0.9zM92.5 96.4h0.9v0.9h-0.9zM85.9 93.5h0.9v0.9h-0.9zM77.5 87.9h0.9v0.9h-0.9zM86.0 63.2h0.9v0.9h-0.9zM94.6 93.9h0.9v0.9h-0.9zM101.5 68.6h0.9v0.9h-0.9zM88.3 63.6h0.9v0.9h-0.9zM93.2 93.4h0.9v0.9h-0.9zM78.1 82.4h0.9v0.9h-0.9zM75.4 83.1h0.9v0.9h-0.9zM101.9 71.8h0.9v0.9h-0.9zM99.4 67.0h0.9v0.9h-0.9zM79.6 68.7h0.9v0.9h-0.9zM90.0 95.0h0.9v0.9h-0.9zM103.4 69.1h0.9v0.9h-0.9zM98.9 66.8h0.9v0.9h-0.9zM87.8 97.1h0.9v0.9h-0.9zM76.4 72.0h0.9v0.9h-0.9zM82.2 91.4h0.9v0.9h-0.9zM90.9 65.0h0.9v0.9h-0.9zM88.5 96.1h0.9v0.9h-0.9zM92.7 63.4h0.9v0.9h-0.9zM93.3 96.6h0.9v0.9h-0.9zM77.1 90.2h0.9v0.9h-0.9zM78.6 70.2h0.9v0.9h-0.9zM97.6 64.6h0.9v0.9h-0.9zM77.4 81.6h0.9v0.9h-0.9zM79.0 68.3h0.9v0.9h-0.9zM88.1 65.0h0.9v0.9h-0.9zM81.0 91.5h0.9v0.9h-0.9zM76.8 71.8h0.9v0.9h-0.9zM82.5 92.0h0.9v0.9h-0.9zM100.1 67.7h0.9v0.9h-0.9zM92.1 68.1h0.9v0.9h-0.9zM105.8 76.6h0.9v0.9h-0.9zM77.6 91.0h0.9v0.9h-0.9zM100.4 86.9h0.9v0.9h-0.9zM89.7 64.8h0.9v0.9h-0.9zM90.1 96.9h0.9v0.9h-0.9zM105.1 87.1h0.9v0.9h-0.9zM94.4 95.9h0.9v0.9h-0.9zM79.1 84.1h0.9v0.9h-0.9zM100.9 66.6h0.9v0.9h-0.9zM79.2 89.5h0.9v0.9h-0.9zM96.0 95.7h0.9v0.9h-0.9zM73.5 75.4h0.9v0.9h-0.9zM76.8 78.0h0.9v0.9h-0.9zM102.5 67.8h0.9v0.9h-0.9zM80.8 65.8h0.9v0.9h-0.9zM96.4 65.1h0.9v0.9h-0.9zM101.7 72.8h0.9v0.9h-0.9zM76.4 72.6h0.9v0.9h-0.9zM95.4 91.1h0.9v0.9h-0.9zM79.1 68.7h0.9v0.9h-0.9zM78.3 89.6h0.9v0.9h-0.9zM92.9 95.8h0.9v0.9h-0.9zM84.3 67.8h0.9v0.9h-0.9zM100.5 91.6h0.9v0.9h-0.9zM81.1 65.6h0.9v0.9h-0.9zM101.3 89.6h0.9v0.9h-0.9zM99.7 93.5h0.9v0.9h-0.9zM106.9 79.8h0.9v0.9h-0.9zM99.3 93.1h0.9v0.9h-0.9zM81.4 66.3h0.9v0.9h-0.9zM101.7 69.2h0.9v0.9h-0.9zM82.1 67.0h0.9v0.9h-0.9zM88.7 65.2h0.9v0.9h-0.9zM100.0 69.4h0.9v0.9h-0.9zM102.6 86.4h0.9v0.9h-0.9zM80.5 86.7h0.9v0.9h-0.9zM92.4 65.1h0.9v0.9h-0.9zM102.8 70.3h0.9v0.9h-0.9zM103.9 85.4h0.9v0.9h-0.9zM83.3 94.9h0.9v0.9h-0.9zM78.6 87.0h0.9v0.9h-0.9zM104.9 83.3h0.9v0.9h-0.9zM82.0 68.0h0.9v0.9h-0.9zM79.5 89.7h0.9v0.9h-0.9zM77.6 71.4h0.9v0.9h-0.9zM91.2 94.6h0.9v0.9h-0.9zM85.3 64.2h0.9v0.9h-0.9zM82.0 91.9h0.9v0.9h-0.9zM84.3 91.9h0.9v0.9h-0.9zM78.7 89.6h0.9v0.9h-0.9zM91.9 63.4h0.9v0.9h-0.9zM99.2 92.4h0.9v0.9h-0.9zM81.6 65.5h0.9v0.9h-0.9zM79.8 71.0h0.9v0.9h-0.9zM102.5 88.9h0.9v0.9h-0.9zM97.9 92.5h0.9v0.9h-0.9zM103.6 82.8h0.9v0.9h-0.9zM103.7 80.5h0.9v0.9h-0.9zM103.0 70.6h0.9v0.9h-0.9zM97.9 65.6h0.9v0.9h-0.9zM79.4 89.1h0.9v0.9h-0.9zM94.0 65.4h0.9v0.9h-0.9zM91.8 95.3h0.9v0.9h-0.9zM96.4 92.7h0.9v0.9h-0.9zM103.6 78.2h0.9v0.9h-0.9zM100.4 93.1h0.9v0.9h-0.9zM76.2 84.9h0.9v0.9h-0.9zM87.9 63.9h0.9v0.9h-0.9zM86.7 94.5h0.9v0.9h-0.9zM80.3 66.3h0.9v0.9h-0.9zM90.6 65.5h0.9v0.9h-0.9zM90.4 63.3h0.9v0.9h-0.9zM74.5 76.4h0.9v0.9h-0.9zM83.2 64.6h0.9v0.9h-0.9zM74.9 71.5h0.9v0.9h-0.9zM77.2 79.5h0.9v0.9h-0.9zM77.7 89.5h0.9v0.9h-0.9zM82.7 90.6h0.9v0.9h-0.9zM87.4 69.4h0.9v0.9h-0.9zM92.3 64.9h0.9v0.9h-0.9zM87.7 65.2h0.9v0.9h-0.9zM101.7 89.8h0.9v0.9h-0.9zM93.6 96.0h0.9v0.9h-0.9zM83.3 70.3h0.9v0.9h-0.9zM87.1 66.8h0.9v0.9h-0.9zM85.5 95.0h0.9v0.9h-0.9zM96.7 71.5h0.9v0.9h-0.9zM91.3 63.5h0.9v0.9h-0.9zM77.8 80.7h0.9v0.9h-0.9zM104.4 87.1h0.9v0.9h-0.9zM99.4 88.3h0.9v0.9h-0.9zM89.9 67.5h0.9v0.9h-0.9zM102.6 76.9h0.9v0.9h-0.9zM87.4 92.0h0.9v0.9h-0.9zM104.0 87.1h0.9v0.9h-0.9zM93.9 91.8h0.9v0.9h-0.9zM76.0 75.7h0.9v0.9h-0.9zM105.1 83.1h0.9v0.9h-0.9zM81.9 93.5h0.9v0.9h-0.9zM84.2 94.2h0.9v0.9h-0.9zM90.1 62.4h0.9v0.9h-0.9zM78.6 68.5h0.9v0.9h-0.9zM78.6 68.3h0.9v0.9h-0.9zM90.9 96.6h0.9v0.9h-0.9zM102.5 69.3h0.9v0.9h-0.9zM105.4 76.7h0.9v0.9h-0.9zM79.1 69.6h0.9v0.9h-0.9zM79.4 91.1h0.9v0.9h-0.9zM81.8 67.4h0.9v0.9h-0.9zM91.9 91.2h0.9v0.9h-0.9zM76.7 69.2h0.9v0.9h-0.9zM74.9 85.6h0.9v0.9h-0.9z" fill="#909090"/>
<path d="M99.2 83.2h0.8v0.8h-0.8zM82.6 75.5h0.8v0.8h-0.8zM101.7 83.1h0.8v0.8h-0.8zM85.7 91.0h0.8v0.8h-0.8zM98.0 85.7h0.8v0.8h-0.8zM86.3 71.4h0.8v0.8h-0.8zM77.6 82.3h0.8v0.8h-0.8zM90.7 75.7h0.8v0.8h-0.8zM96.3 85.5h0.8v0.8h-0.8zM78.9 73.8h0.8v0.8h-0.8zM100.4 84.1h0.8v0.8h-0.8zM82.7 90.3h0.8v0.8h-0.8zM94.9 78.1h0.8v0.8h-0.8zM79.9 80.5h0.8v0.8h-0.8zM83.2 87.0h0.8v0.8h-0.8zM93.2 80.8h0.8v0.8h-0.8zM90.2 79.6h0.8v0.8h-0.8zM82.5 87.1h0.8v0.8h-0.8zM82.7 80.4h0.8v0.8h-0.8zM96.2 84.3h0.8v0.8h-0.8zM97.2 70.9h0.8v0.8h-0.8zM77.5 78.0h0.8v0.8h-0.8zM87.0 85.2h0.8v0.8h-0.8zM92.3 70.4h0.8v0.8h-0.8zM94.0 68.7h0.8v0.8h-0.8zM97.7 77.2h0.8v0.8h-0.8zM97.2 85.1h0.8v0.8h-0.8zM90.0 70.1h0.8v0.8h-0.8zM89.1 73.9h0.8v0.8h-0.8zM100.6 78.1h0.8v0.8h-0.8zM99.1 86.6h0.8v0.8h-0.8zM78.7 84.6h0.8v0.8h-0.8zM90.6 89.9h0.8v0.8h-0.8zM98.7 80.6h0.8v0.8h-0.8zM81.0 71.9h0.8v0.8h-0.8zM92.3 77.3h0.8v0.8h-0.8zM85.4 75.7h0.8v0.8h-0.8zM99.1 70.2h0.8v0.8h-0.8zM101.0 73.5h0.8v0.8h-0.8zM88.5 84.0h0.8v0.8h-0.8zM99.8 75.4h0.8v0.8h-0.8zM88.3 80.2h0.8v0.8h-0.8zM99.6 88.0h0.8v0.8h-0.8zM94.2 78.7h0.8v0.8h-0.8zM88.3 92.4h0.8v0.8h-0.8zM96.4 70.4h0.8v0.8h-0.8zM87.9 91.5h0.8v0.8h-0.8zM85.2 75.5h0.8v0.8h-0.8zM95.8 72.5h0.8v0.8h-0.8zM98.5 79.2h0.8v0.8h-0.8zM90.3 84.0h0.8v0.8h-0.8zM89.6 85.3h0.8v0.8h-0.8zM83.4 72.3h0.8v0.8h-0.8zM87.7 88.8h0.8v0.8h-0.8zM88.5 91.6h0.8v0.8h-0.8zM87.8 85.4h0.8v0.8h-0.8zM89.3 74.4h0.8v0.8h-0.8zM100.3 84.5h0.8v0.8h-0.8zM87.6 88.4h0.8v0.8h-0.8zM89.9 80.3h0.8v0.8h-0.8zM88.9 81.8h0.8v0.8h-0.8zM91.1 85.2h0.8v0.8h-0.8zM100.0 86.2h0.8v0.8h-0.8zM81.8 74.4h0.8v0.8h-0.8zM85.5 69.1h0.8v0.8h-0.8zM83.6 78.2h0.8v0.8h-0.8zM78.3 81.5h0.8v0.8h-0.8zM91.1 91.3h0.8v0.8h-0.8zM87.7 76.5h0.8v0.8h-0.8zM98.7 77.7h0.8v0.8h-0.8zM80.4 88.0h0.8v0.8h-0.8zM77.3 77.5h0.8v0.8h-0.8zM81.6 72.9h0.8v0.8h-0.8zM98.4 72.0h0.8v0.8h-0.8zM94.9 85.7h0.8v0.8h-0.8zM95.5 84.9h0.8v0.8h-0.8zM95.8 75.2h0.8v0.8h-0.8zM101.3 85.6h0.8v0.8h-0.8zM93.6 73.2h0.8v0.8h-0.8zM90.2 68.6h0.8v0.8h-0.8zM96.3 86.2h0.8v0.8h-0.8zM85.7 82.9h0.8v0.8h-0.8zM81.6 76.6h0.8v0.8h-0.8zM98.9 79.3h0.8v0.8h-0.8zM83.8 77.5h0.8v0.8h-0.8zM87.8 82.9h0.8v0.8h-0.8zM82.0 88.5h0.8v0.8h-0.8zM81.6 87.4h0.8v0.8h-0.8zM80.0 79.6h0.8v0.8h-0.8zM84.7 72.4h0.8v0.8h-0.8zM98.0 68.9h0.8v0.8h-0.8zM91.3 73.2h0.8v0.8h-0.8zM85.6 73.5h0.8v0.8h-0.8zM86.0 92.1h0.8v0.8h-0.8zM88.7 87.0h0.8v0.8h-0.8zM83.7 80.5h0.8v0.8h-0.8zM89.5 90.6h0.8v0.8h-0.8zM90.4 82.0h0.8v0.8h-0.8zM97.2 78.1h0.8v0.8h-0.8zM90.7 85.9h0.8v0.8h-0.8zM95.0 86.3h0.8v0.8h-0.8zM79.4 83.1h0.8v0.8h-0.8zM88.6 66.0h0.8v0.8h-0.8zM88.1 67.2h0.8v0.8h-0.8zM99.4 85.5h0.8v0.8h-0.8zM81.2 88.9h0.8v0.8h-0.8zM93.2 78.3h0.8v0.8h-0.8zM97.9 77.1h0.8v0.8h-0.8zM100.2 73.1h0.8v0.8h-0.8zM86.4 90.2h0.8v0.8h-0.8zM84.1 74.6h0.8v0.8h-0.8zM95.2 82.4h0.8v0.8h-0.8zM80.3 80.7h0.8v0.8h-0.8zM91.3 72.2h0.8v0.8h-0.8zM89.4 88.5h0.8v0.8h-0.8zM91.3 82.7h0.8v0.8h-0.8zM99.4 79.0h0.8v0.8h-0.8zM108.4 79.1h0.8v0.8h-0.8zM71.8 79.0h0.8v0.8h-0.8zM67.6 81.4h0.8v0.8h-0.8zM74.3 90.4h0.8v0.8h-0.8zM79.2 97.6h0.8v0.8h-0.8zM73.4 74.3h0.8v0.8h-0.8zM77.4 95.9h0.8v0.8h-0.8zM73.9 65.0h0.8v0.8h-0.8zM97.8 63.2h0.8v0.8h-0.8zM109.3 84.4h0.8v0.8h-0.8zM75.5 96.9h0.8v0.8h-0.8zM81.1 96.8h0.8v0.8h-0.8zM75.4 64.7h0.8v0.8h-0.8zM74.7 68.2h0.8v0.8h-0.8zM104.3 61.9h0.8v0.8h-0.8zM74.2 87.2h0.8v0.8h-0.8zM107.1 68.3h0.8v0.8h-0.8zM104.7 65.1h0.8v0.8h-0.8zM111.3 71.5h0.8v0.8h-0.8zM68.8 85.5h0.8v0.8h-0.8zM88.8 99.4h0.8v0.8h-0.8zM76.3 64.8h0.8v0.8h-0.8zM94.6 98.4h0.8v0.8h-0.8zM97.2 59.8h0.8v0.8h-0.8zM73.7 72.7h0.8v0.8h-0.8zM80.3 94.3h0.8v0.8h-0.8zM92.4 60.7h0.8v0.8h-0.8zM110.1 73.8h0.8v0.8h-0.8zM72.7 67.5h0.8v0.8h-0.8zM111.8 73.0h0.8v0.8h-0.8zM106.4 90.8h0.8v0.8h-0.8zM109.2 89.2h0.8v0.8h-0.8zM80.7 64.4h0.8v0.8h-0.8zM93.3 98.6h0.8v0.8h-0.8zM97.2 99.1h0.8v0.8h-0.8zM109.9 70.7h0.8v0.8h-0.8zM102.2 92.0h0.8v0.8h-0.8zM103.6 94.4h0.8v0.8h-0.8zM105.2 93.5h0.8v0.8h-0.8zM76.7 92.8h0.8v0.8h-0.8zM71.8 73.8h0.8v0.8h-0.8zM107.3 66.1h0.8v0.8h-0.8zM112.6 77.8h0.8v0.8h-0.8zM94.4 97.9h0.8v0.8h-0.8zM87.4 100.8h0.8v0.8h-0.8zM73.1 83.0h0.8v0.8h-0.8zM111.2 76.7h0.8v0.8h-0.8zM103.5 59.6h0.8v0.8h-0.8zM98.2 103.6h0.8v0.8h-0.8zM98.8 59.3h0.8v0.8h-0.8zM73.2 64.4h0.8v0.8h-0.8zM77.3 55.7h0.8v0.8h-0.8zM65.3 68.5h0.8v0.8h-0.8zM98.2 106.4h0.8v0.8h-0.8zM72.0 65.9h0.8v0.8h-0.8zM113.1 63.9h0.8v0.8h-0.8zM71.2 96.7h0.8v0.8h-0.8zM111.5 70.9h0.8v0.8h-0.8zM93.8 102.4h0.8v0.8h-0.8zM66.6 85.3h0.8v0.8h-0.8zM97.8 54.0h0.8v0.8h-0.8zM98.5 58.9h0.8v0.8h-0.8zM77.0 97.8h0.8v0.8h-0.8zM79.0 104.6h0.8v0.8h-0.8zM79.2 103.4h0.8v0.8h-0.8zM64.8 83.5h0.8v0.8h-0.8zM103.1 99.4h0.8v0.8h-0.8zM97.5 101.3h0.8v0.8h-0.8zM89.6 101.7h0.8v0.8h-0.8zM98.9 99.2h0.8v0.8h-0.8zM110.3 97.3h0.8v0.8h-0.8zM95.6 100.6h0.8v0.8h-0.8zM65.9 94.4h0.8v0.8h-0.8zM113.9 71.4h0.8v0.8h-0.8zM103.2 54.7h0.8v0.8h-0.8zM111.3 91.2h0.8v0.8h-0.8zM90.4 152.9h0.8v0.8h-0.8zM90.2 154.9h0.8v0.8h-0.8zM91.8 156.8h0.8v0.8h-0.8zM96.0 144.3h0.8v0.8h-0.8zM87.0 141.3h0.8v0.8h-0.8zM92.2 151.1h0.8v0.8h-0.8zM90.6 153.7h0.8v0.8h-0.8zM94.7 150.3h0.8v0.8h-0.8zM87.0 138.1h0.8v0.8h-0.8zM86.2 141.2h0.8v0.8h-0.8zM89.9 153.3h0.8v0.8h-0.8zM93.4 156.5h0.8v0.8h-0.8zM97.2 140.3h0.8v0.8h-0.8zM84.1 145.7h0.8v0.8h-0.8zM94.4 153.4h0.8v0.8h-0.8zM87.7 151.1h0.8v0.8h-0.8zM88.2 151.0h0.8v0.8h-0.8zM93.5 144.5h0.8v0.8h-0.8zM95.4 144.5h0.8v0.8h-0.8zM88.4 154.6h0.8v0.8h-0.8zM104.2 157.1h0.8v0.8h-0.8zM80.9 156.1h0.8v0.8h-0.8zM97.3 150.3h0.8v0.8h-0.8zM88.2 142.7h0.8v0.8h-0.8zM86.7 155.2h0.8v0.8h-0.8zM108.9 106.0h0.8v0.8h-0.8zM96.8 121.5h0.8v0.8h-0.8zM106.3 106.5h0.8v0.8h-0.8zM121.6 118.2h0.8v0.8h-0.8zM119.8 124.6h0.8v0.8h-0.8zM112.4 125.9h0.8v0.8h-0.8zM103.0 107.2h0.8v0.8h-0.8zM108.2 144.8h0.8v0.8h-0.8zM129.3 123.8h0.8v0.8h-0.8zM95.4 109.7h0.8v0.8h-0.8zM106.9 92.5h0.8v0.8h-0.8zM96.3 112.0h0.8v0.8h-0.8zM102.8 142.0h0.8v0.8h-0.8zM97.1 108.5h0.8v0.8h-0.8zM113.5 112.3h0.8v0.8h-0.8zM102.8 127.1h0.8v0.8h-0.8zM110.4 115.4h0.8v0.8h-0.8zM123.4 104.9h0.8v0.8h-0.8zM110.2 142.9h0.8v0.8h-0.8zM118.5 122.0h0.8v0.8h-0.8zM110.9 114.2h0.8v0.8h-0.8zM95.0 110.0h0.8v0.8h-0.8zM97.2 98.2h0.8v0.8h-0.8zM104.9 101.7h0.8v0.8h-0.8zM97.3 103.0h0.8v0.8h-0.8zM103.5 104.6h0.8v0.8h-0.8zM120.6 120.2h0.8v0.8h-0.8zM95.3 118.9h0.8v0.8h-0.8zM99.3 130.0h0.8v0.8h-0.8zM106.2 93.9h0.8v0.8h-0.8zM96.3 107.9h0.8v0.8h-0.8zM99.2 132.5h0.8v0.8h-0.8zM104.6 107.2h0.8v0.8h-0.8zM139.5 112.7h0.8v0.8h-0.8zM107.3 124.2h0.8v0.8h-0.8zM112.5 128.8h0.8v0.8h-0.8zM136.7 81.0h0.8v0.8h-0.8zM110.3 125.5h0.8v0.8h-0.8zM97.7 98.4h0.8v0.8h-0.8zM117.7 128.2h0.8v0.8h-0.8zM110.6 92.8h0.8v0.8h-0.8zM114.3 125.2h0.8v0.8h-0.8zM96.3 111.5h0.8v0.8h-0.8zM99.0 138.0h0.8v0.8h-0.8zM103.8 154.4h0.8v0.8h-0.8zM98.8 103.4h0.8v0.8h-0.8zM98.0 129.0h0.8v0.8h-0.8zM119.2 136.6h0.8v0.8h-0.8zM109.0 118.3h0.8v0.8h-0.8zM106.4 104.9h0.8v0.8h-0.8zM107.6 109.1h0.8v0.8h-0.8zM101.6 137.2h0.8v0.8h-0.8zM96.4 145.5h0.8v0.8h-0.8zM97.3 107.5h0.8v0.8h-0.8zM95.6 119.3h0.8v0.8h-0.8zM107.3 104.8h0.8v0.8h-0.8zM98.9 130.0h0.8v0.8h-0.8zM99.9 141.9h0.8v0.8h-0.8zM108.0 113.9h0.8v0.8h-0.8zM101.9 152.3h0.8v0.8h-0.8zM95.2 119.6h0.8v0.8h-0.8zM112.1 103.6h0.8v0.8h-0.8zM110.2 141.1h0.8v0.8h-0.8zM120.7 126.3h0.8v0.8h-0.8zM119.4 88.7h0.8v0.8h-0.8zM112.8 107.8h0.8v0.8h-0.8zM102.1 130.8h0.8v0.8h-0.8zM122.7 108.0h0.8v0.8h-0.8zM108.1 137.8h0.8v0.8h-0.8zM117.6 95.6h0.8v0.8h-0.8zM101.9 118.5h0.8v0.8h-0.8zM112.9 125.1h0.8v0.8h-0.8zM106.4 122.0h0.8v0.8h-0.8zM99.5 103.7h0.8v0.8h-0.8zM110.1 105.5h0.8v0.8h-0.8zM104.4 117.0h0.8v0.8h-0.8zM104.0 107.9h0.8v0.8h-0.8zM115.9 119.3h0.8v0.8h-0.8zM110.8 118.2h0.8v0.8h-0.8zM107.8 121.0h0.8v0.8h-0.8zM103.0 108.9h0.8v0.8h-0.8zM118.4 131.1h0.8v0.8h-0.8zM110.9 120.4h0.8v0.8h-0.8zM98.9 101.0h0.8v0.8h-0.8zM99.6 115.9h0.8v0.8h-0.8zM113.8 101.8h0.8v0.8h-0.8zM104.2 113.5h0.8v0.8h-0.8zM109.2 102.0h0.8v0.8h-0.8zM130.0 124.5h0.8v0.8h-0.8zM148.1 125.5h0.8v0.8h-0.8zM149.3 116.9h0.8v0.8h-0.8zM152.6 131.0h0.8v0.8h-0.8zM164.1 105.7h0.8v0.8h-0.8zM127.0 126.5h0.8v0.8h-0.8zM157.6 127.5h0.8v0.8h-0.8zM158.3 118.0h0.8v0.8h-0.8zM131.1 119.6h0.8v0.8h-0.8zM145.0 108.7h0.8v0.8h-0.8zM131.6 122.7h0.8v0.8h-0.8zM132.0 122.5h0.8v0.8h-0.8zM164.8 130.3h0.8v0.8h-0.8zM147.3 118.8h0.8v0.8h-0.8zM131.4 129.0h0.8v0.8h-0.8zM160.0 121.2h0.8v0.8h-0.8zM133.8 111.0h0.8v0.8h-0.8zM151.4 132.7h0.8v0.8h-0.8zM146.4 119.8h0.8v0.8h-0.8zM169.4 121.7h0.8v0.8h-0.8zM138.6 127.7h0.8v0.8h-0.8zM130.5 115.5h0.8v0.8h-0.8zM117.6 126.3h0.8v0.8h-0.8zM142.3 117.5h0.8v0.8h-0.8zM137.2 110.5h0.8v0.8h-0.8zM154.4 125.9h0.8v0.8h-0.8zM157.4 120.8h0.8v0.8h-0.8zM168.7 121.2h0.8v0.8h-0.8zM142.2 126.9h0.8v0.8h-0.8zM154.4 125.3h0.8v0.8h-0.8zM145.8 118.1h0.8v0.8h-0.8zM138.5 138.9h0.8v0.8h-0.8zM135.2 118.6h0.8v0.8h-0.8zM146.8 129.3h0.8v0.8h-0.8zM127.2 114.8h0.8v0.8h-0.8zM159.0 126.0h0.8v0.8h-0.8zM143.0 120.7h0.8v0.8h-0.8zM145.8 114.5h0.8v0.8h-0.8zM140.4 112.7h0.8v0.8h-0.8zM150.1 122.9h0.8v0.8h-0.8zM137.5 130.1h0.8v0.8h-0.8zM127.7 124.4h0.8v0.8h-0.8zM144.5 115.5h0.8v0.8h-0.8zM150.3 118.3h0.8v0.8h-0.8zM143.9 131.8h0.8v0.8h-0.8zM151.3 121.2h0.8v0.8h-0.8zM137.9 128.7h0.8v0.8h-0.8zM146.1 128.5h0.8v0.8h-0.8zM143.4 115.3h0.8v0.8h-0.8zM134.5 122.2h0.8v0.8h-0.8zM138.4 115.4h0.8v0.8h-0.8zM139.8 123.9h0.8v0.8h-0.8zM135.6 127.5h0.8v0.8h-0.8zM191.7 127.3h0.8v0.8h-0.8zM170.7 132.3h0.8v0.8h-0.8zM133.3 126.6h0.8v0.8h-0.8zM147.3 135.2h0.8v0.8h-0.8zM182.7 127.1h0.8v0.8h-0.8zM144.5 137.5h0.8v0.8h-0.8zM183.6 166.6h0.8v0.8h-0.8zM144.1 145.5h0.8v0.8h-0.8zM161.1 165.4h0.8v0.8h-0.8zM136.6 131.9h0.8v0.8h-0.8zM125.3 139.8h0.8v0.8h-0.8zM140.9 116.3h0.8v0.8h-0.8zM176.4 137.8h0.8v0.8h-0.8zM151.5 113.4h0.8v0.8h-0.8zM127.8 115.4h0.8v0.8h-0.8zM183.4 146.9h0.8v0.8h-0.8zM155.8 162.8h0.8v0.8h-0.8zM146.1 119.7h0.8v0.8h-0.8zM131.6 134.2h0.8v0.8h-0.8zM141.1 126.9h0.8v0.8h-0.8zM132.2 154.5h0.8v0.8h-0.8zM139.7 155.4h0.8v0.8h-0.8zM149.6 165.9h0.8v0.8h-0.8zM168.8 132.4h0.8v0.8h-0.8zM152.7 156.2h0.8v0.8h-0.8zM184.1 137.4h0.8v0.8h-0.8zM190.8 149.4h0.8v0.8h-0.8zM148.4 143.9h0.8v0.8h-0.8zM131.5 113.0h0.8v0.8h-0.8zM127.9 128.3h0.8v0.8h-0.8zM158.9 134.7h0.8v0.8h-0.8zM178.0 114.2h0.8v0.8h-0.8zM155.2 123.2h0.8v0.8h-0.8zM166.7 133.5h0.8v0.8h-0.8z" fill="#a0a0a0"/>
<path d="M76.4 87.0h0.9v0.9h-0.9zM78.8 69.1h0.9v0.9h-0.9zM103.0 88.8h0.9v0.9h-0.9zM92.8 63.4h0.9v0.9h-0.9zM94.8 95.1h0.9v0.9h-0.9zM76.1 70.1h0.9v0.9h-0.9zM79.3 68.7h0.9v0.9h-0.9zM87.4 67.5h0.9v0.9h-0.9zM104.3 88.2h0.9v0.9h-0.9zM102.5 71.3h0.9v0.9h-0.9zM106.0 84.8h0.9v0.9h-0.9zM96.9 70.2h0.9v0.9h-0.9zM89.5 62.5h0.9v0.9h-0.9zM107.1 80.0h0.9v0.9h-0.9zM102.2 88.8h0.9v0.9h-0.9zM96.6 93.5h0.9v0.9h-0.9zM98.9 66.5h0.9v0.9h-0.9zM95.6 65.3h0.9v0.9h-0.9zM83.2 65.3h0.9v0.9h-0.9zM94.6 95.6h0.9v0.9h-0.9zM97.5 93.4h0.9v0.9h-0.9zM83.1 67.8h0.9v0.9h-0.9zM105.8 84.5h0.9v0.9h-0.9zM75.8 81.7h0.9v0.9h-0.9zM104.5 77.2h0.9v0.9h-0.9zM105.0 71.6h0.9v0.9h-0.9zM94.2 96.9h0.9v0.9h-0.9zM80.0 85.0h0.9v0.9h-0.9zM105.3 75.2h0.9v0.9h-0.9zM89.3 97.4h0.9v0.9h-0.9zM78.4 72.2h0.9v0.9h-0.9zM78.8 89.9h0.9v0.9h-0.9zM76.0 84.1h0.9v0.9h-0.9zM99.7 93.6h0.9v0.9h-0.9zM76.9 84.8h0.9v0.9h-0.9zM83.4 92.6h0.9v0.9h-0.9zM82.1 91.1h0.9v0.9h-0.9zM105.2 81.3h0.9v0.9h-0.9zM98.0 91.8h0.9v0.9h-0.9zM95.7 66.3h0.9v0.9h-0.9zM105.3 76.6h0.9v0.9h-0.9zM90.5 94.8h0.9v0.9h-0.9zM80.7 66.6h0.9v0.9h-0.9zM76.4 85.3h0.9v0.9h-0.9zM96.0 67.0h0.9v0.9h-0.9zM100.7 87.6h0.9v0.9h-0.9zM81.8 88.3h0.9v0.9h-0.9zM82.3 69.1h0.9v0.9h-0.9zM96.1 67.0h0.9v0.9h-0.9zM81.3 93.6h0.9v0.9h-0.9zM79.7 89.5h0.9v0.9h-0.9zM75.0 74.1h0.9v0.9h-0.9zM79.7 91.0h0.9v0.9h-0.9zM80.3 72.8h0.9v0.9h-0.9zM84.2 64.3h0.9v0.9h-0.9zM99.7 92.6h0.9v0.9h-0.9zM81.8 64.6h0.9v0.9h-0.9zM77.3 70.4h0.9v0.9h-0.9zM106.1 80.8h0.9v0.9h-0.9zM75.4 84.7h0.9v0.9h-0.9zM97.4 95.0h0.9v0.9h-0.9zM105.9 77.5h0.9v0.9h-0.9zM106.1 75.0h0.9v0.9h-0.9zM95.1 66.9h0.9v0.9h-0.9zM101.1 67.0h0.9v0.9h-0.9zM73.2 76.2h0.9v0.9h-0.9zM83.4 65.6h0.9v0.9h-0.9zM95.0 95.5h0.9v0.9h-0.9zM104.1 81.8h0.9v0.9h-0.9zM75.2 71.4h0.9v0.9h-0.9zM101.9 67.8h0.9v0.9h-0.9zM92.5 63.2h0.9v0.9h-0.9zM98.3 93.0h0.9v0.9h-0.9zM91.2 96.8h0.9v0.9h-0.9zM83.5 95.5h0.9v0.9h-0.9zM91.5 93.9h0.9v0.9h-0.9zM99.9 69.0h0.9v0.9h-0.9zM98.1 94.8h0.9v0.9h-0.9zM105.1 84.3h0.9v0.9h-0.9zM101.2 91.6h0.9v0.9h-0.9zM84.6 67.0h0.9v0.9h-0.9zM105.0 71.7h0.9v0.9h-0.9zM76.3 84.3h0.9v0.9h-0.9zM88.7 95.2h0.9v0.9h-0.9zM77.7 68.3h0.9v0.9h-0.9zM98.6 67.6h0.9v0.9h-0.9zM100.8 89.2h0.9v0.9h-0.9zM105.0 73.0h0.9v0.9h-0.9zM86.5 65.5h0.9v0.9h-0.9zM98.6 69.5h0.9v0.9h-0.9zM103.9 84.5h0.9v0.9h-0.9zM94.6 64.1h0.9v0.9h-0.9zM105.7 84.8h0.9v0.9h-0.9zM94.4 66.4h0.9v0.9h-0.9zM77.4 78.2h0.9v0.9h-0.9zM94.1 95.0h0.9v0.9h-0.9zM81.7 67.0h0.9v0.9h-0.9zM94.8 67.3h0.9v0.9h-0.9zM76.9 70.5h0.9v0.9h-0.9zM83.7 92.7h0.9v0.9h-0.9zM102.9 89.1h0.9v0.9h-0.9zM101.7 71.9h0.9v0.9h-0.9zM85.6 63.1h0.9v0.9h-0.9zM76.1 71.5h0.9v0.9h-0.9zM90.1 63.4h0.9v0.9h-0.9zM86.6 91.8h0.9v0.9h-0.9zM78.4 89.7h0.9v0.9h-0.9zM95.5 95.2h0.9v0.9h-0.9zM105.9 73.8h0.9v0.9h-0.9zM83.3 95.4h0.9v0.9h-0.9zM103.0 70.9h0.9v0.9h-0.9zM88.4 92.8h0.9v0.9h-0.9zM99.2 88.3h0.9v0.9h-0.9zM79.7 87.9h0.9v0.9h-0.9zM92.8 96.3h0.9v0.9h-0.9zM78.0 85.5h0.9v0.9h-0.9zM84.0 64.0h0.9v0.9h-0.9zM100.8 89.1h0.9v0.9h-0.9zM98.5 67.9h0.9v0.9h-0.9zM83.0 92.7h0.9v0.9h-0.9zM104.2 74.4h0.9v0.9h-0.9zM76.5 83.5h0.9v0.9h-0.9zM91.1 64.2h0.9v0.9h-0.9zM101.1 91.1h0.9v0.9h-0.9zM92.2 65.6h0.9v0.9h-0.9zM100.6 73.4h0.9v0.9h-0.9zM104.1 81.8h0.9v0.9h-0.9zM84.0 93.6h0.9v0.9h-0.9zM86.7 64.3h0.9v0.9h-0.9zM80.3 92.8h0.9v0.9h-0.9zM102.5 71.0h0.9v0.9h-0.9zM87.7 93.0h0.9v0.9h-0.9zM76.3 85.5h0.9v0.9h-0.9zM103.8 87.1h0.9v0.9h-0.9zM104.2 86.5h0.9v0.9h-0.9zM105.3 80.8h0.9v0.9h-0.9zM79.2 92.0h0.9v0.9h-0.9zM76.6 68.9h0.9v0.9h-0.9zM97.2 94.4h0.9v0.9h-0.9zM99.2 66.6h0.9v0.9h-0.9zM78.1 72.7h0.9v0.9h-0.9zM101.5 71.0h0.9v0.9h-0.9zM79.1 91.1h0.9v0.9h-0.9zM80.8 67.4h0.9v0.9h-0.9zM96.2 66.7h0.9v0.9h-0.9zM103.1 85.7h0.9v0.9h-0.9zM104.7 73.0h0.9v0.9h-0.9zM92.6 96.4h0.9v0.9h-0.9zM96.6 90.2h0.9v0.9h-0.9zM83.3 63.9h0.9v0.9h-0.9zM77.3 83.9h0.9v0.9h-0.9zM102.7 74.3h0.9v0.9h-0.9zM89.9 64.9h0.9v0.9h-0.9zM90.6 63.5h0.9v0.9h-0.9zM99.3 66.3h0.9v0.9h-0.9zM78.9 81.7h0.9v0.9h-0.9zM77.8 68.7h0.9v0.9h-0.9zM94.9 65.3h0.9v0.9h-0.9zM88.4 64.4h0.9v0.9h-0.9zM100.6 73.2h0.9v0.9h-0.9zM76.6 71.3h0.9v0.9h-0.9zM98.2 93.2h0.9v0.9h-0.9zM102.2 71.0h0.9v0.9h-0.9zM89.9 66.9h0.9v0.9h-0.9zM99.5 93.2h0.9v0.9h-0.9zM84.3 119.0h0.9v0.9h-0.9zM94.3 126.6h0.9v0.9h-0.9zM99.3 120.8h0.9v0.9h-0.9zM98.6 114.6h0.9v0.9h-0.9zM98.4 110.2h0.9v0.9h-0.9zM90.4 146.0h0.9v0.9h-0.9zM90.9 121.9h0.9v0.9h-0.9zM98.0 147.3h0.9v0.9h-0.9zM93.3 116.8h0.9v0.9h-0.9zM95.6 110.8h0.9v0.9h-0.9zM91.8 113.5h0.9v0.9h-0.9zM83.5 108.0h0.9v0.9h-0.9zM86.2 140.0h0.9v0.9h-0.9zM99.1 109.2h0.9v0.9h-0.9zM94.3 110.2h0.9v0.9h-0.9zM89.1 113.4h0.9v0.9h-0.9zM83.4 135.2h0.9v0.9h-0.9zM88.5 141.2h0.9v0.9h-0.9zM81.6 118.9h0.9v0.9h-0.9zM94.7 109.7h0.9v0.9h-0.9zM97.4 157.2h0.9v0.9h-0.9zM85.8 117.9h0.9v0.9h-0.9zM104.3 119.2h0.9v0.9h-0.9zM94.8 120.8h0.9v0.9h-0.9zM94.3 110.1h0.9v0.9h-0.9zM81.7 125.8h0.9v0.9h-0.9zM94.2 111.6h0.9v0.9h-0.9zM92.0 126.6h0.9v0.9h-0.9zM100.0 115.2h0.9v0.9h-0.9zM96.0 110.4h0.9v0.9h-0.9zM83.1 133.9h0.9v0.9h-0.9zM100.4 128.7h0.9v0.9h-0.9zM85.3 126.4h0.9v0.9h-0.9zM97.7 133.9h0.9v0.9h-0.9zM83.3 118.9h0.9v0.9h-0.9zM106.7 117.9h0.9v0.9h-0.9zM80.0 122.5h0.9v0.9h-0.9zM106.9 129.8h0.9v0.9h-0.9zM101.5 129.3h0.9v0.9h-0.9zM99.8 105.9h0.9v0.9h-0.9zM98.1 124.1h0.9v0.9h-0.9zM93.7 109.3h0.9v0.9h-0.9zM99.0 111.6h0.9v0.9h-0.9zM83.3 143.3h0.9v0.9h-0.9zM94.6 147.0h0.9v0.9h-0.9zM99.4 136.1h0.9v0.9h-0.9zM88.4 133.1h0.9v0.9h-0.9zM88.2 109.9h0.9v0.9h-0.9zM82.4 119.4h0.9v0.9h-0.9zM91.1 132.8h0.9v0.9h-0.9zM91.2 116.9h0.9v0.9h-0.9zM108.4 112.4h0.9v0.9h-0.9zM112.3 119.4h0.9v0.9h-0.9zM86.2 143.9h0.9v0.9h-0.9zM88.5 124.0h0.9v0.9h-0.9zM100.0 150.8h0.9v0.9h-0.9zM108.1 109.0h0.9v0.9h-0.9zM91.0 126.7h0.9v0.9h-0.9zM94.0 102.6h0.9v0.9h-0.9zM84.2 129.6h0.9v0.9h-0.9zM97.0 106.1h0.9v0.9h-0.9zM98.4 134.6h0.9v0.9h-0.9zM94.2 128.0h0.9v0.9h-0.9zM92.8 134.9h0.9v0.9h-0.9zM96.5 126.3h0.9v0.9h-0.9zM91.4 137.7h0.9v0.9h-0.9zM89.5 117.4h0.9v0.9h-0.9zM86.0 111.2h0.9v0.9h-0.9zM89.7 126.9h0.9v0.9h-0.9zM98.2 119.0h0.9v0.9h-0.9zM93.5 131.4h0.9v0.9h-0.9zM99.2 121.6h0.9v0.9h-0.9zM94.2 126.2h0.9v0.9h-0.9zM95.9 130.1h0.9v0.9h-0.9zM87.2 118.1h0.9v0.9h-0.9zM91.9 149.5h0.9v0.9h-0.9zM82.1 123.9h0.9v0.9h-0.9zM87.1 117.5h0.9v0.9h-0.9zM96.8 139.4h0.9v0.9h-0.9zM78.8 132.8h0.9v0.9h-0.9zM93.3 119.6h0.9v0.9h-0.9zM89.8 141.4h0.9v0.9h-0.9zM93.2 103.6h0.9v0.9h-0.9zM97.3 113.8h0.9v0.9h-0.9zM85.0 136.7h0.9v0.9h-0.9zM97.5 108.0h0.9v0.9h-0.9zM99.1 112.0h0.9v0.9h-0.9zM96.6 115.1h0.9v0.9h-0.9zM84.2 124.1h0.9v0.9h-0.9zM99.0 157.0h0.9v0.9h-0.9zM104.9 125.1h0.9v0.9h-0.9zM86.2 143.1h0.9v0.9h-0.9zM90.5 138.7h0.9v0.9h-0.9zM88.6 143.8h0.9v0.9h-0.9zM111.4 141.7h0.9v0.9h-0.9zM85.4 128.7h0.9v0.9h-0.9zM82.9 123.4h0.9v0.9h-0.9zM91.2 145.9h0.9v0.9h-0.9zM91.4 104.0h0.9v0.9h-0.9zM95.0 118.1h0.9v0.9h-0.9zM87.8 137.2h0.9v0.9h-0.9zM97.7 145.5h0.9v0.9h-0.9zM87.5 123.1h0.9v0.9h-0.9zM88.6 118.9h0.9v0.9h-0.9zM89.2 112.4h0.9v0.9h-0.9zM93.9 107.1h0.9v0.9h-0.9zM98.9 114.2h0.9v0.9h-0.9zM97.0 144.8h0.9v0.9h-0.9zM81.2 124.5h0.9v0.9h-0.9zM91.7 128.6h0.9v0.9h-0.9zM108.9 140.4h0.9v0.9h-0.9zM93.2 149.2h0.9v0.9h-0.9zM104.3 104.3h0.9v0.9h-0.9zM95.4 134.1h0.9v0.9h-0.9zM88.1 140.9h0.9v0.9h-0.9zM92.7 124.6h0.9v0.9h-0.9zM104.0 119.2h0.9v0.9h-0.9zM103.0 119.3h0.9v0.9h-0.9zM98.7 105.9h0.9v0.9h-0.9zM87.2 113.6h0.9v0.9h-0.9zM89.1 147.7h0.9v0.9h-0.9zM96.5 139.3h0.9v0.9h-0.9zM87.6 121.0h0.9v0.9h-0.9zM93.3 137.0h0.9v0.9h-0.9zM89.6 137.3h0.9v0.9h-0.9zM89.2 123.3h0.9v0.9h-0.9zM101.3 119.2h0.9v0.9h-0.9zM94.9 117.6h0.9v0.9h-0.9zM86.6 136.9h0.9v0.9h-0.9zM104.7 144.3h0.9v0.9h-0.9zM94.6 99.1h0.9v0.9h-0.9zM86.2 152.1h0.9v0.9h-0.9zM87.7 137.2h0.9v0.9h-0.9zM94.4 131.2h0.9v0.9h-0.9zM85.4 140.3h0.9v0.9h-0.9zM90.4 118.6h0.9v0.9h-0.9zM88.8 125.4h0.9v0.9h-0.9zM101.2 122.2h0.9v0.9h-0.9zM94.2 131.1h0.9v0.9h-0.9zM92.9 104.0h0.9v0.9h-0.9zM97.6 109.7h0.9v0.9h-0.9zM96.0 119.7h0.9v0.9h-0.9zM89.8 126.3h0.9v0.9h-0.9zM88.3 160.0h0.9v0.9h-0.9zM110.4 123.4h0.9v0.9h-0.9zM95.7 136.7h0.9v0.9h-0.9zM81.0 131.8h0.9v0.9h-0.9zM100.0 105.6h0.9v0.9h-0.9zM91.8 125.6h0.9v0.9h-0.9zM92.8 149.9h0.9v0.9h-0.9zM85.6 141.4h0.9v0.9h-0.9zM93.1 112.2h0.9v0.9h-0.9zM104.6 116.7h0.9v0.9h-0.9zM86.8 120.7h0.9v0.9h-0.9zM87.4 117.4h0.9v0.9h-0.9zM100.8 117.6h0.9v0.9h-0.9zM85.2 134.9h0.9v0.9h-0.9zM98.8 102.4h0.9v0.9h-0.9zM99.0 134.5h0.9v0.9h-0.9zM101.5 132.8h0.9v0.9h-0.9zM103.6 119.5h0.9v0.9h-0.9zM88.4 145.9h0.9v0.9h-0.9zM83.8 118.5h0.9v0.9h-0.9zM97.1 117.1h0.9v0.9h-0.9zM97.2 121.7h0.9v0.9h-0.9zM108.6 126.7h0.9v0.9h-0.9zM89.7 130.5h0.9v0.9h-0.9zM105.5 130.8h0.9v0.9h-0.9zM79.5 136.6h0.9v0.9h-0.9zM101.8 114.5h0.9v0.9h-0.9zM89.0 116.1h0.9v0.9h-0.9zM80.2 115.8h0.9v0.9h-0.9zM94.4 110.8h0.9v0.9h-0.9zM93.8 128.7h0.9v0.9h-0.9zM92.9 117.9h0.9v0.9h-0.9zM92.2 127.3h0.9v0.9h-0.9zM90.9 115.7h0.9v0.9h-0.9zM95.8 117.7h0.9v0.9h-0.9zM92.2 106.7h0.9v0.9h-0.9zM89.5 131.5h0.9v0.9h-0.9zM93.0 105.0h0.9v0.9h-0.9zM89.7 100.7h0.9v0.9h-0.9zM92.3 101.4h0.9v0.9h-0.9zM97.0 124.7h0.9v0.9h-0.9zM84.3 126.2h0.9v0.9h-0.9zM84.8 130.2h0.9v0.9h-0.9zM90.2 121.2h0.9v0.9h-0.9zM100.3 125.8h0.9v0.9h-0.9zM97.6 134.1h0.9v0.9h-0.9zM105.6 98.9h0.9v0.9h-0.9zM77.3 129.9h0.9v0.9h-0.9zM100.7 124.4h0.9v0.9h-0.9zM113.6 136.2h0.9v0.9h-0.9zM101.3 146.0h0.9v0.9h-0.9zM92.3 115.2h0.9v0.9h-0.9zM95.2 96.7h0.9v0.9h-0.9zM86.0 145.4h0.9v0.9h-0.9zM100.3 110.3h0.9v0.9h-0.9zM99.0 140.3h0.9v0.9h-0.9zM94.5 104.9h0.9v0.9h-0.9zM98.1 136.6h0.9v0.9h-0.9zM99.7 113.2h0.9v0.9h-0.9zM92.6 119.2h0.9v0.9h-0.9zM93.0 140.8h0.9v0.9h-0.9zM94.7 117.3h0.9v0.9h-0.9zM96.5 121.5h0.9v0.9h-0.9zM99.5 120.4h0.9v0.9h-0.9zM94.5 123.1h0.9v0.9h-0.9zM89.8 129.1h0.9v0.9h-0.9zM90.7 143.9h0.9v0.9h-0.9zM99.6 120.6h0.9v0.9h-0.9zM89.2 131.8h0.9v0.9h-0.9zM110.0 122.6h0.9v0.9h-0.9zM99.6 120.4h0.9v0.9h-0.9zM85.1 134.7h0.9v0.9h-0.9zM97.6 136.6h0.9v0.9h-0.9zM94.5 114.9h0.9v0.9h-0.9zM88.0 134.1h0.9v0.9h-0.9zM97.0 100.5h0.9v0.9h-0.9zM94.5 106.9h0.9v0.9h-0.9zM96.3 105.6h0.9v0.9h-0.9zM99.4 136.6h0.9v0.9h-0.9zM96.5 134.8h0.9v0.9h-0.9zM102.0 118.7h0.9v0.9h-0.9zM97.4 127.5h0.9v0.9h-0.9zM98.5 110.1h0.9v0.9h-0.9zM111.5 124.3h0.9v0.9h-0.9zM103.9 124.7h0.9v0.9h-0.9zM93.9 142.4h0.9v0.9h-0.9zM89.8 106.4h0.9v0.9h-0.9zM95.4 107.2h0.9v0.9h-0.9zM99.3 118.2h0.9v0.9h-0.9z" fill="#a0a0a0"/>
<path d="M90.9 83.4h0.8v0.8h-0.8zM93.6 81.2h0.8v0.8h-0.8zM80.5 75.3h0.8v0.8h-0.8zM85.8 86.3h0.8v0.8h-0.8zM82.1 68.6h0.8v0.8h-0.8zM90.1 88.0h0.8v0.8h-0.8zM89.1 84.5h0.8v0.8h-0.8zM94.6 74.1h0.8v0.8h-0.8zM100.9 78.5h0.8v0.8h-0.8zM83.6 69.8h0.8v0.8h-0.8zM92.4 71.3h0.8v0.8h-0.8zM82.8 85.3h0.8v0.8h-0.8zM97.7 68.5h0.8v0.8h-0.8zM91.9 73.7h0.8v0.8h-0.8zM85.4 67.0h0.8v0.8h-0.8zM94.1 66.7h0.8v0.8h-0.8zM100.0 81.3h0.8v0.8h-0.8zM96.6 75.2h0.8v0.8h-0.8zM80.8 82.4h0.8v0.8h-0.8zM97.7 89.5h0.8v0.8h-0.8zM92.4 92.6h0.8v0.8h-0.8zM92.6 74.7h0.8v0.8h-0.8zM98.4 79.2h0.8v0.8h-0.8zM84.9 85.4h0.8v0.8h-0.8zM89.4 84.4h0.8v0.8h-0.8zM84.5 77.6h0.8v0.8h-0.8zM93.6 71.4h0.8v0.8h-0.8zM84.2 84.5h0.8v0.8h-0.8zM87.3 82.9h0.8v0.8h-0.8zM89.2 66.1h0.8v0.8h-0.8zM95.0 83.2h0.8v0.8h-0.8zM87.6 89.0h0.8v0.8h-0.8zM94.1 92.3h0.8v0.8h-0.8zM77.6 79.7h0.8v0.8h-0.8zM90.8 79.6h0.8v0.8h-0.8zM85.4 90.5h0.8v0.8h-0.8zM98.3 83.9h0.8v0.8h-0.8zM98.7 71.8h0.8v0.8h-0.8zM89.1 86.2h0.8v0.8h-0.8zM96.0 85.9h0.8v0.8h-0.8zM86.3 67.5h0.8v0.8h-0.8zM83.3 72.4h0.8v0.8h-0.8zM99.7 79.6h0.8v0.8h-0.8zM89.3 81.4h0.8v0.8h-0.8zM88.4 71.5h0.8v0.8h-0.8zM91.9 76.6h0.8v0.8h-0.8zM92.4 85.5h0.8v0.8h-0.8zM100.1 81.1h0.8v0.8h-0.8zM93.1 80.6h0.8v0.8h-0.8zM79.3 75.0h0.8v0.8h-0.8zM82.6 89.2h0.8v0.8h-0.8zM85.0 90.0h0.8v0.8h-0.8zM98.7 86.7h0.8v0.8h-0.8zM78.5 86.0h0.8v0.8h-0.8zM92.2 83.9h0.8v0.8h-0.8zM98.7 95.7h0.8v0.8h-0.8zM101.5 61.4h0.8v0.8h-0.8zM70.3 77.2h0.8v0.8h-0.8zM77.9 63.9h0.8v0.8h-0.8zM95.7 62.4h0.8v0.8h-0.8zM89.4 100.1h0.8v0.8h-0.8zM95.4 62.8h0.8v0.8h-0.8zM94.2 59.7h0.8v0.8h-0.8zM83.7 63.5h0.8v0.8h-0.8zM72.1 90.2h0.8v0.8h-0.8zM111.8 73.9h0.8v0.8h-0.8zM87.4 101.6h0.8v0.8h-0.8zM96.0 61.4h0.8v0.8h-0.8zM85.2 63.0h0.8v0.8h-0.8zM93.7 61.6h0.8v0.8h-0.8zM111.4 87.0h0.8v0.8h-0.8zM87.5 60.6h0.8v0.8h-0.8zM92.2 99.1h0.8v0.8h-0.8zM84.4 99.9h0.8v0.8h-0.8zM105.8 86.3h0.8v0.8h-0.8zM108.5 75.8h0.8v0.8h-0.8zM107.0 71.8h0.8v0.8h-0.8zM100.7 96.4h0.8v0.8h-0.8zM93.2 57.9h0.8v0.8h-0.8zM106.3 89.0h0.8v0.8h-0.8zM80.7 99.7h0.8v0.8h-0.8zM103.5 64.2h0.8v0.8h-0.8zM70.5 79.0h0.8v0.8h-0.8zM83.8 58.4h0.8v0.8h-0.8zM112.1 84.1h0.8v0.8h-0.8zM72.0 86.7h0.8v0.8h-0.8zM79.6 97.7h0.8v0.8h-0.8zM86.2 61.6h0.8v0.8h-0.8zM92.1 99.8h0.8v0.8h-0.8zM103.2 67.5h0.8v0.8h-0.8zM80.5 98.0h0.8v0.8h-0.8zM93.8 58.0h0.8v0.8h-0.8zM76.7 93.9h0.8v0.8h-0.8zM103.4 59.3h0.8v0.8h-0.8zM75.8 61.9h0.8v0.8h-0.8zM71.4 92.6h0.8v0.8h-0.8zM70.7 92.5h0.8v0.8h-0.8zM95.4 107.5h0.8v0.8h-0.8zM72.2 92.2h0.8v0.8h-0.8zM82.0 53.6h0.8v0.8h-0.8zM66.2 78.1h0.8v0.8h-0.8zM63.9 73.8h0.8v0.8h-0.8zM82.7 101.4h0.8v0.8h-0.8zM112.8 92.2h0.8v0.8h-0.8zM116.2 68.0h0.8v0.8h-0.8zM102.2 104.2h0.8v0.8h-0.8zM64.4 89.6h0.8v0.8h-0.8zM110.2 88.4h0.8v0.8h-0.8zM85.8 57.9h0.8v0.8h-0.8zM83.8 102.3h0.8v0.8h-0.8zM67.2 62.3h0.8v0.8h-0.8zM114.6 67.3h0.8v0.8h-0.8zM84.6 102.7h0.8v0.8h-0.8zM116.6 84.0h0.8v0.8h-0.8zM96.0 102.8h0.8v0.8h-0.8zM76.7 60.3h0.8v0.8h-0.8zM89.3 107.1h0.8v0.8h-0.8zM83.0 57.8h0.8v0.8h-0.8zM107.7 58.8h0.8v0.8h-0.8zM67.1 89.4h0.8v0.8h-0.8zM63.7 89.1h0.8v0.8h-0.8zM106.9 56.3h0.8v0.8h-0.8zM86.6 56.5h0.8v0.8h-0.8zM68.1 82.3h0.8v0.8h-0.8zM93.9 102.5h0.8v0.8h-0.8zM94.0 103.8h0.8v0.8h-0.8zM78.5 56.4h0.8v0.8h-0.8zM111.5 76.5h0.8v0.8h-0.8zM107.5 89.1h0.8v0.8h-0.8zM96.3 138.2h0.8v0.8h-0.8zM100.4 109.6h0.8v0.8h-0.8zM108.3 123.9h0.8v0.8h-0.8zM109.7 110.4h0.8v0.8h-0.8zM110.4 112.3h0.8v0.8h-0.8zM95.4 98.1h0.8v0.8h-0.8zM97.1 124.6h0.8v0.8h-0.8zM100.9 103.6h0.8v0.8h-0.8zM100.0 128.7h0.8v0.8h-0.8zM102.7 97.8h0.8v0.8h-0.8zM106.9 125.4h0.8v0.8h-0.8zM104.7 122.6h0.8v0.8h-0.8zM109.1 104.7h0.8v0.8h-0.8zM95.6 138.3h0.8v0.8h-0.8zM112.1 89.4h0.8v0.8h-0.8zM117.4 115.5h0.8v0.8h-0.8zM118.3 128.9h0.8v0.8h-0.8zM101.6 117.1h0.8v0.8h-0.8zM101.4 95.2h0.8v0.8h-0.8zM105.3 131.8h0.8v0.8h-0.8zM101.6 128.8h0.8v0.8h-0.8zM114.7 120.8h0.8v0.8h-0.8zM112.2 109.5h0.8v0.8h-0.8zM103.6 144.8h0.8v0.8h-0.8zM95.1 128.5h0.8v0.8h-0.8zM103.0 134.1h0.8v0.8h-0.8zM109.6 119.2h0.8v0.8h-0.8zM99.7 125.6h0.8v0.8h-0.8zM112.6 146.4h0.8v0.8h-0.8zM101.8 121.6h0.8v0.8h-0.8zM99.0 128.9h0.8v0.8h-0.8zM115.3 106.7h0.8v0.8h-0.8zM112.1 122.7h0.8v0.8h-0.8zM102.2 126.7h0.8v0.8h-0.8zM104.1 115.9h0.8v0.8h-0.8zM99.0 111.9h0.8v0.8h-0.8zM97.0 88.1h0.8v0.8h-0.8zM108.8 138.0h0.8v0.8h-0.8zM101.3 96.7h0.8v0.8h-0.8zM121.5 116.6h0.8v0.8h-0.8zM120.7 109.6h0.8v0.8h-0.8zM107.3 128.0h0.8v0.8h-0.8zM112.0 112.2h0.8v0.8h-0.8zM101.3 91.1h0.8v0.8h-0.8zM110.3 103.6h0.8v0.8h-0.8zM105.7 102.6h0.8v0.8h-0.8zM107.2 140.9h0.8v0.8h-0.8zM111.5 119.7h0.8v0.8h-0.8zM99.6 123.1h0.8v0.8h-0.8zM122.8 107.1h0.8v0.8h-0.8zM102.5 58.9h0.8v0.8h-0.8zM113.3 110.1h0.8v0.8h-0.8zM111.9 99.5h0.8v0.8h-0.8zM99.9 134.0h0.8v0.8h-0.8zM107.6 104.7h0.8v0.8h-0.8zM102.5 98.2h0.8v0.8h-0.8zM97.8 104.8h0.8v0.8h-0.8zM110.8 122.9h0.8v0.8h-0.8zM111.3 81.0h0.8v0.8h-0.8zM96.0 132.6h0.8v0.8h-0.8zM96.2 86.1h0.8v0.8h-0.8zM95.4 122.4h0.8v0.8h-0.8zM103.0 120.4h0.8v0.8h-0.8zM120.6 131.8h0.8v0.8h-0.8zM115.7 107.7h0.8v0.8h-0.8zM119.4 133.5h0.8v0.8h-0.8zM134.7 99.1h0.8v0.8h-0.8zM97.5 120.5h0.8v0.8h-0.8zM103.2 157.1h0.8v0.8h-0.8zM148.6 128.0h0.8v0.8h-0.8zM132.2 95.9h0.8v0.8h-0.8zM103.5 117.6h0.8v0.8h-0.8zM101.1 107.5h0.8v0.8h-0.8zM101.4 145.9h0.8v0.8h-0.8zM108.2 118.4h0.8v0.8h-0.8zM114.1 112.7h0.8v0.8h-0.8zM97.5 91.7h0.8v0.8h-0.8zM129.6 111.5h0.8v0.8h-0.8zM95.1 123.2h0.8v0.8h-0.8zM108.7 138.9h0.8v0.8h-0.8zM97.8 113.8h0.8v0.8h-0.8zM101.2 130.9h0.8v0.8h-0.8zM104.0 142.6h0.8v0.8h-0.8zM103.5 117.8h0.8v0.8h-0.8zM100.7 127.6h0.8v0.8h-0.8zM105.6 135.4h0.8v0.8h-0.8zM105.6 110.6h0.8v0.8h-0.8zM111.3 126.8h0.8v0.8h-0.8zM98.6 110.3h0.8v0.8h-0.8zM97.5 123.7h0.8v0.8h-0.8zM101.2 119.6h0.8v0.8h-0.8zM112.8 100.2h0.8v0.8h-0.8zM148.5 138.8h0.8v0.8h-0.8zM161.5 71.7h0.8v0.8h-0.8zM143.7 106.1h0.8v0.8h-0.8zM110.5 131.8h0.8v0.8h-0.8zM112.2 100.3h0.8v0.8h-0.8zM117.6 120.4h0.8v0.8h-0.8zM154.9 101.4h0.8v0.8h-0.8zM182.6 161.3h0.8v0.8h-0.8zM124.7 137.8h0.8v0.8h-0.8zM156.4 115.8h0.8v0.8h-0.8zM141.8 118.7h0.8v0.8h-0.8zM118.5 109.0h0.8v0.8h-0.8zM127.5 151.1h0.8v0.8h-0.8zM176.8 124.7h0.8v0.8h-0.8zM174.2 77.0h0.8v0.8h-0.8zM125.0 129.8h0.8v0.8h-0.8zM190.8 115.3h0.8v0.8h-0.8zM101.5 80.9h0.8v0.8h-0.8zM129.6 62.9h0.8v0.8h-0.8zM106.1 65.1h0.8v0.8h-0.8zM128.8 103.2h0.8v0.8h-0.8zM127.6 65.2h0.8v0.8h-0.8zM176.5 101.0h0.8v0.8h-0.8zM169.5 62.8h0.8v0.8h-0.8zM164.7 159.0h0.8v0.8h-0.8zM157.8 103.7h0.8v0.8h-0.8zM167.3 97.5h0.8v0.8h-0.8zM133.6 68.2h0.8v0.8h-0.8zM185.3 83.5h0.8v0.8h-0.8zM190.6 85.1h0.8v0.8h-0.8zM176.6 121.8h0.8v0.8h-0.8zM158.7 88.7h0.8v0.8h-0.8zM143.8 100.3h0.8v0.8h-0.8zM187.0 158.9h0.8v0.8h-0.8zM177.8 111.0h0.8v0.8h-0.8zM136.8 162.0h0.8v0.8h-0.8zM122.2 115.0h0.8v0.8h-0.8zM102.8 156.2h0.8v0.8h-0.8zM158.4 82.9h0.8v0.8h-0.8zM129.2 165.1h0.8v0.8h-0.8zM152.0 72.7h0.8v0.8h-0.8zM187.7 111.4h0.8v0.8h-0.8zM187.3 139.9h0.8v0.8h-0.8zM123.2 123.2h0.8v0.8h-0.8zM164.4 164.0h0.8v0.8h-0.8zM129.8 117.7h0.8v0.8h-0.8zM187.2 133.8h0.8v0.8h-0.8zM143.1 125.9h0.8v0.8h-0.8zM131.7 117.2h0.8v0.8h-0.8zM158.2 117.4h0.8v0.8h-0.8zM140.9 131.4h0.8v0.8h-0.8zM135.8 128.6h0.8v0.8h-0.8zM124.0 124.7h0.8v0.8h-0.8zM133.0 133.6h0.8v0.8h-0.8zM141.1 123.7h0.8v0.8h-0.8zM134.3 113.4h0.8v0.8h-0.8zM153.7 115.1h0.8v0.8h-0.8zM132.3 108.8h0.8v0.8h-0.8zM126.2 120.2h0.8v0.8h-0.8zM132.1 124.6h0.8v0.8h-0.8zM147.8 121.1h0.8v0.8h-0.8zM128.6 119.6h0.8v0.8h-0.8zM141.5 126.1h0.8v0.8h-0.8zM143.6 125.4h0.8v0.8h-0.8zM145.6 129.9h0.8v0.8h-0.8zM151.7 116.3h0.8v0.8h-0.8zM155.3 108.9h0.8v0.8h-0.8zM137.2 118.5h0.8v0.8h-0.8zM132.6 133.3h0.8v0.8h-0.8zM157.2 122.6h0.8v0.8h-0.8zM137.5 118.7h0.8v0.8h-0.8zM143.3 106.6h0.8v0.8h-0.8zM153.4 121.0h0.8v0.8h-0.8zM135.2 125.5h0.8v0.8h-0.8zM150.6 128.8h0.8v0.8h-0.8zM138.4 112.6h0.8v0.8h-0.8zM151.5 128.1h0.8v0.8h-0.8zM132.1 127.6h0.8v0.8h-0.8zM139.5 124.0h0.8v0.8h-0.8zM126.3 112.8h0.8v0.8h-0.8zM128.8 119.6h0.8v0.8h-0.8zM141.9 132.5h0.8v0.8h-0.8zM128.8 124.5h0.8v0.8h-0.8zM137.8 152.9h0.8v0.8h-0.8zM130.1 119.1h0.8v0.8h-0.8zM145.0 127.1h0.8v0.8h-0.8zM130.5 116.9h0.8v0.8h-0.8zM142.5 127.9h0.8v0.8h-0.8zM128.7 146.5h0.8v0.8h-0.8zM122.2 130.7h0.8v0.8h-0.8zM130.5 144.7h0.8v0.8h-0.8zM140.8 145.0h0.8v0.8h-0.8zM128.9 132.7h0.8v0.8h-0.8zM162.7 112.2h0.8v0.8h-0.8zM175.3 140.6h0.8v0.8h-0.8zM175.3 166.1h0.8v0.8h-0.8zM164.7 130.8h0.8v0.8h-0.8zM128.1 124.0h0.8v0.8h-0.8zM131.6 138.2h0.8v0.8h-0.8zM153.6 136.1h0.8v0.8h-0.8zM177.6 162.2h0.8v0.8h-0.8zM153.3 128.8h0.8v0.8h-0.8zM125.7 131.5h0.8v0.8h-0.8zM155.8 154.5h0.8v0.8h-0.8zM153.6 139.2h0.8v0.8h-0.8zM123.6 124.0h0.8v0.8h-0.8zM160.8 138.4h0.8v0.8h-0.8zM163.2 127.5h0.8v0.8h-0.8zM129.3 142.6h0.8v0.8h-0.8zM123.1 145.5h0.8v0.8h-0.8zM149.8 156.0h0.8v0.8h-0.8zM137.4 128.5h0.8v0.8h-0.8zM135.7 160.4h0.8v0.8h-0.8z" fill="#b0b0b0"/>
<path d="M98.7 133.3h0.8v0.8h-0.8zM103.5 106.2h0.8v0.8h-0.8zM118.5 117.3h0.8v0.8h-0.8zM98.1 129.6h0.8v0.8h-0.8zM127.5 134.8h0.8v0.8h-0.8zM105.5 121.3h0.8v0.8h-0.8zM99.3 106.6h0.8v0.8h-0.8zM96.4 98.1h0.8v0.8h-0.8zM97.2 82.7h0.8v0.8h-0.8zM103.9 124.7h0.8v0.8h-0.8zM112.6 114.2h0.8v0.8h-0.8zM101.0 112.7h0.8v0.8h-0.8zM112.9 108.9h0.8v0.8h-0.8zM98.0 122.0h0.8v0.8h-0.8zM98.1 90.9h0.8v0.8h-0.8zM107.7 106.3h0.8v0.8h-0.8zM97.8 114.1h0.8v0.8h-0.8zM100.3 108.7h0.8v0.8h-0.8zM114.1 118.4h0.8v0.8h-0.8zM133.0 124.8h0.8v0.8h-0.8zM102.1 139.0h0.8v0.8h-0.8zM128.4 87.8h0.8v0.8h-0.8zM103.4 123.6h0.8v0.8h-0.8zM95.9 131.5h0.8v0.8h-0.8zM107.1 138.6h0.8v0.8h-0.8zM95.2 133.4h0.8v0.8h-0.8zM99.0 114.5h0.8v0.8h-0.8zM119.3 109.5h0.8v0.8h-0.8zM96.4 105.2h0.8v0.8h-0.8zM115.8 125.1h0.8v0.8h-0.8zM116.8 115.5h0.8v0.8h-0.8zM98.8 88.1h0.8v0.8h-0.8zM113.7 102.1h0.8v0.8h-0.8zM95.2 104.9h0.8v0.8h-0.8zM96.3 113.2h0.8v0.8h-0.8zM123.5 134.3h0.8v0.8h-0.8zM104.3 161.7h0.8v0.8h-0.8zM97.4 122.2h0.8v0.8h-0.8zM115.6 124.8h0.8v0.8h-0.8zM113.9 129.6h0.8v0.8h-0.8zM112.0 93.5h0.8v0.8h-0.8zM111.9 121.5h0.8v0.8h-0.8zM112.9 108.2h0.8v0.8h-0.8zM101.9 109.5h0.8v0.8h-0.8zM113.0 123.5h0.8v0.8h-0.8zM103.4 128.7h0.8v0.8h-0.8zM104.7 109.7h0.8v0.8h-0.8zM103.5 158.3h0.8v0.8h-0.8zM97.9 139.2h0.8v0.8h-0.8zM109.6 85.4h0.8v0.8h-0.8zM102.7 113.3h0.8v0.8h-0.8zM96.3 102.5h0.8v0.8h-0.8zM123.3 92.5h0.8v0.8h-0.8zM105.5 100.9h0.8v0.8h-0.8zM114.9 134.3h0.8v0.8h-0.8zM117.1 118.1h0.8v0.8h-0.8zM104.7 102.4h0.8v0.8h-0.8zM98.0 122.8h0.8v0.8h-0.8zM115.7 133.2h0.8v0.8h-0.8zM103.4 122.7h0.8v0.8h-0.8zM96.0 111.0h0.8v0.8h-0.8zM100.7 117.4h0.8v0.8h-0.8zM109.1 107.9h0.8v0.8h-0.8zM110.1 106.7h0.8v0.8h-0.8zM108.3 116.3h0.8v0.8h-0.8zM98.0 149.5h0.8v0.8h-0.8zM109.5 117.3h0.8v0.8h-0.8zM108.5 113.2h0.8v0.8h-0.8zM116.7 123.6h0.8v0.8h-0.8zM99.2 101.1h0.8v0.8h-0.8zM109.0 112.7h0.8v0.8h-0.8zM103.3 124.3h0.8v0.8h-0.8zM102.6 102.9h0.8v0.8h-0.8zM113.3 119.9h0.8v0.8h-0.8zM98.5 107.7h0.8v0.8h-0.8zM95.8 90.6h0.8v0.8h-0.8zM109.6 127.2h0.8v0.8h-0.8zM103.4 114.4h0.8v0.8h-0.8zM118.6 67.4h0.8v0.8h-0.8zM154.9 166.3h0.8v0.8h-0.8zM124.5 112.9h0.8v0.8h-0.8zM169.4 167.5h0.8v0.8h-0.8zM162.8 131.1h0.8v0.8h-0.8zM172.0 62.7h0.8v0.8h-0.8zM141.9 157.0h0.8v0.8h-0.8zM114.4 71.1h0.8v0.8h-0.8zM118.2 77.9h0.8v0.8h-0.8zM127.7 166.6h0.8v0.8h-0.8zM182.7 80.5h0.8v0.8h-0.8zM182.3 69.2h0.8v0.8h-0.8zM124.9 74.8h0.8v0.8h-0.8zM173.5 129.7h0.8v0.8h-0.8zM158.5 75.8h0.8v0.8h-0.8zM105.3 80.6h0.8v0.8h-0.8zM126.6 100.5h0.8v0.8h-0.8zM117.9 145.1h0.8v0.8h-0.8zM126.4 62.8h0.8v0.8h-0.8zM134.8 148.4h0.8v0.8h-0.8zM181.4 107.4h0.8v0.8h-0.8zM130.2 81.0h0.8v0.8h-0.8zM104.4 77.5h0.8v0.8h-0.8zM166.1 158.7h0.8v0.8h-0.8zM114.7 87.5h0.8v0.8h-0.8zM171.1 64.3h0.8v0.8h-0.8zM157.5 165.9h0.8v0.8h-0.8zM110.7 74.5h0.8v0.8h-0.8zM186.0 143.1h0.8v0.8h-0.8zM154.7 136.7h0.8v0.8h-0.8zM109.3 163.8h0.8v0.8h-0.8zM173.5 110.2h0.8v0.8h-0.8zM105.4 85.3h0.8v0.8h-0.8zM105.1 92.5h0.8v0.8h-0.8zM190.4 63.4h0.8v0.8h-0.8zM138.7 131.0h0.8v0.8h-0.8zM180.0 68.8h0.8v0.8h-0.8zM118.7 148.8h0.8v0.8h-0.8zM127.4 89.5h0.8v0.8h-0.8zM168.2 69.9h0.8v0.8h-0.8zM181.3 142.2h0.8v0.8h-0.8zM117.3 72.3h0.8v0.8h-0.8zM162.4 135.6h0.8v0.8h-0.8z" fill="#c0c0c0"/>
<path d="M87.7 84.2h0.8v0.8h-0.8zM87.9 82.0h0.8v0.8h-0.8zM81.5 84.4h0.8v0.8h-0.8zM86.4 91.1h0.8v0.8h-0.8zM77.8 77.5h0.8v0.8h-0.8zM93.6 78.6h0.8v0.8h-0.8zM98.5 76.3h0.8v0.8h-0.8zM88.2 87.8h0.8v0.8h-0.8zM91.4 86.7h0.8v0.8h-0.8zM97.7 83.9h0.8v0.8h-0.8zM89.0 84.6h0.8v0.8h-0.8zM86.5 70.4h0.8v0.8h-0.8zM99.4 72.4h0.8v0.8h-0.8zM85.9 81.1h0.8v0.8h-0.8zM77.5 76.5h0.8v0.8h-0.8zM102.2 81.5h0.8v0.8h-0.8zM79.1 81.0h0.8v0.8h-0.8zM102.7 81.4h0.8v0.8h-0.8zM90.4 72.1h0.8v0.8h-0.8zM91.3 69.6h0.8v0.8h-0.8zM94.1 67.9h0.8v0.8h-0.8zM92.9 89.8h0.8v0.8h-0.8zM94.9 71.5h0.8v0.8h-0.8zM84.1 88.6h0.8v0.8h-0.8zM96.0 85.3h0.8v0.8h-0.8zM91.8 74.6h0.8v0.8h-0.8zM103.0 80.7h0.8v0.8h-0.8zM96.0 80.6h0.8v0.8h-0.8zM83.8 69.0h0.8v0.8h-0.8zM78.9 85.7h0.8v0.8h-0.8zM93.5 83.4h0.8v0.8h-0.8zM94.3 87.8h0.8v0.8h-0.8zM92.4 81.8h0.8v0.8h-0.8zM88.0 91.3h0.8v0.8h-0.8zM80.3 83.2h0.8v0.8h-0.8zM83.4 79.2h0.8v0.8h-0.8zM84.2 84.3h0.8v0.8h-0.8zM90.2 83.2h0.8v0.8h-0.8zM94.0 75.9h0.8v0.8h-0.8zM92.5 86.8h0.8v0.8h-0.8zM82.0 85.1h0.8v0.8h-0.8zM88.0 77.5h0.8v0.8h-0.8zM91.7 79.9h0.8v0.8h-0.8zM90.2 88.6h0.8v0.8h-0.8zM78.1 75.8h0.8v0.8h-0.8zM83.4 89.9h0.8v0.8h-0.8zM87.2 80.9h0.8v0.8h-0.8zM96.7 68.8h0.8v0.8h-0.8zM100.0 77.6h0.8v0.8h-0.8zM102.6 76.3h0.8v0.8h-0.8zM83.3 85.9h0.8v0.8h-0.8zM83.9 69.9h0.8v0.8h-0.8zM96.6 88.9h0.8v0.8h-0.8zM97.4 89.3h0.8v0.8h-0.8zM98.1 72.7h0.8v0.8h-0.8zM87.2 70.3h0.8v0.8h-0.8zM94.7 70.3h0.8v0.8h-0.8zM92.3 80.9h0.8v0.8h-0.8zM80.2 75.6h0.8v0.8h-0.8zM101.8 79.8h0.8v0.8h-0.8zM88.2 76.5h0.8v0.8h-0.8zM92.1 76.4h0.8v0.8h-0.8zM89.3 82.4h0.8v0.8h-0.8zM84.8 89.1h0.8v0.8h-0.8zM80.9 80.5h0.8v0.8h-0.8zM78.7 82.0h0.8v0.8h-0.8zM98.9 80.5h0.8v0.8h-0.8zM93.5 81.4h0.8v0.8h-0.8zM86.5 71.6h0.8v0.8h-0.8zM97.6 82.9h0.8v0.8h-0.8zM90.0 86.5h0.8v0.8h-0.8zM98.9 71.3h0.8v0.8h-0.8zM80.0 87.0h0.8v0.8h-0.8zM97.7 76.0h0.8v0.8h-0.8zM77.4 80.7h0.8v0.8h-0.8zM88.7 86.3h0.8v0.8h-0.8zM96.7 78.5h0.8v0.8h-0.8zM90.7 89.0h0.8v0.8h-0.8zM96.6 86.4h0.8v0.8h-0.8zM80.1 87.8h0.8v0.8h-0.8zM79.2 77.9h0.8v0.8h-0.8zM85.2 83.7h0.8v0.8h-0.8zM98.3 81.1h0.8v0.8h-0.8zM93.8 91.0h0.8v0.8h-0.8zM98.1 86.3h0.8v0.8h-0.8zM92.7 77.8h0.8v0.8h-0.8zM87.3 84.7h0.8v0.8h-0.8zM89.9 77.1h0.8v0.8h-0.8zM98.3 81.2h0.8v0.8h-0.8zM89.5 91.3h0.8v0.8h-0.8zM86.3 85.5h0.8v0.8h-0.8zM101.0 82.7h0.8v0.8h-0.8zM88.2 69.1h0.8v0.8h-0.8zM95.1 77.0h0.8v0.8h-0.8zM78.7 82.4h0.8v0.8h-0.8zM82.1 71.8h0.8v0.8h-0.8zM82.6 76.1h0.8v0.8h-0.8zM90.2 84.8h0.8v0.8h-0.8z" fill="#d0d0d0"/>
<rect x="62.5" y="40.2" width="130.8" height="130.3" fill="none" stroke="#333" stroke-width="1.2"/>
<rect x="71.9" y="62.2" width="36.5" height="36.5" fill="none" stroke="#666" stroke-width="1.1"/>
<rect x="122.3" y="112.2" width="71" height="58.3" fill="none" stroke="#777" stroke-width="1.1"/>
<line x1="193.3" y1="112.2" x2="193.3" y2="170.5" stroke="#222" stroke-width="1.4"/>
<line x1="59.8" y1="53" x2="62.5" y2="53" stroke="#222" stroke-width="1.0"/>
<line x1="59.8" y1="82.3" x2="62.5" y2="82.3" stroke="#222" stroke-width="1.0"/>
<line x1="59.8" y1="112" x2="62.5" y2="112" stroke="#222" stroke-width="1.0"/>
<line x1="59.8" y1="144" x2="62.5" y2="144" stroke="#222" stroke-width="1.0"/>
<line x1="60.3" y1="157.5" x2="62.5" y2="157.5" stroke="#111" stroke-width="1.6"/>
<line x1="61.2" y1="73.5" x2="62.5" y2="73.5" stroke="#444" stroke-width="0.7"/>
<line x1="61.2" y1="68.3" x2="62.5" y2="68.3" stroke="#444" stroke-width="0.7"/>
<line x1="61.2" y1="64.7" x2="62.5" y2="64.7" stroke="#444" stroke-width="0.7"/>
<line x1="61.2" y1="61.8" x2="62.5" y2="61.8" stroke="#444" stroke-width="0.7"/>
<line x1="61.2" y1="59.5" x2="62.5" y2="59.5" stroke="#444" stroke-width="0.7"/>
<line x1="61.2" y1="57.5" x2="62.5" y2="57.5" stroke="#444" stroke-width="0.7"/>
<line x1="61.2" y1="55.8" x2="62.5" y2="55.8" stroke="#444" stroke-width="0.7"/>
<line x1="61.2" y1="54.3" x2="62.5" y2="54.3" stroke="#444" stroke-width="0.7"/>
<line x1="61.2" y1="103.1" x2="62.5" y2="103.1" stroke="#444" stroke-width="0.7"/>
<line x1="61.2" y1="97.8" x2="62.5" y2="97.8" stroke="#444" stroke-width="0.7"/>
<line x1="61.2" y1="94.1" x2="62.5" y2="94.1" stroke="#444" stroke-width="0.7"/>
<line x1="61.2" y1="91.2" x2="62.5" y2="91.2" stroke="#444" stroke-width="0.7"/>
<line x1="61.2" y1="88.9" x2="62.5" y2="88.9" stroke="#444" stroke-width="0.7"/>
<line x1="61.2" y1="86.9" x2="62.5" y2="86.9" stroke="#444" stroke-width="0.7"/>
<line x1="61.2" y1="85.2" x2="62.5" y2="85.2" stroke="#444" stroke-width="0.7"/>
<line x1="61.2" y1="83.7" x2="62.5" y2="83.7" stroke="#444" stroke-width="0.7"/>
<line x1="61.2" y1="134.4" x2="62.5" y2="134.4" stroke="#444" stroke-width="0.7"/>
<line x1="61.2" y1="128.7" x2="62.5" y2="128.7" stroke="#444" stroke-width="0.7"/>
<line x1="61.2" y1="124.7" x2="62.5" y2="124.7" stroke="#444" stroke-width="0.7"/>
<line x1="61.2" y1="121.6" x2="62.5" y2="121.6" stroke="#444" stroke-width="0.7"/>
<line x1="61.2" y1="119.1" x2="62.5" y2="119.1" stroke="#444" stroke-width="0.7"/>
<line x1="61.2" y1="117" x2="62.5" y2="117" stroke="#444" stroke-width="0.7"/>
<line x1="61.2" y1="115.1" x2="62.5" y2="115.1" stroke="#444" stroke-width="0.7"/>
<line x1="61.2" y1="113.5" x2="62.5" y2="113.5" stroke="#444" stroke-width="0.7"/>
<line x1="93" y1="170.5" x2="93" y2="173.2" stroke="#222" stroke-width="1.0"/>
<line x1="122" y1="170.5" x2="122" y2="173.2" stroke="#222" stroke-width="1.0"/>
<line x1="150.5" y1="170.5" x2="150.5" y2="173.2" stroke="#222" stroke-width="1.0"/>
<line x1="178.5" y1="170.5" x2="178.5" y2="173.2" stroke="#222" stroke-width="1.0"/>
<line x1="75" y1="170.5" x2="75" y2="173.5" stroke="#111" stroke-width="1.6"/>
<line x1="101.7" y1="170.5" x2="101.7" y2="171.9" stroke="#444" stroke-width="0.7"/>
<line x1="106.8" y1="170.5" x2="106.8" y2="171.9" stroke="#444" stroke-width="0.7"/>
<line x1="110.5" y1="170.5" x2="110.5" y2="171.9" stroke="#444" stroke-width="0.7"/>
<line x1="113.3" y1="170.5" x2="113.3" y2="171.9" stroke="#444" stroke-width="0.7"/>
<line x1="115.6" y1="170.5" x2="115.6" y2="171.9" stroke="#444" stroke-width="0.7"/>
<line x1="117.5" y1="170.5" x2="117.5" y2="171.9" stroke="#444" stroke-width="0.7"/>
<line x1="119.2" y1="170.5" x2="119.2" y2="171.9" stroke="#444" stroke-width="0.7"/>
<line x1="120.7" y1="170.5" x2="120.7" y2="171.9" stroke="#444" stroke-width="0.7"/>
<line x1="130.6" y1="170.5" x2="130.6" y2="171.9" stroke="#444" stroke-width="0.7"/>
<line x1="135.6" y1="170.5" x2="135.6" y2="171.9" stroke="#444" stroke-width="0.7"/>
<line x1="139.2" y1="170.5" x2="139.2" y2="171.9" stroke="#444" stroke-width="0.7"/>
<line x1="141.9" y1="170.5" x2="141.9" y2="171.9" stroke="#444" stroke-width="0.7"/>
<line x1="144.2" y1="170.5" x2="144.2" y2="171.9" stroke="#444" stroke-width="0.7"/>
<line x1="146.1" y1="170.5" x2="146.1" y2="171.9" stroke="#444" stroke-width="0.7"/>
<line x1="147.7" y1="170.5" x2="147.7" y2="171.9" stroke="#444" stroke-width="0.7"/>
<line x1="149.2" y1="170.5" x2="149.2" y2="171.9" stroke="#444" stroke-width="0.7"/>
<line x1="158.9" y1="170.5" x2="158.9" y2="171.9" stroke="#444" stroke-width="0.7"/>
<line x1="163.9" y1="170.5" x2="163.9" y2="171.9" stroke="#444" stroke-width="0.7"/>
<line x1="167.4" y1="170.5" x2="167.4" y2="171.9" stroke="#444" stroke-width="0.7"/>
<line x1="170.1" y1="170.5" x2="170.1" y2="171.9" stroke="#444" stroke-width="0.7"/>
<line x1="172.3" y1="170.5" x2="172.3" y2="171.9" stroke="#444" stroke-width="0.7"/>
<line x1="174.2" y1="170.5" x2="174.2" y2="171.9" stroke="#444" stroke-width="0.7"/>
<line x1="175.8" y1="170.5" x2="175.8" y2="171.9" stroke="#444" stroke-width="0.7"/>
<line x1="177.2" y1="170.5" x2="177.2" y2="171.9" stroke="#444" stroke-width="0.7"/>
<text x="46.4" y="56.3" font-size="6.6" fill="#555" stroke="#555" stroke-width="0.2">10<tspan font-size="7" dx="-0.1" dy="-4.3">5</tspan></text>
<text x="46.4" y="86" font-size="6.6" fill="#555" stroke="#555" stroke-width="0.2">10<tspan font-size="7" dx="-0.1" dy="-4.3">4</tspan></text>
<text x="46.4" y="115.8" font-size="6.6" fill="#555" stroke="#555" stroke-width="0.2">10<tspan font-size="7" dx="-0.1" dy="-4.3">3</tspan></text>
<text x="46.4" y="147.9" font-size="6.6" fill="#555" stroke="#555" stroke-width="0.2">10<tspan font-size="7" dx="-0.1" dy="-4.3">2</tspan></text>
<text x="55.8" y="160.6" font-size="6.4" text-anchor="middle" fill="#555" stroke="#555" stroke-width="0.3">0</text>
<text x="74.3" y="187.2" font-size="6.2" text-anchor="middle" fill="#555" stroke="#555" stroke-width="0.3">0</text>
<text x="85.6" y="191.4" font-size="6.6" fill="#555" stroke="#555" stroke-width="0.2">10<tspan font-size="7" dx="-0.1" dy="-4.3">2</tspan></text>
<text x="115.2" y="191.4" font-size="6.6" fill="#555" stroke="#555" stroke-width="0.2">10<tspan font-size="7" dx="-0.1" dy="-4.3">3</tspan></text>
<text x="144" y="191.4" font-size="6.6" fill="#555" stroke="#555" stroke-width="0.2">10<tspan font-size="7" dx="-0.1" dy="-4.3">4</tspan></text>
<text x="171" y="191.4" font-size="6.6" fill="#555" stroke="#555" stroke-width="0.2">10<tspan font-size="7" dx="-0.1" dy="-4.3">5</tspan></text>
<text x="116.5" y="62.6" font-size="8.5" text-anchor="start" textLength="44.3" lengthAdjust="spacingAndGlyphs" fill="#222" stroke="#222" stroke-width="0.3">CD19+ ALL</text>
<text x="116.5" y="73" font-size="8.5" text-anchor="start" textLength="57.3" lengthAdjust="spacingAndGlyphs" fill="#222" stroke="#222" stroke-width="0.3">blasts(90.22%)</text>
<text x="153.4" y="88.5" font-size="8.5" text-anchor="start" textLength="28.9" lengthAdjust="spacingAndGlyphs" fill="#222" stroke="#222" stroke-width="0.3">ALL-Mo</text>
<text x="153.4" y="99" font-size="8.5" text-anchor="start" textLength="31.2" lengthAdjust="spacingAndGlyphs" fill="#222" stroke="#222" stroke-width="0.3">(1.19%)</text>
<line x1="115.3" y1="60.8" x2="107.4" y2="70.5" stroke="#111" stroke-width="1.6"/>
<polygon points="103.6,75.2 104.9,68.5 109.9,72.6" fill="#111"/>
<line x1="158" y1="107" x2="151.2" y2="116.6" stroke="#111" stroke-width="1.6"/>
<polygon points="147.7,121.5 148.6,114.8 153.8,118.5" fill="#111"/>
<line x1="307" y1="36.1" x2="307" y2="88.7" stroke="#111" stroke-width="1.7"/>
<line x1="303" y1="36.1" x2="307" y2="36.1" stroke="#111" stroke-width="1.7"/>
<line x1="303" y1="53.6" x2="307" y2="53.6" stroke="#111" stroke-width="1.7"/>
<line x1="303" y1="71.2" x2="307" y2="71.2" stroke="#111" stroke-width="1.7"/>
<line x1="303" y1="88.7" x2="310.2" y2="88.7" stroke="#111" stroke-width="1.7"/>
<line x1="307" y1="99.3" x2="307" y2="169.6" stroke="#111" stroke-width="1.7"/>
<line x1="303" y1="99.3" x2="310.2" y2="99.3" stroke="#111" stroke-width="1.7"/>
<line x1="303" y1="116.9" x2="307" y2="116.9" stroke="#111" stroke-width="1.7"/>
<line x1="303" y1="134.4" x2="307" y2="134.4" stroke="#111" stroke-width="1.7"/>
<line x1="303" y1="152" x2="307" y2="152" stroke="#111" stroke-width="1.7"/>
<line x1="303" y1="169.6" x2="307" y2="169.6" stroke="#111" stroke-width="1.7"/>
<line x1="307" y1="169.6" x2="429.8" y2="169.6" stroke="#111" stroke-width="1.7"/>
<text x="301.8" y="39.2" font-size="8.6" text-anchor="end" fill="#222" stroke="#222" stroke-width="0.3">100</text>
<text x="301.8" y="56.7" font-size="8.6" text-anchor="end" fill="#222" stroke="#222" stroke-width="0.3">80</text>
<text x="301.8" y="74.3" font-size="8.6" text-anchor="end" fill="#222" stroke="#222" stroke-width="0.3">60</text>
<text x="301.8" y="91.8" font-size="8.6" text-anchor="end" fill="#222" stroke="#222" stroke-width="0.3">40</text>
<text x="301.8" y="102.4" font-size="8.6" text-anchor="end" fill="#222" stroke="#222" stroke-width="0.3">40</text>
<text x="301.8" y="120" font-size="8.6" text-anchor="end" fill="#222" stroke="#222" stroke-width="0.3">30</text>
<text x="301.8" y="137.5" font-size="8.6" text-anchor="end" fill="#222" stroke="#222" stroke-width="0.3">20</text>
<text x="301.8" y="155.1" font-size="8.6" text-anchor="end" fill="#222" stroke="#222" stroke-width="0.3">10</text>
<text x="301.8" y="172.7" font-size="8.6" text-anchor="end" fill="#222" stroke="#222" stroke-width="0.3">0</text>
<text x="266.2" y="102.8" font-size="10.3" font-weight="bold" text-anchor="middle" transform="rotate(-90 266.2 102.8)" fill="#111" stroke="#111" stroke-width="0.35">CXCL10</text>
<text x="277.4" y="103.3" font-size="9.8" text-anchor="middle" transform="rotate(-90 277.4 103.3)" fill="#222" stroke="#222" stroke-width="0.3">(Fold change wrt Mo)</text>
<rect x="314.6" y="167.4" width="30.4" height="2.2" fill="#111" stroke="#111" stroke-width="1.6"/>
<rect x="352.3" y="99.6" width="31.4" height="70" fill="#858585"/>
<line x1="352.3" y1="99.6" x2="352.3" y2="169.6" stroke="#111" stroke-width="1.6"/>
<line x1="383.7" y1="99.6" x2="383.7" y2="169.6" stroke="#111" stroke-width="1.6"/>
<rect x="352.3" y="84.2" width="31.4" height="4.5" fill="#858585" stroke="#111" stroke-width="1.6"/>
<line x1="367.9" y1="65.8" x2="367.9" y2="88.7" stroke="#111" stroke-width="1.5"/>
<line x1="360" y1="65.8" x2="376" y2="65.8" stroke="#111" stroke-width="1.5"/>
<line x1="367.9" y1="99.5" x2="367.9" y2="126.9" stroke="#111" stroke-width="1.5"/>
<line x1="360" y1="126.9" x2="376" y2="126.9" stroke="#111" stroke-width="1.5"/>
<path d="M367.8 53.5L367.80 50.68M367.8 53.5L370.45 52.60M367.8 53.5L369.44 55.72M367.8 53.5L366.16 55.72M367.8 53.5L365.15 52.60" stroke="#111" stroke-width="1.27" fill="none"/>
<defs><pattern id="hatch" width="2.6" height="2.6" patternUnits="userSpaceOnUse" patternTransform="rotate(40)"><rect width="2.6" height="2.6" fill="#222"/><line x1="0.8" y1="0" x2="0.8" y2="2.6" stroke="#eee" stroke-width="1.1"/></pattern></defs>
<rect x="390.3" y="164" width="31.3" height="5.6" fill="url(#hatch)" stroke="#111" stroke-width="1.5"/>
<rect x="390.3" y="164" width="31.3" height="1.8" fill="#111"/>
<line x1="397.8" y1="162.7" x2="413.7" y2="162.7" stroke="#111" stroke-width="2.0"/>
<text x="330" y="187.2" font-size="9.8" font-weight="bold" text-anchor="middle" fill="#111" stroke="#111" stroke-width="0.35">Mo</text>
<text x="368" y="187.1" font-size="9.8" font-weight="bold" text-anchor="middle" textLength="35.9" lengthAdjust="spacingAndGlyphs" fill="#111" stroke="#111" stroke-width="0.35">ALL-Mo</text>
<text x="405.9" y="187.1" font-size="9.8" font-weight="bold" text-anchor="middle" textLength="23.7" lengthAdjust="spacingAndGlyphs" fill="#111" stroke="#111" stroke-width="0.35">cALL</text>
<line x1="68.2" y1="275.4" x2="68.2" y2="413.6" stroke="#111" stroke-width="1.7"/>
<line x1="63.5" y1="275.4" x2="68.2" y2="275.4" stroke="#111" stroke-width="1.7"/>
<text x="61.8" y="279" font-size="10.1" text-anchor="end" fill="#222" stroke="#222" stroke-width="0.3">2000</text>
<line x1="63.5" y1="309.9" x2="68.2" y2="309.9" stroke="#111" stroke-width="1.7"/>
<text x="61.8" y="313.6" font-size="10.1" text-anchor="end" fill="#222" stroke="#222" stroke-width="0.3">1500</text>
<line x1="63.5" y1="344.5" x2="68.2" y2="344.5" stroke="#111" stroke-width="1.7"/>
<text x="61.8" y="348.1" font-size="10.1" text-anchor="end" fill="#222" stroke="#222" stroke-width="0.3">1000</text>
<line x1="63.5" y1="379.1" x2="68.2" y2="379.1" stroke="#111" stroke-width="1.7"/>
<text x="61.8" y="382.7" font-size="10.1" text-anchor="end" fill="#222" stroke="#222" stroke-width="0.3">500</text>
<line x1="63.5" y1="413.6" x2="68.2" y2="413.6" stroke="#111" stroke-width="1.7"/>
<text x="61.8" y="417.2" font-size="10.1" text-anchor="end" fill="#222" stroke="#222" stroke-width="0.3">0</text>
<line x1="68.2" y1="413.6" x2="137.4" y2="413.6" stroke="#111" stroke-width="1.7"/>
<rect x="73.8" y="397.3" width="22.7" height="16.3" fill="#fff" stroke="#111" stroke-width="1.6"/>
<line x1="85.4" y1="393.8" x2="85.4" y2="401.4" stroke="#111" stroke-width="1.4"/>
<line x1="79.2" y1="393.8" x2="91.6" y2="393.8" stroke="#111" stroke-width="1.4"/>
<line x1="79.2" y1="401.4" x2="91.6" y2="401.4" stroke="#111" stroke-width="1.4"/>
<rect x="108.8" y="338.9" width="21.8" height="74.7" fill="#858585" stroke="#111" stroke-width="1.6"/>
<line x1="119.6" y1="314.2" x2="119.6" y2="363.5" stroke="#111" stroke-width="1.4"/>
<line x1="113.5" y1="314.2" x2="125.7" y2="314.2" stroke="#111" stroke-width="1.4"/>
<line x1="113.5" y1="363.5" x2="125.7" y2="363.5" stroke="#111" stroke-width="1.4"/>
<path d="M117.8 305.4L117.85 301.91M117.8 305.4L121.20 304.35M117.8 305.4L119.92 308.29M117.8 305.4L115.78 308.29M117.8 305.4L114.50 304.35" stroke="#111" stroke-width="1.61" fill="none"/>
<text x="31.5" y="344.7" font-size="10.6" font-weight="bold" text-anchor="middle" transform="rotate(-90 31.5 344.7)" fill="#111" stroke="#111" stroke-width="0.35">CXCL10 (pg/ml)</text>
<text x="88" y="424.5" font-size="11.6" font-weight="bold" text-anchor="end" transform="rotate(-45 88 424.5)" fill="#111" stroke="#111" stroke-width="0.35" id="C_Healthy">Healthy</text>
<text x="121.2" y="425" font-size="11.6" font-weight="bold" text-anchor="end" transform="rotate(-45 121.2 425)" fill="#111" stroke="#111" stroke-width="0.35" id="C_cALL">cALL patient</text>
<line x1="255.6" y1="270" x2="255.6" y2="412.8" stroke="#111" stroke-width="1.7"/>
<line x1="251.2" y1="270.3" x2="255.6" y2="270.3" stroke="#111" stroke-width="1.7"/>
<text x="250.2" y="273.4" font-size="8.4" text-anchor="end" fill="#222" stroke="#222" stroke-width="0.3">150</text>
<line x1="251.2" y1="317.8" x2="255.6" y2="317.8" stroke="#111" stroke-width="1.7"/>
<text x="250.2" y="320.9" font-size="8.4" text-anchor="end" fill="#222" stroke="#222" stroke-width="0.3">100</text>
<line x1="251.2" y1="365.3" x2="255.6" y2="365.3" stroke="#111" stroke-width="1.7"/>
<text x="250.2" y="368.4" font-size="8.4" text-anchor="end" fill="#222" stroke="#222" stroke-width="0.3">50</text>
<line x1="251.2" y1="412.8" x2="255.6" y2="412.8" stroke="#111" stroke-width="1.7"/>
<text x="250.2" y="415.9" font-size="8.4" text-anchor="end" fill="#222" stroke="#222" stroke-width="0.3">0</text>
<line x1="255.6" y1="412.8" x2="375.2" y2="412.8" stroke="#111" stroke-width="1.7"/>
<line x1="275.8" y1="412.8" x2="275.8" y2="417.2" stroke="#111" stroke-width="1.3"/>
<line x1="315.8" y1="412.8" x2="315.8" y2="417.2" stroke="#111" stroke-width="1.3"/>
<line x1="355.5" y1="412.8" x2="355.5" y2="417.2" stroke="#111" stroke-width="1.3"/>
<rect x="261.5" y="411.8" width="12.7" height="1" fill="#fff" stroke="#111" stroke-width="1.2"/>
<rect x="277.2" y="359.7" width="12.5" height="53.1" fill="#858585" stroke="#111" stroke-width="1.6"/>
<line x1="283.5" y1="333.8" x2="283.5" y2="386.5" stroke="#111" stroke-width="1.4"/>
<line x1="279.9" y1="333.8" x2="287.1" y2="333.8" stroke="#111" stroke-width="1.4"/>
<line x1="279.9" y1="386.5" x2="287.1" y2="386.5" stroke="#111" stroke-width="1.4"/>
<path d="M283 326.8L283.00 323.79M283 326.8L285.85 325.86M283 326.8L284.76 329.21M283 326.8L281.24 329.21M283 326.8L280.15 325.86" stroke="#111" stroke-width="1.37" fill="none"/>
<rect x="301.2" y="411.8" width="13" height="1" fill="#fff" stroke="#111" stroke-width="1.2"/>
<rect x="316.9" y="385.1" width="12.7" height="27.7" fill="#858585" stroke="#111" stroke-width="1.6"/>
<line x1="323.2" y1="378.2" x2="323.2" y2="391.5" stroke="#111" stroke-width="1.4"/>
<line x1="319.6" y1="378.2" x2="326.8" y2="378.2" stroke="#111" stroke-width="1.4"/>
<line x1="319.6" y1="391.5" x2="326.8" y2="391.5" stroke="#111" stroke-width="1.4"/>
<path d="M322.7 369.5L322.70 366.49M322.7 369.5L325.55 368.56M322.7 369.5L324.46 371.91M322.7 369.5L320.94 371.91M322.7 369.5L319.85 368.56" stroke="#111" stroke-width="1.37" fill="none"/>
<rect x="341" y="411.8" width="12.7" height="1" fill="#fff" stroke="#111" stroke-width="1.2"/>
<rect x="356.8" y="382" width="12.4" height="30.8" fill="#858585" stroke="#111" stroke-width="1.6"/>
<line x1="363" y1="365.6" x2="363" y2="398.2" stroke="#111" stroke-width="1.4"/>
<line x1="359.4" y1="365.6" x2="366.6" y2="365.6" stroke="#111" stroke-width="1.4"/>
<line x1="359.4" y1="398.2" x2="366.6" y2="398.2" stroke="#111" stroke-width="1.4"/>
<path d="M362.5 358.6L362.50 355.59M362.5 358.6L365.35 357.66M362.5 358.6L364.26 361.01M362.5 358.6L360.74 361.01M362.5 358.6L359.65 357.66" stroke="#111" stroke-width="1.37" fill="none"/>
<rect x="262.4" y="274.4" width="16.2" height="7.2" rx="1.1" fill="#fff" stroke="#111" stroke-width="1.5"/>
<rect x="262.4" y="288.6" width="16.2" height="7.4" rx="1.1" fill="#858585" stroke="#111" stroke-width="1.5"/>
<text x="287.3" y="281.7" font-size="10" font-weight="bold" text-anchor="start" fill="#111" stroke="#111" stroke-width="0.35">Mo</text>
<text x="287.3" y="295.9" font-size="10" font-weight="bold" text-anchor="start" textLength="37.7" lengthAdjust="spacingAndGlyphs" fill="#111" stroke="#111" stroke-width="0.35">ALL-Mo</text>
<text x="225.8" y="342" font-size="10" text-anchor="middle" transform="rotate(-90 225.8 342)" fill="#222" stroke="#222" stroke-width="0.3">Fold change wrt Mo</text>
<text x="278" y="428.2" font-size="11.0" font-weight="bold" text-anchor="end" transform="rotate(-45 278 428.2)" fill="#111" stroke="#111" stroke-width="0.35" id="D_TNFA">TNFA</text>
<text x="318.2" y="427.5" font-size="11.0" font-weight="bold" text-anchor="end" transform="rotate(-45 318.2 427.5)" fill="#111" stroke="#111" stroke-width="0.35" id="D_IL12p40">IL12p40</text>
<text x="358" y="428" font-size="11.0" font-weight="bold" text-anchor="end" transform="rotate(-45 358 428)" fill="#111" stroke="#111" stroke-width="0.35" id="D_IL10">IL10</text>
<line x1="404.7" y1="276" x2="404.7" y2="413.6" stroke="#111" stroke-width="1.7"/>
<line x1="400.8" y1="276" x2="404.7" y2="276" stroke="#111" stroke-width="1.7"/>
<text x="400" y="279.1" font-size="8.4" text-anchor="end" fill="#222" stroke="#222" stroke-width="0.3">40</text>
<line x1="400.8" y1="310.4" x2="404.7" y2="310.4" stroke="#111" stroke-width="1.7"/>
<text x="400" y="313.5" font-size="8.4" text-anchor="end" fill="#222" stroke="#222" stroke-width="0.3">30</text>
<line x1="400.8" y1="344.8" x2="404.7" y2="344.8" stroke="#111" stroke-width="1.7"/>
<text x="400" y="347.9" font-size="8.4" text-anchor="end" fill="#222" stroke="#222" stroke-width="0.3">20</text>
<line x1="400.8" y1="379.2" x2="404.7" y2="379.2" stroke="#111" stroke-width="1.7"/>
<text x="400" y="382.3" font-size="8.4" text-anchor="end" fill="#222" stroke="#222" stroke-width="0.3">10</text>
<line x1="400.8" y1="413.6" x2="404.7" y2="413.6" stroke="#111" stroke-width="1.7"/>
<text x="400" y="416.7" font-size="8.4" text-anchor="end" fill="#222" stroke="#222" stroke-width="0.3">0</text>
<line x1="404.7" y1="413.6" x2="471.4" y2="413.6" stroke="#111" stroke-width="1.7"/>
<rect x="410.2" y="410.2" width="10.5" height="3.4" fill="#fff" stroke="#111" stroke-width="1.3"/>
<rect x="423" y="356" width="10.7" height="57.6" fill="#858585" stroke="#111" stroke-width="1.6"/>
<line x1="428.4" y1="329.7" x2="428.4" y2="382.7" stroke="#111" stroke-width="1.4"/>
<line x1="424.8" y1="329.7" x2="432" y2="329.7" stroke="#111" stroke-width="1.4"/>
<line x1="424.8" y1="382.7" x2="432" y2="382.7" stroke="#111" stroke-width="1.4"/>
<path d="M427.9 323.9L427.90 320.89M427.9 323.9L430.75 322.96M427.9 323.9L429.66 326.31M427.9 323.9L426.14 326.31M427.9 323.9L425.05 322.96" stroke="#111" stroke-width="1.37" fill="none"/>
<rect x="443.5" y="410.2" width="10.1" height="3.4" fill="#fff" stroke="#111" stroke-width="1.3"/>
<rect x="456.6" y="358.3" width="10.9" height="55.3" fill="#858585" stroke="#111" stroke-width="1.6"/>
<line x1="462" y1="340" x2="462" y2="377.3" stroke="#111" stroke-width="1.4"/>
<line x1="458.4" y1="340" x2="465.6" y2="340" stroke="#111" stroke-width="1.4"/>
<line x1="458.4" y1="377.3" x2="465.6" y2="377.3" stroke="#111" stroke-width="1.4"/>
<path d="M461.5 332.6L461.50 329.59M461.5 332.6L464.35 331.66M461.5 332.6L463.26 335.01M461.5 332.6L459.74 335.01M461.5 332.6L458.65 331.66" stroke="#111" stroke-width="1.37" fill="none"/>
<text x="425.2" y="425" font-size="11.0" font-weight="bold" text-anchor="end" transform="rotate(-45 425.2 425)" fill="#111" stroke="#111" stroke-width="0.35" id="D_MMP9">MMP9</text>
<text x="458.3" y="424.5" font-size="11.0" font-weight="bold" text-anchor="end" transform="rotate(-45 458.3 424.5)" fill="#111" stroke="#111" stroke-width="0.35" id="D_COX2">COX2</text>
<line x1="61.7" y1="521.8" x2="61.7" y2="657.4" stroke="#111" stroke-width="1.7"/>
<line x1="57.6" y1="521.8" x2="61.7" y2="521.8" stroke="#111" stroke-width="1.7"/>
<text x="56.8" y="525" font-size="9" text-anchor="end" fill="#222" stroke="#222" stroke-width="0.3">80</text>
<line x1="57.6" y1="555.7" x2="61.7" y2="555.7" stroke="#111" stroke-width="1.7"/>
<text x="56.8" y="558.9" font-size="9" text-anchor="end" fill="#222" stroke="#222" stroke-width="0.3">60</text>
<line x1="57.6" y1="589.6" x2="61.7" y2="589.6" stroke="#111" stroke-width="1.7"/>
<text x="56.8" y="592.8" font-size="9" text-anchor="end" fill="#222" stroke="#222" stroke-width="0.3">40</text>
<line x1="57.6" y1="623.5" x2="61.7" y2="623.5" stroke="#111" stroke-width="1.7"/>
<text x="56.8" y="626.7" font-size="9" text-anchor="end" fill="#222" stroke="#222" stroke-width="0.3">20</text>
<line x1="57.6" y1="657.4" x2="61.7" y2="657.4" stroke="#111" stroke-width="1.7"/>
<text x="56.8" y="660.6" font-size="9" text-anchor="end" fill="#222" stroke="#222" stroke-width="0.3">0</text>
<line x1="61.7" y1="657.4" x2="115.4" y2="657.4" stroke="#111" stroke-width="1.7"/>
<rect x="65.8" y="646.7" width="18.8" height="10.7" fill="#fff" stroke="#111" stroke-width="1.6"/>
<line x1="75.2" y1="637.3" x2="75.2" y2="655.6" stroke="#111" stroke-width="1.4"/>
<line x1="70.7" y1="637.3" x2="79.7" y2="637.3" stroke="#111" stroke-width="1.4"/>
<line x1="70.7" y1="655.6" x2="79.7" y2="655.6" stroke="#111" stroke-width="1.4"/>
<rect x="93" y="575.1" width="18.5" height="82.3" fill="#858585" stroke="#111" stroke-width="1.6"/>
<line x1="102.2" y1="543.6" x2="102.2" y2="607.1" stroke="#111" stroke-width="1.4"/>
<line x1="97.3" y1="543.6" x2="107.1" y2="543.6" stroke="#111" stroke-width="1.4"/>
<line x1="97.3" y1="607.1" x2="107.1" y2="607.1" stroke="#111" stroke-width="1.4"/>
<path d="M102.6 531.6L102.60 528.21M102.6 531.6L105.85 530.57M102.6 531.6L104.61 534.39M102.6 531.6L100.59 534.39M102.6 531.6L99.35 530.57" stroke="#111" stroke-width="1.56" fill="none"/>
<text x="75.3" y="673.6" font-size="10.2" font-weight="bold" text-anchor="middle" fill="#111" stroke="#111" stroke-width="0.35">Mo</text>
<text x="89.2" y="673.6" font-size="10.2" font-weight="bold" text-anchor="start" textLength="37.3" lengthAdjust="spacingAndGlyphs" fill="#111" stroke="#111" stroke-width="0.35">ALL-Mo</text>
<text x="28" y="589.5" font-size="10.3" font-weight="bold" text-anchor="middle" transform="rotate(-90 28 589.5)" fill="#111" stroke="#111" stroke-width="0.35">CXCL10</text>
<text x="39.6" y="589.5" font-size="10.2" text-anchor="middle" transform="rotate(-90 39.6 589.5)" fill="#222" stroke="#222" stroke-width="0.3">(Fold change wrt&#160; Mo)</text>
<line x1="173.1" y1="522.7" x2="173.1" y2="657.7" stroke="#111" stroke-width="1.7"/>
<line x1="168.6" y1="522.7" x2="173.1" y2="522.7" stroke="#111" stroke-width="1.7"/>
<text x="167.6" y="526.3" font-size="10.3" text-anchor="end" fill="#222" stroke="#222" stroke-width="0.3">400</text>
<line x1="168.6" y1="556.5" x2="173.1" y2="556.5" stroke="#111" stroke-width="1.7"/>
<text x="167.6" y="560.1" font-size="10.3" text-anchor="end" fill="#222" stroke="#222" stroke-width="0.3">300</text>
<line x1="168.6" y1="590.2" x2="173.1" y2="590.2" stroke="#111" stroke-width="1.7"/>
<text x="167.6" y="593.8" font-size="10.3" text-anchor="end" fill="#222" stroke="#222" stroke-width="0.3">200</text>
<line x1="168.6" y1="624" x2="173.1" y2="624" stroke="#111" stroke-width="1.7"/>
<text x="167.6" y="627.6" font-size="10.3" text-anchor="end" fill="#222" stroke="#222" stroke-width="0.3">100</text>
<line x1="168.6" y1="657.7" x2="173.1" y2="657.7" stroke="#111" stroke-width="1.7"/>
<text x="167.6" y="661.3" font-size="10.3" text-anchor="end" fill="#222" stroke="#222" stroke-width="0.3">0</text>
<line x1="173.1" y1="657.7" x2="361.8" y2="657.7" stroke="#111" stroke-width="1.7"/>
<rect x="177.3" y="656" width="9.7" height="1.7" fill="#fff" stroke="#111" stroke-width="1.3"/>
<line x1="182.2" y1="654.5" x2="182.2" y2="657.7" stroke="#111" stroke-width="1.2"/>
<line x1="180.2" y1="654.5" x2="184.2" y2="654.5" stroke="#111" stroke-width="1.2"/>
<line x1="180.2" y1="657.7" x2="184.2" y2="657.7" stroke="#111" stroke-width="1.2"/>
<rect x="190" y="619.6" width="9.9" height="38.1" fill="#858585" stroke="#111" stroke-width="1.5"/>
<line x1="194.9" y1="594.7" x2="194.9" y2="644.3" stroke="#111" stroke-width="1.7"/>
<line x1="191.9" y1="594.7" x2="198" y2="594.7" stroke="#111" stroke-width="1.7"/>
<line x1="191.9" y1="644.3" x2="198" y2="644.3" stroke="#111" stroke-width="1.7"/>
<path d="M194 588.5L194.05 586.01M194 588.5L196.45 587.76M194 588.5L195.53 590.59M194 588.5L192.57 590.59M194 588.5L191.65 587.76" stroke="#111" stroke-width="1.15" fill="none"/>
<rect x="209.1" y="656.8" width="9.7" height="0.9" fill="#fff" stroke="#111" stroke-width="1.3"/>
<line x1="214" y1="655.8" x2="214" y2="657.7" stroke="#111" stroke-width="1.2"/>
<line x1="212" y1="655.8" x2="216" y2="655.8" stroke="#111" stroke-width="1.2"/>
<line x1="212" y1="657.7" x2="216" y2="657.7" stroke="#111" stroke-width="1.2"/>
<rect x="221.8" y="642" width="9.9" height="15.7" fill="#858585" stroke="#111" stroke-width="1.5"/>
<line x1="226.8" y1="630.7" x2="226.8" y2="653.1" stroke="#111" stroke-width="1.7"/>
<line x1="223.7" y1="630.7" x2="229.8" y2="630.7" stroke="#111" stroke-width="1.7"/>
<line x1="223.7" y1="653.1" x2="229.8" y2="653.1" stroke="#111" stroke-width="1.7"/>
<path d="M225.8 624.7L225.85 622.21M225.8 624.7L228.25 623.96M225.8 624.7L227.33 626.79M225.8 624.7L224.37 626.79M225.8 624.7L223.45 623.96" stroke="#111" stroke-width="1.15" fill="none"/>
<rect x="240.9" y="657.2" width="9.7" height="0.5" fill="#fff" stroke="#111" stroke-width="1.3"/>
<rect x="253.6" y="643.4" width="9.9" height="14.3" fill="#858585" stroke="#111" stroke-width="1.5"/>
<line x1="258.6" y1="641.5" x2="258.6" y2="646.2" stroke="#111" stroke-width="1.7"/>
<line x1="255.5" y1="641.5" x2="261.6" y2="641.5" stroke="#111" stroke-width="1.7"/>
<line x1="255.5" y1="646.2" x2="261.6" y2="646.2" stroke="#111" stroke-width="1.7"/>
<path d="M257.7 635.8L257.65 633.31M257.7 635.8L260.05 635.06M257.7 635.8L259.13 637.89M257.7 635.8L256.17 637.89M257.7 635.8L255.25 635.06" stroke="#111" stroke-width="1.15" fill="none"/>
<rect x="272.7" y="657.3" width="9.7" height="0.4" fill="#fff" stroke="#111" stroke-width="1.3"/>
<rect x="285.4" y="656.9" width="9.9" height="0.8" fill="#858585" stroke="#111" stroke-width="1.1"/>
<rect x="304.5" y="657.3" width="9.7" height="0.4" fill="#fff" stroke="#111" stroke-width="1.3"/>
<rect x="317.2" y="552.2" width="9.9" height="105.5" fill="#858585" stroke="#111" stroke-width="1.5"/>
<line x1="322.1" y1="528" x2="322.1" y2="576.2" stroke="#111" stroke-width="1.7"/>
<line x1="319.1" y1="528" x2="325.2" y2="528" stroke="#111" stroke-width="1.7"/>
<line x1="319.1" y1="576.2" x2="325.2" y2="576.2" stroke="#111" stroke-width="1.7"/>
<path d="M321.2 520.4L321.25 517.91M321.2 520.4L323.65 519.66M321.2 520.4L322.73 522.49M321.2 520.4L319.77 522.49M321.2 520.4L318.85 519.66" stroke="#111" stroke-width="1.15" fill="none"/>
<rect x="336.3" y="657.2" width="9.7" height="0.5" fill="#fff" stroke="#111" stroke-width="1.3"/>
<rect x="349" y="642.6" width="9.9" height="15.1" fill="#858585" stroke="#111" stroke-width="1.5"/>
<line x1="353.9" y1="632.6" x2="353.9" y2="652.6" stroke="#111" stroke-width="1.7"/>
<line x1="350.9" y1="632.6" x2="357" y2="632.6" stroke="#111" stroke-width="1.7"/>
<line x1="350.9" y1="652.6" x2="357" y2="652.6" stroke="#111" stroke-width="1.7"/>
<path d="M353.1 622.8L353.05 620.31M353.1 622.8L355.45 622.06M353.1 622.8L354.53 624.89M353.1 622.8L351.57 624.89M353.1 622.8L350.65 622.06" stroke="#111" stroke-width="1.15" fill="none"/>
<rect x="180.3" y="524.3" width="15.5" height="7" rx="1.1" fill="#fff" stroke="#111" stroke-width="1.5"/>
<rect x="180.3" y="537.8" width="15.5" height="7.3" rx="1.1" fill="#858585" stroke="#111" stroke-width="1.5"/>
<text x="204.3" y="531.8" font-size="11" font-weight="bold" text-anchor="start" fill="#111" stroke="#111" stroke-width="0.35">Mo</text>
<text x="204.3" y="545.3" font-size="11" font-weight="bold" text-anchor="start" textLength="41" lengthAdjust="spacingAndGlyphs" fill="#111" stroke="#111" stroke-width="0.35">ALL-Mo</text>
<text x="140.8" y="590.3" font-size="9.2" text-anchor="middle" transform="rotate(-90 140.8 590.3)" fill="#222" stroke="#222" stroke-width="0.3">Fold change wrt&#160; Mo</text>
<text x="190.9" y="667.5" font-size="10.4" font-weight="bold" text-anchor="end" transform="rotate(-45 190.9 667.5)" fill="#111" stroke="#111" stroke-width="0.35" id="E_TNFA">TNFA</text>
<text x="222.8" y="667.2" font-size="10.4" font-weight="bold" text-anchor="end" transform="rotate(-45 222.8 667.2)" fill="#111" stroke="#111" stroke-width="0.35" id="E_IL-12p40">IL-12p40</text>
<text x="255.1" y="667.2" font-size="10.4" font-weight="bold" text-anchor="end" transform="rotate(-45 255.1 667.2)" fill="#111" stroke="#111" stroke-width="0.35" id="E_IL-23p19">IL-23p19</text>
<text x="286.1" y="667" font-size="10.4" font-weight="bold" text-anchor="end" transform="rotate(-45 286.1 667)" fill="#111" stroke="#111" stroke-width="0.35" id="E_IL-10">IL-10</text>
<text x="316.9" y="668.2" font-size="10.4" font-weight="bold" text-anchor="end" transform="rotate(-45 316.9 668.2)" fill="#111" stroke="#111" stroke-width="0.35" id="E_MMP9">MMP9</text>
<text x="348.9" y="668.5" font-size="10.4" font-weight="bold" text-anchor="end" transform="rotate(-45 348.9 668.5)" fill="#111" stroke="#111" stroke-width="0.35" id="E_COX2">COX2</text>
<line x1="450.6" y1="525.3" x2="450.6" y2="656.9" stroke="#111" stroke-width="1.7"/>
<line x1="446.4" y1="525.2" x2="450.6" y2="525.2" stroke="#111" stroke-width="1.7"/>
<text x="445.6" y="528.4" font-size="9" font-weight="bold" text-anchor="end" fill="#222" stroke="#222" stroke-width="0.35">60</text>
<line x1="446.4" y1="569.1" x2="450.6" y2="569.1" stroke="#111" stroke-width="1.7"/>
<text x="445.6" y="572.3" font-size="9" font-weight="bold" text-anchor="end" fill="#222" stroke="#222" stroke-width="0.35">40</text>
<line x1="446.4" y1="613" x2="450.6" y2="613" stroke="#111" stroke-width="1.7"/>
<text x="445.6" y="616.2" font-size="9" font-weight="bold" text-anchor="end" fill="#222" stroke="#222" stroke-width="0.35">20</text>
<line x1="446.4" y1="656.9" x2="450.6" y2="656.9" stroke="#111" stroke-width="1.7"/>
<text x="445.6" y="660.1" font-size="9" font-weight="bold" text-anchor="end" fill="#222" stroke="#222" stroke-width="0.35">0</text>
<line x1="450.6" y1="656.9" x2="499.6" y2="656.9" stroke="#111" stroke-width="1.7"/>
<rect x="454" y="654.7" width="17.5" height="2.2" fill="#fff" stroke="#111" stroke-width="1.2"/>
<rect x="479.5" y="581.6" width="17" height="75.3" fill="#858585" stroke="#111" stroke-width="1.6"/>
<line x1="488.3" y1="547.2" x2="488.3" y2="615.6" stroke="#111" stroke-width="1.4"/>
<line x1="483.4" y1="547.2" x2="493.2" y2="547.2" stroke="#111" stroke-width="1.4"/>
<line x1="483.4" y1="615.6" x2="493.2" y2="615.6" stroke="#111" stroke-width="1.4"/>
<text x="464.7" y="670.9" font-size="9.6" font-weight="bold" text-anchor="middle" fill="#111" stroke="#111" stroke-width="0.35">Mo</text>
<text x="479.4" y="670.9" font-size="9.8" font-weight="bold" text-anchor="start" textLength="36.6" lengthAdjust="spacingAndGlyphs" fill="#111" stroke="#111" stroke-width="0.35">ALL-Mo</text>
<text x="415.2" y="591" font-size="9.4" font-weight="bold" text-anchor="middle" transform="rotate(-90 415.2 591)" fill="#111" stroke="#111" stroke-width="0.35">CXCL10</text>
<text x="426" y="591.3" font-size="9.6" text-anchor="middle" transform="rotate(-90 426 591.3)" fill="#222" stroke="#222" stroke-width="0.3">(Fold changes wrt Mo)</text>
</svg>
</body></html>
